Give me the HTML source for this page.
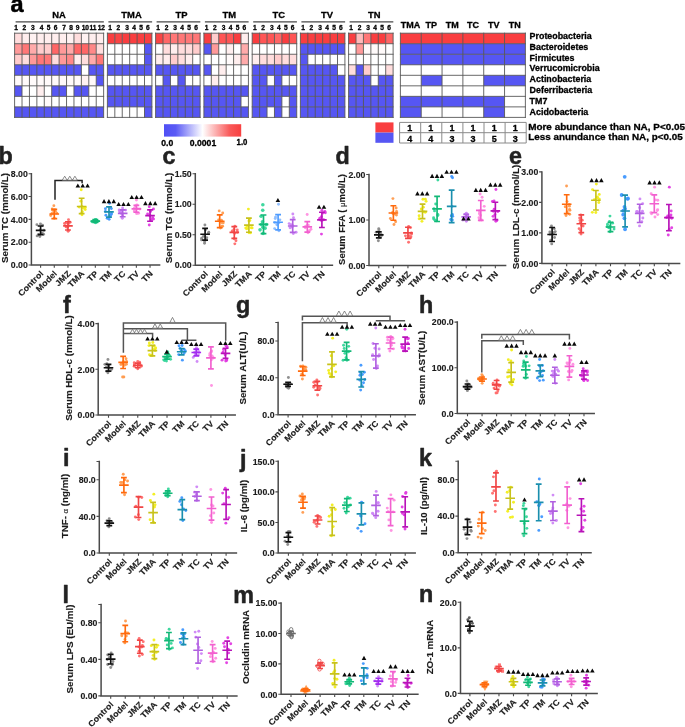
<!DOCTYPE html>
<html><head><meta charset="utf-8"><title>Figure</title>
<style>
html,body{margin:0;padding:0;background:#fff;}
body{width:685px;height:727px;overflow:hidden;font-family:"Liberation Sans",sans-serif;}
svg{display:block;}
svg text{font-family:"Liberation Sans",sans-serif;font-weight:bold;fill:#1a1a1a;stroke:#1a1a1a;stroke-width:0.3px;stroke-linejoin:round;}
svg text.L{fill:#222;stroke:#222;stroke-width:0.5px;}
svg #heatmap text{fill:#000;stroke:#000;}
svg text.P{stroke:#2b2b2b;stroke-width:0.15px;}
</style></head><body>
<div style="will-change:transform;width:685px;height:727px">
<svg width="685" height="727" viewBox="0 0 685 727">
<rect x="0" y="0" width="685" height="727" fill="#ffffff"/>
<g id="heatmap"><text class="L" x="10.5" y="12.4" font-size="23.5">a</text><rect x="14.60" y="33.20" width="7.42" height="10.53" fill="#ffdddd"/><rect x="22.02" y="33.20" width="7.42" height="10.53" fill="#ffeeee"/><rect x="29.44" y="33.20" width="7.42" height="10.53" fill="#fff2f2"/><rect x="36.86" y="33.20" width="29.68" height="10.53" fill="#ffeeee"/><rect x="66.54" y="33.20" width="7.42" height="10.53" fill="#fff2f2"/><rect x="73.96" y="33.20" width="7.42" height="10.53" fill="#ffdddd"/><rect x="81.38" y="33.20" width="7.42" height="10.53" fill="#fff2f2"/><rect x="88.80" y="33.20" width="14.84" height="10.53" fill="#ffeeee"/><rect x="14.60" y="43.73" width="7.42" height="10.53" fill="#ff9999"/><rect x="22.02" y="43.73" width="7.42" height="10.53" fill="#ff7777"/><rect x="29.44" y="43.73" width="7.42" height="10.53" fill="#ffaaaa"/><rect x="36.86" y="43.73" width="14.84" height="10.53" fill="#ffcccc"/><rect x="51.70" y="43.73" width="7.42" height="10.53" fill="#ff6666"/><rect x="59.12" y="43.73" width="7.42" height="10.53" fill="#ff9999"/><rect x="66.54" y="43.73" width="7.42" height="10.53" fill="#ffaaaa"/><rect x="73.96" y="43.73" width="14.84" height="10.53" fill="#ff6666"/><rect x="88.80" y="43.73" width="7.42" height="10.53" fill="#ff8888"/><rect x="96.22" y="43.73" width="7.42" height="10.53" fill="#ffdddd"/><rect x="14.60" y="54.25" width="7.42" height="10.53" fill="#ffcccc"/><rect x="22.02" y="54.25" width="7.42" height="10.53" fill="#ffdddd"/><rect x="29.44" y="54.25" width="7.42" height="10.53" fill="#ff9999"/><rect x="36.86" y="54.25" width="14.84" height="10.53" fill="#ff7777"/><rect x="51.70" y="54.25" width="7.42" height="10.53" fill="#ffdddd"/><rect x="59.12" y="54.25" width="7.42" height="10.53" fill="#ff9999"/><rect x="66.54" y="54.25" width="7.42" height="10.53" fill="#ff8888"/><rect x="73.96" y="54.25" width="7.42" height="10.53" fill="#ffeeee"/><rect x="81.38" y="54.25" width="7.42" height="10.53" fill="#ffdddd"/><rect x="88.80" y="54.25" width="7.42" height="10.53" fill="#ffaaaa"/><rect x="96.22" y="54.25" width="7.42" height="10.53" fill="#ff7777"/><rect x="14.60" y="64.78" width="66.78" height="10.53" fill="#5656f3"/><rect x="88.80" y="64.78" width="14.84" height="10.53" fill="#5656f3"/><rect x="14.60" y="75.30" width="66.78" height="10.53" fill="#fffafa"/><rect x="81.38" y="75.30" width="7.42" height="10.53" fill="#fff2f2"/><rect x="88.80" y="75.30" width="7.42" height="10.53" fill="#fffafa"/><rect x="96.22" y="75.30" width="7.42" height="10.53" fill="#5656f3"/><rect x="14.60" y="85.83" width="7.42" height="10.53" fill="#5656f3"/><rect x="36.86" y="85.83" width="7.42" height="10.53" fill="#ffeeee"/><rect x="51.70" y="85.83" width="14.84" height="10.53" fill="#5656f3"/><rect x="73.96" y="85.83" width="14.84" height="10.53" fill="#5656f3"/><rect x="44.28" y="96.35" width="7.42" height="10.53" fill="#fffafa"/><rect x="14.60" y="106.88" width="89.04" height="10.53" fill="#5656f3"/><path d="M14.60 33.20H103.64M14.60 43.73H103.64M14.60 54.25H103.64M14.60 64.78H103.64M14.60 75.30H103.64M14.60 85.83H103.64M14.60 96.35H103.64M14.60 106.88H103.64M14.60 117.40H103.64M14.60 33.20V117.40M22.02 33.20V117.40M29.44 33.20V117.40M36.86 33.20V117.40M44.28 33.20V117.40M51.70 33.20V117.40M59.12 33.20V117.40M66.54 33.20V117.40M73.96 33.20V117.40M81.38 33.20V117.40M88.80 33.20V117.40M96.22 33.20V117.40M103.64 33.20V117.40" stroke="#585858" stroke-width="0.90" fill="none" stroke-linecap="square"/><text x="58.90" y="17.80" font-size="9.4" text-anchor="middle">NA</text><path d="M15.60 21.9H103.84" stroke="#484848" stroke-width="1.1"/><text x="16.10" y="29.9" font-size="6.6" text-anchor="middle">1</text><text x="24.40" y="29.9" font-size="6.6" text-anchor="middle">2</text><text x="32.90" y="29.9" font-size="6.6" text-anchor="middle">3</text><text x="41.50" y="29.9" font-size="6.6" text-anchor="middle">4</text><text x="48.50" y="29.9" font-size="6.6" text-anchor="middle">5</text><text x="55.70" y="29.9" font-size="6.6" text-anchor="middle">6</text><text x="64.10" y="29.9" font-size="6.6" text-anchor="middle">7</text><text x="71.00" y="29.9" font-size="6.6" text-anchor="middle">8</text><text x="77.60" y="29.9" font-size="6.6" text-anchor="middle">9</text><text x="85.30" y="29.9" font-size="6.6" text-anchor="middle">10</text><text x="92.90" y="29.9" font-size="6.6" text-anchor="middle">11</text><text x="101.30" y="29.9" font-size="6.6" text-anchor="middle">12</text><rect x="107.40" y="33.20" width="7.42" height="10.53" fill="#f93e40"/><rect x="114.82" y="33.20" width="7.42" height="10.53" fill="#fa4444"/><rect x="122.24" y="33.20" width="29.68" height="10.53" fill="#f93e40"/><rect x="144.50" y="43.73" width="7.42" height="10.53" fill="#5656f3"/><rect x="144.50" y="54.25" width="7.42" height="10.53" fill="#5656f3"/><rect x="107.40" y="64.78" width="44.52" height="10.53" fill="#5656f3"/><rect x="107.40" y="85.83" width="44.52" height="10.53" fill="#5656f3"/><rect x="107.40" y="96.35" width="44.52" height="10.53" fill="#5656f3"/><rect x="144.50" y="106.88" width="7.42" height="10.53" fill="#5656f3"/><path d="M107.40 33.20H151.92M107.40 43.73H151.92M107.40 54.25H151.92M107.40 64.78H151.92M107.40 75.30H151.92M107.40 85.83H151.92M107.40 96.35H151.92M107.40 106.88H151.92M107.40 117.40H151.92M107.40 33.20V117.40M114.82 33.20V117.40M122.24 33.20V117.40M129.66 33.20V117.40M137.08 33.20V117.40M144.50 33.20V117.40M151.92 33.20V117.40" stroke="#585858" stroke-width="0.90" fill="none" stroke-linecap="square"/><text x="131.50" y="17.50" font-size="9.4" text-anchor="middle">TMA</text><path d="M108.40 21.9H152.12" stroke="#484848" stroke-width="1.1"/><text x="110.00" y="29.9" font-size="6.6" text-anchor="middle">1</text><text x="118.30" y="29.9" font-size="6.6" text-anchor="middle">2</text><text x="127.00" y="29.9" font-size="6.6" text-anchor="middle">3</text><text x="134.00" y="29.9" font-size="6.6" text-anchor="middle">4</text><text x="141.00" y="29.9" font-size="6.6" text-anchor="middle">5</text><text x="147.80" y="29.9" font-size="6.6" text-anchor="middle">6</text><rect x="155.60" y="33.20" width="7.42" height="10.53" fill="#fa4444"/><rect x="163.02" y="33.20" width="7.42" height="10.53" fill="#ff6666"/><rect x="170.44" y="33.20" width="29.68" height="10.53" fill="#ff7777"/><rect x="163.02" y="43.73" width="7.42" height="10.53" fill="#ffdddd"/><rect x="170.44" y="43.73" width="7.42" height="10.53" fill="#ffeeee"/><rect x="177.86" y="43.73" width="14.84" height="10.53" fill="#ffdddd"/><rect x="192.70" y="43.73" width="7.42" height="10.53" fill="#ffcccc"/><rect x="155.60" y="54.25" width="14.84" height="10.53" fill="#ffeeee"/><rect x="170.44" y="54.25" width="7.42" height="10.53" fill="#ffcccc"/><rect x="177.86" y="54.25" width="7.42" height="10.53" fill="#ffdddd"/><rect x="185.28" y="54.25" width="7.42" height="10.53" fill="#ffeeee"/><rect x="155.60" y="64.78" width="44.52" height="10.53" fill="#5656f3"/><rect x="163.02" y="75.30" width="7.42" height="10.53" fill="#5656f3"/><rect x="177.86" y="75.30" width="7.42" height="10.53" fill="#5656f3"/><rect x="155.60" y="85.83" width="44.52" height="10.53" fill="#5656f3"/><rect x="155.60" y="96.35" width="44.52" height="10.53" fill="#5656f3"/><rect x="155.60" y="106.88" width="44.52" height="10.53" fill="#5656f3"/><path d="M155.60 33.20H200.12M155.60 43.73H200.12M155.60 54.25H200.12M155.60 64.78H200.12M155.60 75.30H200.12M155.60 85.83H200.12M155.60 96.35H200.12M155.60 106.88H200.12M155.60 117.40H200.12M155.60 33.20V117.40M163.02 33.20V117.40M170.44 33.20V117.40M177.86 33.20V117.40M185.28 33.20V117.40M192.70 33.20V117.40M200.12 33.20V117.40" stroke="#585858" stroke-width="0.90" fill="none" stroke-linecap="square"/><text x="181.50" y="17.50" font-size="9.4" text-anchor="middle">TP</text><path d="M156.60 21.9H200.32" stroke="#484848" stroke-width="1.1"/><text x="158.20" y="29.9" font-size="6.6" text-anchor="middle">1</text><text x="166.50" y="29.9" font-size="6.6" text-anchor="middle">2</text><text x="175.20" y="29.9" font-size="6.6" text-anchor="middle">3</text><text x="182.20" y="29.9" font-size="6.6" text-anchor="middle">4</text><text x="189.20" y="29.9" font-size="6.6" text-anchor="middle">5</text><text x="196.00" y="29.9" font-size="6.6" text-anchor="middle">6</text><rect x="203.90" y="33.20" width="7.42" height="10.53" fill="#f93e40"/><rect x="211.32" y="33.20" width="7.42" height="10.53" fill="#ffcccc"/><rect x="218.74" y="33.20" width="14.84" height="10.53" fill="#ff5555"/><rect x="233.58" y="33.20" width="7.42" height="10.53" fill="#f93e40"/><rect x="241.00" y="33.20" width="7.42" height="10.53" fill="#ffeeee"/><rect x="203.90" y="43.73" width="7.42" height="10.53" fill="#5656f3"/><rect x="211.32" y="43.73" width="7.42" height="10.53" fill="#ff9999"/><rect x="226.16" y="43.73" width="7.42" height="10.53" fill="#ffeeee"/><rect x="241.00" y="43.73" width="7.42" height="10.53" fill="#ffaaaa"/><rect x="226.16" y="54.25" width="7.42" height="10.53" fill="#fffafa"/><rect x="233.58" y="54.25" width="7.42" height="10.53" fill="#ffeeee"/><rect x="241.00" y="54.25" width="7.42" height="10.53" fill="#ffaaaa"/><rect x="203.90" y="64.78" width="7.42" height="10.53" fill="#5656f3"/><rect x="218.74" y="64.78" width="7.42" height="10.53" fill="#ffeeee"/><rect x="211.32" y="75.30" width="7.42" height="10.53" fill="#ffeeee"/><rect x="203.90" y="85.83" width="44.52" height="10.53" fill="#5656f3"/><rect x="203.90" y="96.35" width="37.10" height="10.53" fill="#5656f3"/><rect x="203.90" y="106.88" width="44.52" height="10.53" fill="#5656f3"/><path d="M203.90 33.20H248.42M203.90 43.73H248.42M203.90 54.25H248.42M203.90 64.78H248.42M203.90 75.30H248.42M203.90 85.83H248.42M203.90 96.35H248.42M203.90 106.88H248.42M203.90 117.40H248.42M203.90 33.20V117.40M211.32 33.20V117.40M218.74 33.20V117.40M226.16 33.20V117.40M233.58 33.20V117.40M241.00 33.20V117.40M248.42 33.20V117.40" stroke="#585858" stroke-width="0.90" fill="none" stroke-linecap="square"/><text x="229.20" y="17.50" font-size="9.4" text-anchor="middle">TM</text><path d="M204.90 21.9H248.62" stroke="#484848" stroke-width="1.1"/><text x="206.50" y="29.9" font-size="6.6" text-anchor="middle">1</text><text x="214.80" y="29.9" font-size="6.6" text-anchor="middle">2</text><text x="223.50" y="29.9" font-size="6.6" text-anchor="middle">3</text><text x="230.50" y="29.9" font-size="6.6" text-anchor="middle">4</text><text x="237.50" y="29.9" font-size="6.6" text-anchor="middle">5</text><text x="244.30" y="29.9" font-size="6.6" text-anchor="middle">6</text><rect x="252.20" y="33.20" width="7.42" height="10.53" fill="#f93e40"/><rect x="259.62" y="33.20" width="14.84" height="10.53" fill="#ff5555"/><rect x="274.46" y="33.20" width="7.42" height="10.53" fill="#ff6666"/><rect x="281.88" y="33.20" width="7.42" height="10.53" fill="#f93e40"/><rect x="289.30" y="33.20" width="7.42" height="10.53" fill="#ff5555"/><rect x="252.20" y="54.25" width="7.42" height="10.53" fill="#ffeeee"/><rect x="259.62" y="54.25" width="14.84" height="10.53" fill="#ffdddd"/><rect x="274.46" y="54.25" width="7.42" height="10.53" fill="#ffcccc"/><rect x="281.88" y="54.25" width="14.84" height="10.53" fill="#ffdddd"/><rect x="252.20" y="64.78" width="44.52" height="10.53" fill="#5656f3"/><rect x="252.20" y="75.30" width="14.84" height="10.53" fill="#5656f3"/><rect x="274.46" y="75.30" width="7.42" height="10.53" fill="#5656f3"/><rect x="252.20" y="85.83" width="44.52" height="10.53" fill="#5656f3"/><rect x="252.20" y="96.35" width="29.68" height="10.53" fill="#5656f3"/><rect x="289.30" y="96.35" width="7.42" height="10.53" fill="#5656f3"/><rect x="252.20" y="106.88" width="14.84" height="10.53" fill="#5656f3"/><rect x="274.46" y="106.88" width="7.42" height="10.53" fill="#5656f3"/><rect x="289.30" y="106.88" width="7.42" height="10.53" fill="#5656f3"/><path d="M252.20 33.20H296.72M252.20 43.73H296.72M252.20 54.25H296.72M252.20 64.78H296.72M252.20 75.30H296.72M252.20 85.83H296.72M252.20 96.35H296.72M252.20 106.88H296.72M252.20 117.40H296.72M252.20 33.20V117.40M259.62 33.20V117.40M267.04 33.20V117.40M274.46 33.20V117.40M281.88 33.20V117.40M289.30 33.20V117.40M296.72 33.20V117.40" stroke="#585858" stroke-width="0.90" fill="none" stroke-linecap="square"/><text x="278.80" y="17.50" font-size="9.4" text-anchor="middle">TC</text><path d="M253.20 21.9H296.92" stroke="#484848" stroke-width="1.1"/><text x="254.80" y="29.9" font-size="6.6" text-anchor="middle">1</text><text x="263.10" y="29.9" font-size="6.6" text-anchor="middle">2</text><text x="271.80" y="29.9" font-size="6.6" text-anchor="middle">3</text><text x="278.80" y="29.9" font-size="6.6" text-anchor="middle">4</text><text x="285.80" y="29.9" font-size="6.6" text-anchor="middle">5</text><text x="292.60" y="29.9" font-size="6.6" text-anchor="middle">6</text><rect x="300.40" y="33.20" width="44.52" height="10.53" fill="#f93e40"/><rect x="300.40" y="43.73" width="44.52" height="10.53" fill="#5656f3"/><rect x="300.40" y="54.25" width="7.42" height="10.53" fill="#5656f3"/><rect x="300.40" y="64.78" width="37.10" height="10.53" fill="#5656f3"/><rect x="300.40" y="75.30" width="44.52" height="10.53" fill="#5656f3"/><rect x="300.40" y="85.83" width="44.52" height="10.53" fill="#5656f3"/><rect x="300.40" y="96.35" width="44.52" height="10.53" fill="#5656f3"/><rect x="300.40" y="106.88" width="44.52" height="10.53" fill="#5656f3"/><path d="M300.40 33.20H344.92M300.40 43.73H344.92M300.40 54.25H344.92M300.40 64.78H344.92M300.40 75.30H344.92M300.40 85.83H344.92M300.40 96.35H344.92M300.40 106.88H344.92M300.40 117.40H344.92M300.40 33.20V117.40M307.82 33.20V117.40M315.24 33.20V117.40M322.66 33.20V117.40M330.08 33.20V117.40M337.50 33.20V117.40M344.92 33.20V117.40" stroke="#585858" stroke-width="0.90" fill="none" stroke-linecap="square"/><text x="327.00" y="17.50" font-size="9.4" text-anchor="middle">TV</text><path d="M301.40 21.9H345.12" stroke="#484848" stroke-width="1.1"/><text x="303.00" y="29.9" font-size="6.6" text-anchor="middle">1</text><text x="311.30" y="29.9" font-size="6.6" text-anchor="middle">2</text><text x="320.00" y="29.9" font-size="6.6" text-anchor="middle">3</text><text x="327.00" y="29.9" font-size="6.6" text-anchor="middle">4</text><text x="334.00" y="29.9" font-size="6.6" text-anchor="middle">5</text><text x="340.80" y="29.9" font-size="6.6" text-anchor="middle">6</text><rect x="348.60" y="33.20" width="7.42" height="10.53" fill="#f93e40"/><rect x="356.02" y="33.20" width="7.42" height="10.53" fill="#ffbbbb"/><rect x="363.44" y="33.20" width="7.42" height="10.53" fill="#ff7777"/><rect x="370.86" y="33.20" width="14.84" height="10.53" fill="#f93e40"/><rect x="385.70" y="33.20" width="7.42" height="10.53" fill="#ff6666"/><rect x="356.02" y="43.73" width="7.42" height="10.53" fill="#ff9999"/><rect x="363.44" y="43.73" width="22.26" height="10.53" fill="#fffafa"/><rect x="348.60" y="64.78" width="7.42" height="10.53" fill="#ffdddd"/><rect x="356.02" y="64.78" width="7.42" height="10.53" fill="#5656f3"/><rect x="363.44" y="64.78" width="7.42" height="10.53" fill="#ffcccc"/><rect x="385.70" y="64.78" width="7.42" height="10.53" fill="#ffdddd"/><rect x="348.60" y="75.30" width="22.26" height="10.53" fill="#5656f3"/><rect x="378.28" y="75.30" width="14.84" height="10.53" fill="#5656f3"/><rect x="348.60" y="85.83" width="44.52" height="10.53" fill="#5656f3"/><rect x="348.60" y="96.35" width="44.52" height="10.53" fill="#5656f3"/><rect x="348.60" y="106.88" width="44.52" height="10.53" fill="#5656f3"/><path d="M348.60 33.20H393.12M348.60 43.73H393.12M348.60 54.25H393.12M348.60 64.78H393.12M348.60 75.30H393.12M348.60 85.83H393.12M348.60 96.35H393.12M348.60 106.88H393.12M348.60 117.40H393.12M348.60 33.20V117.40M356.02 33.20V117.40M363.44 33.20V117.40M370.86 33.20V117.40M378.28 33.20V117.40M385.70 33.20V117.40M393.12 33.20V117.40" stroke="#585858" stroke-width="0.90" fill="none" stroke-linecap="square"/><text x="374.30" y="17.50" font-size="9.4" text-anchor="middle">TN</text><path d="M349.60 21.9H393.32" stroke="#484848" stroke-width="1.1"/><text x="351.20" y="29.9" font-size="6.6" text-anchor="middle">1</text><text x="359.50" y="29.9" font-size="6.6" text-anchor="middle">2</text><text x="368.20" y="29.9" font-size="6.6" text-anchor="middle">3</text><text x="375.20" y="29.9" font-size="6.6" text-anchor="middle">4</text><text x="382.20" y="29.9" font-size="6.6" text-anchor="middle">5</text><text x="389.00" y="29.9" font-size="6.6" text-anchor="middle">6</text><rect x="400.40" y="33.20" width="124.98" height="10.53" fill="#f93e40"/><rect x="400.40" y="43.73" width="124.98" height="10.53" fill="#5656f3"/><rect x="400.40" y="54.25" width="124.98" height="10.53" fill="#5656f3"/><rect x="421.23" y="75.30" width="20.83" height="10.53" fill="#5656f3"/><rect x="483.72" y="75.30" width="41.66" height="10.53" fill="#5656f3"/><rect x="400.40" y="96.35" width="104.15" height="10.53" fill="#5656f3"/><rect x="400.40" y="106.88" width="20.83" height="10.53" fill="#5656f3"/><rect x="483.72" y="106.88" width="20.83" height="10.53" fill="#5656f3"/><path d="M400.40 33.20H525.38M400.40 43.73H525.38M400.40 54.25H525.38M400.40 64.78H525.38M400.40 75.30H525.38M400.40 85.83H525.38M400.40 96.35H525.38M400.40 106.88H525.38M400.40 117.40H525.38M400.40 33.20V117.40M421.23 33.20V117.40M442.06 33.20V117.40M462.89 33.20V117.40M483.72 33.20V117.40M504.55 33.20V117.40M525.38 33.20V117.40" stroke="#585858" stroke-width="0.90" fill="none" stroke-linecap="square"/><text x="410.51" y="27.5" font-size="9" text-anchor="middle">TMA</text><text x="431.34" y="27.5" font-size="9" text-anchor="middle">TP</text><text x="452.17" y="27.5" font-size="9" text-anchor="middle">TM</text><text x="473.00" y="27.5" font-size="9" text-anchor="middle">TC</text><text x="493.83" y="27.5" font-size="9" text-anchor="middle">TV</text><text x="514.66" y="27.5" font-size="9" text-anchor="middle">TN</text><text x="529.6" y="38.90" font-size="8.9">Proteobacteria</text><text x="529.6" y="49.70" font-size="8.9">Bacteroidetes</text><text x="529.6" y="60.50" font-size="8.9">Firmicutes</text><text x="529.6" y="71.30" font-size="8.9">Verrucomicrobia</text><text x="529.6" y="82.10" font-size="8.9">Actinobacteria</text><text x="529.6" y="92.90" font-size="8.9">Deferribacteria</text><text x="529.6" y="103.70" font-size="8.9">TM7</text><text x="529.6" y="114.50" font-size="8.9">Acidobacteria</text><path d="M399.60 122.40H526.20M399.60 132.70H526.20M399.60 143.00H526.20M399.60 122.40V143.00M420.70 122.40V143.00M441.80 122.40V143.00M462.90 122.40V143.00M484.00 122.40V143.00M505.10 122.40V143.00M526.20 122.40V143.00" stroke="#8a8a8a" stroke-width="1.0" fill="none"/><text x="409.75" y="131.1" font-size="9" text-anchor="middle">1</text><text x="409.75" y="141.5" font-size="9" text-anchor="middle">4</text><text x="430.85" y="131.1" font-size="9" text-anchor="middle">1</text><text x="430.85" y="141.5" font-size="9" text-anchor="middle">4</text><text x="451.95" y="131.1" font-size="9" text-anchor="middle">1</text><text x="451.95" y="141.5" font-size="9" text-anchor="middle">3</text><text x="473.05" y="131.1" font-size="9" text-anchor="middle">1</text><text x="473.05" y="141.5" font-size="9" text-anchor="middle">3</text><text x="494.15" y="131.1" font-size="9" text-anchor="middle">1</text><text x="494.15" y="141.5" font-size="9" text-anchor="middle">5</text><text x="515.25" y="131.1" font-size="9" text-anchor="middle">1</text><text x="515.25" y="141.5" font-size="9" text-anchor="middle">3</text><text x="528.2" y="129.5" font-size="9.7" textLength="156.8" lengthAdjust="spacingAndGlyphs">More abundance than NA, P&lt;0.05</text><text x="528.2" y="140.3" font-size="9.7" textLength="154.6" lengthAdjust="spacingAndGlyphs">Less anundance than NA, p&lt;0.05</text><rect x="375.4" y="122.4" width="18.1" height="10.2" fill="#f93e40"/><rect x="375.4" y="132.6" width="18.1" height="10.2" fill="#5656f3"/><defs><linearGradient id="cb" x1="0" x2="1" y1="0" y2="0"><stop offset="0" stop-color="#5050f5"/><stop offset="0.15" stop-color="#5a5af5"/><stop offset="0.5" stop-color="#ffffff"/><stop offset="0.85" stop-color="#f95a5a"/><stop offset="1" stop-color="#f84040"/></linearGradient></defs><rect x="164.0" y="124.2" width="77.2" height="12.4" fill="url(#cb)"/><text x="161.2" y="145.6" font-size="8.7" textLength="12" lengthAdjust="spacingAndGlyphs">0.0</text><text x="189.8" y="145.6" font-size="8.7" textLength="26.4" lengthAdjust="spacingAndGlyphs">0.0001</text><text x="236.6" y="144.5" font-size="8.7" textLength="10.8" lengthAdjust="spacingAndGlyphs">1.0</text></g><g><circle cx="39.85" cy="236.47" r="1.45" fill="#8a8a8a" fill-opacity="0.95"/><circle cx="40.49" cy="223.91" r="1.45" fill="#8a8a8a" fill-opacity="0.95"/><circle cx="42.54" cy="225.28" r="1.45" fill="#8a8a8a" fill-opacity="0.95"/><circle cx="36.92" cy="224.65" r="1.45" fill="#8a8a8a" fill-opacity="0.95"/><circle cx="40.20" cy="230.05" r="1.45" fill="#8a8a8a" fill-opacity="0.95"/><circle cx="42.24" cy="233.29" r="1.45" fill="#8a8a8a" fill-opacity="0.95"/><circle cx="38.59" cy="234.57" r="1.45" fill="#8a8a8a" fill-opacity="0.95"/><circle cx="43.90" cy="230.18" r="1.45" fill="#8a8a8a" fill-opacity="0.95"/><circle cx="43.57" cy="234.30" r="1.45" fill="#8a8a8a" fill-opacity="0.95"/><circle cx="37.13" cy="235.91" r="1.45" fill="#8a8a8a" fill-opacity="0.95"/><path d="M40.60 225.97V234.64M37.70 225.97H43.50M37.70 234.64H43.50M35.80 230.31H45.40" stroke="#111111" stroke-width="1.65" fill="none"/><circle cx="54.27" cy="218.21" r="1.45" fill="#ff9a4d" fill-opacity="0.95"/><circle cx="53.85" cy="205.66" r="1.45" fill="#ff9a4d" fill-opacity="0.95"/><circle cx="52.20" cy="208.92" r="1.45" fill="#ff9a4d" fill-opacity="0.95"/><circle cx="53.98" cy="213.17" r="1.45" fill="#ff9a4d" fill-opacity="0.95"/><circle cx="52.72" cy="210.25" r="1.45" fill="#ff9a4d" fill-opacity="0.95"/><circle cx="50.74" cy="215.49" r="1.45" fill="#ff9a4d" fill-opacity="0.95"/><circle cx="56.78" cy="213.09" r="1.45" fill="#ff9a4d" fill-opacity="0.95"/><circle cx="54.70" cy="209.78" r="1.45" fill="#ff9a4d" fill-opacity="0.95"/><circle cx="55.33" cy="211.13" r="1.45" fill="#ff9a4d" fill-opacity="0.95"/><circle cx="51.96" cy="213.46" r="1.45" fill="#ff9a4d" fill-opacity="0.95"/><path d="M54.28 209.42V218.55M51.38 209.42H57.18M51.38 218.55H57.18M49.48 213.99H59.08" stroke="#ff6a0d" stroke-width="1.65" fill="none"/><circle cx="68.10" cy="231.33" r="1.45" fill="#ff6b6b" fill-opacity="0.95"/><circle cx="68.51" cy="219.69" r="1.45" fill="#ff6b6b" fill-opacity="0.95"/><circle cx="68.00" cy="226.20" r="1.45" fill="#ff6b6b" fill-opacity="0.95"/><circle cx="68.62" cy="223.44" r="1.45" fill="#ff6b6b" fill-opacity="0.95"/><circle cx="64.52" cy="223.56" r="1.45" fill="#ff6b6b" fill-opacity="0.95"/><circle cx="66.06" cy="226.89" r="1.45" fill="#ff6b6b" fill-opacity="0.95"/><circle cx="70.16" cy="222.29" r="1.45" fill="#ff6b6b" fill-opacity="0.95"/><circle cx="67.33" cy="227.36" r="1.45" fill="#ff6b6b" fill-opacity="0.95"/><circle cx="65.54" cy="223.20" r="1.45" fill="#ff6b6b" fill-opacity="0.95"/><circle cx="68.32" cy="230.68" r="1.45" fill="#ff6b6b" fill-opacity="0.95"/><path d="M67.96 221.75V229.96M65.06 221.75H70.86M65.06 229.96H70.86M63.16 225.86H72.76" stroke="#f04545" stroke-width="1.65" fill="none"/><circle cx="81.97" cy="214.78" r="1.45" fill="#f2ee1a" fill-opacity="0.95"/><circle cx="85.22" cy="209.47" r="1.45" fill="#f2ee1a" fill-opacity="0.95"/><circle cx="82.33" cy="211.71" r="1.45" fill="#f2ee1a" fill-opacity="0.95"/><circle cx="80.85" cy="201.17" r="1.45" fill="#f2ee1a" fill-opacity="0.95"/><circle cx="79.20" cy="207.09" r="1.45" fill="#f2ee1a" fill-opacity="0.95"/><circle cx="81.66" cy="213.32" r="1.45" fill="#f2ee1a" fill-opacity="0.95"/><circle cx="85.21" cy="207.36" r="1.45" fill="#f2ee1a" fill-opacity="0.95"/><circle cx="83.64" cy="208.15" r="1.45" fill="#f2ee1a" fill-opacity="0.95"/><circle cx="81.93" cy="206.34" r="1.45" fill="#f2ee1a" fill-opacity="0.95"/><circle cx="81.21" cy="189.68" r="1.45" fill="#f2ee1a" fill-opacity="0.95"/><path d="M81.64 198.24V213.64M78.74 198.24H84.54M78.74 213.64H84.54M76.84 206.45H86.44" stroke="#c8c21a" stroke-width="1.65" fill="none"/><circle cx="95.70" cy="222.77" r="1.45" fill="#35d69a" fill-opacity="0.95"/><circle cx="95.35" cy="219.35" r="1.45" fill="#35d69a" fill-opacity="0.95"/><circle cx="95.77" cy="221.32" r="1.45" fill="#35d69a" fill-opacity="0.95"/><circle cx="94.77" cy="222.27" r="1.45" fill="#35d69a" fill-opacity="0.95"/><circle cx="92.04" cy="221.70" r="1.45" fill="#35d69a" fill-opacity="0.95"/><circle cx="98.06" cy="221.25" r="1.45" fill="#35d69a" fill-opacity="0.95"/><circle cx="95.84" cy="219.52" r="1.45" fill="#35d69a" fill-opacity="0.95"/><circle cx="93.10" cy="220.93" r="1.45" fill="#35d69a" fill-opacity="0.95"/><circle cx="95.35" cy="221.10" r="1.45" fill="#35d69a" fill-opacity="0.95"/><circle cx="95.21" cy="220.58" r="1.45" fill="#35d69a" fill-opacity="0.95"/><path d="M95.32 219.69V222.43M92.42 219.69H98.22M92.42 222.43H98.22M90.52 221.06H100.12" stroke="#12b877" stroke-width="1.65" fill="none"/><circle cx="109.14" cy="219.35" r="1.45" fill="#3f97ff" fill-opacity="0.95"/><circle cx="109.48" cy="203.37" r="1.45" fill="#3f97ff" fill-opacity="0.95"/><circle cx="111.20" cy="214.58" r="1.45" fill="#3f97ff" fill-opacity="0.95"/><circle cx="111.34" cy="208.60" r="1.45" fill="#3f97ff" fill-opacity="0.95"/><circle cx="107.19" cy="218.20" r="1.45" fill="#3f97ff" fill-opacity="0.95"/><circle cx="111.53" cy="213.48" r="1.45" fill="#3f97ff" fill-opacity="0.95"/><circle cx="110.28" cy="215.82" r="1.45" fill="#3f97ff" fill-opacity="0.95"/><circle cx="105.92" cy="215.25" r="1.45" fill="#3f97ff" fill-opacity="0.95"/><circle cx="105.42" cy="208.64" r="1.45" fill="#3f97ff" fill-opacity="0.95"/><circle cx="105.41" cy="211.35" r="1.45" fill="#3f97ff" fill-opacity="0.95"/><path d="M109.00 206.80V217.07M106.10 206.80H111.90M106.10 217.07H111.90M104.20 211.93H113.80" stroke="#1a8fae" stroke-width="1.65" fill="none"/><circle cx="122.32" cy="218.21" r="1.45" fill="#cf86f7" fill-opacity="0.95"/><circle cx="122.61" cy="207.94" r="1.45" fill="#cf86f7" fill-opacity="0.95"/><circle cx="121.36" cy="213.22" r="1.45" fill="#cf86f7" fill-opacity="0.95"/><circle cx="122.49" cy="215.63" r="1.45" fill="#cf86f7" fill-opacity="0.95"/><circle cx="119.15" cy="209.97" r="1.45" fill="#cf86f7" fill-opacity="0.95"/><circle cx="121.84" cy="210.56" r="1.45" fill="#cf86f7" fill-opacity="0.95"/><circle cx="122.09" cy="213.96" r="1.45" fill="#cf86f7" fill-opacity="0.95"/><circle cx="120.37" cy="212.33" r="1.45" fill="#cf86f7" fill-opacity="0.95"/><circle cx="119.78" cy="211.27" r="1.45" fill="#cf86f7" fill-opacity="0.95"/><circle cx="125.64" cy="210.12" r="1.45" fill="#cf86f7" fill-opacity="0.95"/><path d="M122.68 209.88V216.73M119.78 209.88H125.58M119.78 216.73H125.58M117.88 213.30H127.48" stroke="#b060e0" stroke-width="1.65" fill="none"/><circle cx="136.69" cy="213.64" r="1.45" fill="#ff8fe0" fill-opacity="0.95"/><circle cx="136.43" cy="199.95" r="1.45" fill="#ff8fe0" fill-opacity="0.95"/><circle cx="134.29" cy="210.96" r="1.45" fill="#ff8fe0" fill-opacity="0.95"/><circle cx="139.88" cy="208.98" r="1.45" fill="#ff8fe0" fill-opacity="0.95"/><circle cx="138.56" cy="213.32" r="1.45" fill="#ff8fe0" fill-opacity="0.95"/><circle cx="136.48" cy="212.35" r="1.45" fill="#ff8fe0" fill-opacity="0.95"/><circle cx="134.31" cy="208.27" r="1.45" fill="#ff8fe0" fill-opacity="0.95"/><circle cx="137.46" cy="208.77" r="1.45" fill="#ff8fe0" fill-opacity="0.95"/><circle cx="135.58" cy="205.88" r="1.45" fill="#ff8fe0" fill-opacity="0.95"/><circle cx="136.92" cy="204.94" r="1.45" fill="#ff8fe0" fill-opacity="0.95"/><path d="M136.36 205.43V212.27M133.46 205.43H139.26M133.46 212.27H139.26M131.56 208.85H141.16" stroke="#f260cf" stroke-width="1.65" fill="none"/><circle cx="149.25" cy="225.06" r="1.45" fill="#e23be2" fill-opacity="0.95"/><circle cx="149.30" cy="206.80" r="1.45" fill="#e23be2" fill-opacity="0.95"/><circle cx="152.40" cy="218.72" r="1.45" fill="#e23be2" fill-opacity="0.95"/><circle cx="153.46" cy="209.05" r="1.45" fill="#e23be2" fill-opacity="0.95"/><circle cx="150.56" cy="211.55" r="1.45" fill="#e23be2" fill-opacity="0.95"/><circle cx="147.61" cy="214.02" r="1.45" fill="#e23be2" fill-opacity="0.95"/><circle cx="152.76" cy="217.68" r="1.45" fill="#e23be2" fill-opacity="0.95"/><circle cx="153.55" cy="219.11" r="1.45" fill="#e23be2" fill-opacity="0.95"/><circle cx="151.55" cy="220.08" r="1.45" fill="#e23be2" fill-opacity="0.95"/><circle cx="150.11" cy="215.79" r="1.45" fill="#e23be2" fill-opacity="0.95"/><path d="M150.04 209.88V221.29M147.14 209.88H152.94M147.14 221.29H152.94M145.24 215.58H154.84" stroke="#b812b8" stroke-width="1.65" fill="none"/><path d="M31.40 173.70V265.00H159.60" stroke="#4a4a4a" stroke-width="1.5" fill="none" stroke-linecap="square"/><text x="27.80" y="268.25" font-size="9.20" text-anchor="end" class="P" fill="#2b2b2b" transform="translate(27.80 0) scale(0.950 1) translate(-27.80 0)">0.00</text><text x="27.80" y="245.43" font-size="9.20" text-anchor="end" class="P" fill="#2b2b2b" transform="translate(27.80 0) scale(0.950 1) translate(-27.80 0)">2.00</text><text x="27.80" y="222.60" font-size="9.20" text-anchor="end" class="P" fill="#2b2b2b" transform="translate(27.80 0) scale(0.950 1) translate(-27.80 0)">4.00</text><text x="27.80" y="199.77" font-size="9.20" text-anchor="end" class="P" fill="#2b2b2b" transform="translate(27.80 0) scale(0.950 1) translate(-27.80 0)">6.00</text><text x="27.80" y="176.95" font-size="9.20" text-anchor="end" class="P" fill="#2b2b2b" transform="translate(27.80 0) scale(0.950 1) translate(-27.80 0)">8.00</text><path d="M28.60 265.00H31.40M28.60 242.18H31.40M28.60 219.35H31.40M28.60 196.52H31.40M28.60 173.70H31.40M40.60 265.00V267.80M54.28 265.00V267.80M67.96 265.00V267.80M81.64 265.00V267.80M95.32 265.00V267.80M109.00 265.00V267.80M122.68 265.00V267.80M136.36 265.00V267.80M150.04 265.00V267.80" stroke="#4a4a4a" stroke-width="1.1" fill="none"/><text font-size="8.30" text-anchor="end" class="P" fill="#2b2b2b" transform="translate(43.90 274.20) rotate(-45) scale(1.080 1)">Control</text><text font-size="8.30" text-anchor="end" class="P" fill="#2b2b2b" transform="translate(57.58 274.20) rotate(-45) scale(1.080 1)">Model</text><text font-size="8.30" text-anchor="end" class="P" fill="#2b2b2b" transform="translate(71.26 274.20) rotate(-45) scale(1.080 1)">JMZ</text><text font-size="8.30" text-anchor="end" class="P" fill="#2b2b2b" transform="translate(84.94 274.20) rotate(-45) scale(1.080 1)">TMA</text><text font-size="8.30" text-anchor="end" class="P" fill="#2b2b2b" transform="translate(98.62 274.20) rotate(-45) scale(1.080 1)">TP</text><text font-size="8.30" text-anchor="end" class="P" fill="#2b2b2b" transform="translate(112.30 274.20) rotate(-45) scale(1.080 1)">TM</text><text font-size="8.30" text-anchor="end" class="P" fill="#2b2b2b" transform="translate(125.98 274.20) rotate(-45) scale(1.080 1)">TC</text><text font-size="8.30" text-anchor="end" class="P" fill="#2b2b2b" transform="translate(139.66 274.20) rotate(-45) scale(1.080 1)">TV</text><text font-size="8.30" text-anchor="end" class="P" fill="#2b2b2b" transform="translate(153.34 274.20) rotate(-45) scale(1.080 1)">TN</text><text font-size="9.30" text-anchor="middle" class="P" fill="#2b2b2b" transform="translate(8.30 218.00) rotate(-90) scale(1.050 1)">Serum TC (mmol/L)</text><text class="L" x="-1.40" y="163.80" font-size="23.3" fill="#111">b</text><path d="M55.0 199.7V180.6H82.1V183.2" stroke="#222" stroke-width="1.5" fill="none"/><polygon points="62.25,180.20 67.15,180.20 64.70,176.20" fill="#fff" stroke="#666" stroke-width="0.75"/><polygon points="67.35,180.20 72.25,180.20 69.80,176.20" fill="#fff" stroke="#666" stroke-width="0.75"/><polygon points="72.45,180.20 77.35,180.20 74.90,176.20" fill="#fff" stroke="#666" stroke-width="0.75"/><polygon points="75.55,187.50 80.15,187.50 77.85,183.40" fill="#0a0a0a"/><polygon points="80.40,187.50 85.00,187.50 82.70,183.40" fill="#0a0a0a"/><polygon points="85.25,187.50 89.85,187.50 87.55,183.40" fill="#0a0a0a"/><polygon points="101.75,203.20 106.35,203.20 104.05,199.10" fill="#0a0a0a"/><polygon points="106.60,203.20 111.20,203.20 108.90,199.10" fill="#0a0a0a"/><polygon points="111.45,203.20 116.05,203.20 113.75,199.10" fill="#0a0a0a"/><polygon points="116.35,206.00 120.95,206.00 118.65,201.90" fill="#0a0a0a"/><polygon points="121.20,206.00 125.80,206.00 123.50,201.90" fill="#0a0a0a"/><polygon points="126.05,206.00 130.65,206.00 128.35,201.90" fill="#0a0a0a"/><polygon points="129.45,199.00 134.05,199.00 131.75,194.90" fill="#0a0a0a"/><polygon points="134.30,199.00 138.90,199.00 136.60,194.90" fill="#0a0a0a"/><polygon points="139.15,199.00 143.75,199.00 141.45,194.90" fill="#0a0a0a"/><polygon points="143.15,205.20 147.75,205.20 145.45,201.10" fill="#0a0a0a"/><polygon points="148.00,205.20 152.60,205.20 150.30,201.10" fill="#0a0a0a"/><polygon points="152.85,205.20 157.45,205.20 155.15,201.10" fill="#0a0a0a"/></g><g><circle cx="204.55" cy="243.24" r="1.45" fill="#8a8a8a" fill-opacity="0.95"/><circle cx="204.93" cy="224.94" r="1.45" fill="#8a8a8a" fill-opacity="0.95"/><circle cx="206.75" cy="237.71" r="1.45" fill="#8a8a8a" fill-opacity="0.95"/><circle cx="208.76" cy="232.13" r="1.45" fill="#8a8a8a" fill-opacity="0.95"/><circle cx="208.43" cy="233.44" r="1.45" fill="#8a8a8a" fill-opacity="0.95"/><circle cx="205.43" cy="229.81" r="1.45" fill="#8a8a8a" fill-opacity="0.95"/><circle cx="204.69" cy="241.60" r="1.45" fill="#8a8a8a" fill-opacity="0.95"/><circle cx="203.38" cy="236.40" r="1.45" fill="#8a8a8a" fill-opacity="0.95"/><circle cx="201.67" cy="238.17" r="1.45" fill="#8a8a8a" fill-opacity="0.95"/><circle cx="201.60" cy="239.88" r="1.45" fill="#8a8a8a" fill-opacity="0.95"/><path d="M205.10 228.36V240.07M202.20 228.36H208.00M202.20 240.07H208.00M200.30 234.21H209.90" stroke="#111111" stroke-width="1.65" fill="none"/><circle cx="220.50" cy="227.99" r="1.45" fill="#ff9a4d" fill-opacity="0.95"/><circle cx="219.19" cy="210.91" r="1.45" fill="#ff9a4d" fill-opacity="0.95"/><circle cx="222.61" cy="226.14" r="1.45" fill="#ff9a4d" fill-opacity="0.95"/><circle cx="221.90" cy="226.21" r="1.45" fill="#ff9a4d" fill-opacity="0.95"/><circle cx="221.43" cy="220.18" r="1.45" fill="#ff9a4d" fill-opacity="0.95"/><circle cx="222.71" cy="212.96" r="1.45" fill="#ff9a4d" fill-opacity="0.95"/><circle cx="221.65" cy="222.47" r="1.45" fill="#ff9a4d" fill-opacity="0.95"/><circle cx="221.84" cy="221.17" r="1.45" fill="#ff9a4d" fill-opacity="0.95"/><circle cx="218.62" cy="220.02" r="1.45" fill="#ff9a4d" fill-opacity="0.95"/><circle cx="223.26" cy="222.70" r="1.45" fill="#ff9a4d" fill-opacity="0.95"/><path d="M219.70 214.88V227.69M216.80 214.88H222.60M216.80 227.69H222.60M214.90 221.28H224.50" stroke="#ff6a0d" stroke-width="1.65" fill="none"/><circle cx="234.83" cy="243.85" r="1.45" fill="#ff6b6b" fill-opacity="0.95"/><circle cx="234.91" cy="226.16" r="1.45" fill="#ff6b6b" fill-opacity="0.95"/><circle cx="237.26" cy="229.90" r="1.45" fill="#ff6b6b" fill-opacity="0.95"/><circle cx="234.01" cy="229.41" r="1.45" fill="#ff6b6b" fill-opacity="0.95"/><circle cx="234.80" cy="233.18" r="1.45" fill="#ff6b6b" fill-opacity="0.95"/><circle cx="237.41" cy="232.23" r="1.45" fill="#ff6b6b" fill-opacity="0.95"/><circle cx="235.96" cy="240.79" r="1.45" fill="#ff6b6b" fill-opacity="0.95"/><circle cx="234.20" cy="238.73" r="1.45" fill="#ff6b6b" fill-opacity="0.95"/><circle cx="232.24" cy="230.89" r="1.45" fill="#ff6b6b" fill-opacity="0.95"/><circle cx="233.00" cy="231.69" r="1.45" fill="#ff6b6b" fill-opacity="0.95"/><path d="M234.30 226.59V238.30M231.40 226.59H237.20M231.40 238.30H237.20M229.50 232.44H239.10" stroke="#f04545" stroke-width="1.65" fill="none"/><circle cx="249.04" cy="232.87" r="1.45" fill="#f2ee1a" fill-opacity="0.95"/><circle cx="247.51" cy="226.37" r="1.45" fill="#f2ee1a" fill-opacity="0.95"/><circle cx="246.74" cy="228.80" r="1.45" fill="#f2ee1a" fill-opacity="0.95"/><circle cx="248.99" cy="221.01" r="1.45" fill="#f2ee1a" fill-opacity="0.95"/><circle cx="252.11" cy="227.91" r="1.45" fill="#f2ee1a" fill-opacity="0.95"/><circle cx="249.81" cy="220.57" r="1.45" fill="#f2ee1a" fill-opacity="0.95"/><circle cx="245.76" cy="228.06" r="1.45" fill="#f2ee1a" fill-opacity="0.95"/><circle cx="251.27" cy="227.80" r="1.45" fill="#f2ee1a" fill-opacity="0.95"/><circle cx="250.57" cy="232.81" r="1.45" fill="#f2ee1a" fill-opacity="0.95"/><circle cx="248.41" cy="209.08" r="1.45" fill="#f2ee1a" fill-opacity="0.95"/><path d="M248.90 218.17V232.20M246.00 218.17H251.80M246.00 232.20H251.80M244.10 225.18H253.70" stroke="#c8c21a" stroke-width="1.65" fill="none"/><circle cx="263.09" cy="233.48" r="1.80" fill="#35d69a" fill-opacity="0.95"/><circle cx="261.36" cy="224.60" r="1.80" fill="#35d69a" fill-opacity="0.95"/><circle cx="266.32" cy="224.43" r="1.80" fill="#35d69a" fill-opacity="0.95"/><circle cx="262.93" cy="227.25" r="1.80" fill="#35d69a" fill-opacity="0.95"/><circle cx="265.11" cy="228.17" r="1.80" fill="#35d69a" fill-opacity="0.95"/><circle cx="260.04" cy="229.83" r="1.80" fill="#35d69a" fill-opacity="0.95"/><circle cx="262.48" cy="221.82" r="1.80" fill="#35d69a" fill-opacity="0.95"/><circle cx="261.07" cy="216.31" r="1.80" fill="#35d69a" fill-opacity="0.95"/><circle cx="262.83" cy="204.81" r="1.80" fill="#35d69a" fill-opacity="0.95"/><circle cx="262.74" cy="210.30" r="1.80" fill="#35d69a" fill-opacity="0.95"/><path d="M263.50 215.00V233.66M260.60 215.00H266.40M260.60 233.66H266.40M258.70 224.33H268.30" stroke="#12b877" stroke-width="1.65" fill="none"/><circle cx="278.88" cy="230.73" r="1.45" fill="#8bbcff" fill-opacity="0.95"/><circle cx="275.52" cy="217.09" r="1.45" fill="#8bbcff" fill-opacity="0.95"/><circle cx="274.67" cy="222.44" r="1.45" fill="#8bbcff" fill-opacity="0.95"/><circle cx="276.95" cy="223.66" r="1.45" fill="#8bbcff" fill-opacity="0.95"/><circle cx="278.95" cy="222.71" r="1.45" fill="#8bbcff" fill-opacity="0.95"/><circle cx="279.89" cy="219.85" r="1.45" fill="#8bbcff" fill-opacity="0.95"/><circle cx="275.24" cy="218.61" r="1.45" fill="#8bbcff" fill-opacity="0.95"/><circle cx="276.90" cy="224.69" r="1.45" fill="#8bbcff" fill-opacity="0.95"/><circle cx="274.63" cy="228.58" r="1.45" fill="#8bbcff" fill-opacity="0.95"/><circle cx="278.53" cy="204.20" r="1.45" fill="#8bbcff" fill-opacity="0.95"/><path d="M278.10 214.63V229.88M275.20 214.63H281.00M275.20 229.88H281.00M273.30 222.26H282.90" stroke="#4d9bff" stroke-width="1.65" fill="none"/><circle cx="293.30" cy="233.48" r="1.45" fill="#cf86f7" fill-opacity="0.95"/><circle cx="292.84" cy="213.96" r="1.45" fill="#cf86f7" fill-opacity="0.95"/><circle cx="291.91" cy="226.82" r="1.45" fill="#cf86f7" fill-opacity="0.95"/><circle cx="292.81" cy="225.63" r="1.45" fill="#cf86f7" fill-opacity="0.95"/><circle cx="290.06" cy="227.84" r="1.45" fill="#cf86f7" fill-opacity="0.95"/><circle cx="296.10" cy="232.31" r="1.45" fill="#cf86f7" fill-opacity="0.95"/><circle cx="290.92" cy="224.74" r="1.45" fill="#cf86f7" fill-opacity="0.95"/><circle cx="293.48" cy="217.66" r="1.45" fill="#cf86f7" fill-opacity="0.95"/><circle cx="292.11" cy="227.12" r="1.45" fill="#cf86f7" fill-opacity="0.95"/><circle cx="289.13" cy="223.59" r="1.45" fill="#cf86f7" fill-opacity="0.95"/><path d="M292.70 219.63V232.44M289.80 219.63H295.60M289.80 232.44H295.60M287.90 226.04H297.50" stroke="#b060e0" stroke-width="1.65" fill="none"/><circle cx="307.99" cy="232.87" r="1.45" fill="#ff8fe0" fill-opacity="0.95"/><circle cx="310.96" cy="229.32" r="1.45" fill="#ff8fe0" fill-opacity="0.95"/><circle cx="305.32" cy="227.82" r="1.45" fill="#ff8fe0" fill-opacity="0.95"/><circle cx="306.89" cy="225.74" r="1.45" fill="#ff8fe0" fill-opacity="0.95"/><circle cx="305.46" cy="226.46" r="1.45" fill="#ff8fe0" fill-opacity="0.95"/><circle cx="307.98" cy="225.77" r="1.45" fill="#ff8fe0" fill-opacity="0.95"/><circle cx="308.22" cy="225.09" r="1.45" fill="#ff8fe0" fill-opacity="0.95"/><circle cx="309.52" cy="230.61" r="1.45" fill="#ff8fe0" fill-opacity="0.95"/><circle cx="308.85" cy="231.11" r="1.45" fill="#ff8fe0" fill-opacity="0.95"/><circle cx="307.18" cy="214.57" r="1.45" fill="#ff8fe0" fill-opacity="0.95"/><path d="M307.30 221.65V232.14M304.40 221.65H310.20M304.40 232.14H310.20M302.50 226.89H312.10" stroke="#f260cf" stroke-width="1.65" fill="none"/><circle cx="321.47" cy="234.09" r="1.45" fill="#e23be2" fill-opacity="0.95"/><circle cx="321.93" cy="210.30" r="1.45" fill="#e23be2" fill-opacity="0.95"/><circle cx="321.64" cy="220.54" r="1.45" fill="#e23be2" fill-opacity="0.95"/><circle cx="320.49" cy="219.99" r="1.45" fill="#e23be2" fill-opacity="0.95"/><circle cx="322.95" cy="213.02" r="1.45" fill="#e23be2" fill-opacity="0.95"/><circle cx="319.77" cy="218.32" r="1.45" fill="#e23be2" fill-opacity="0.95"/><circle cx="324.91" cy="211.45" r="1.45" fill="#e23be2" fill-opacity="0.95"/><circle cx="325.33" cy="212.80" r="1.45" fill="#e23be2" fill-opacity="0.95"/><circle cx="323.59" cy="219.70" r="1.45" fill="#e23be2" fill-opacity="0.95"/><circle cx="321.41" cy="216.74" r="1.45" fill="#e23be2" fill-opacity="0.95"/><path d="M321.90 212.25V227.50M319.00 212.25H324.80M319.00 227.50H324.80M317.10 219.88H326.70" stroke="#b812b8" stroke-width="1.65" fill="none"/><path d="M195.30 173.70V265.20H332.40" stroke="#4a4a4a" stroke-width="1.5" fill="none" stroke-linecap="square"/><text x="191.70" y="268.45" font-size="9.20" text-anchor="end" class="P" fill="#2b2b2b" transform="translate(191.70 0) scale(0.950 1) translate(-191.70 0)">0.00</text><text x="191.70" y="237.95" font-size="9.20" text-anchor="end" class="P" fill="#2b2b2b" transform="translate(191.70 0) scale(0.950 1) translate(-191.70 0)">0.50</text><text x="191.70" y="207.45" font-size="9.20" text-anchor="end" class="P" fill="#2b2b2b" transform="translate(191.70 0) scale(0.950 1) translate(-191.70 0)">1.00</text><text x="191.70" y="176.95" font-size="9.20" text-anchor="end" class="P" fill="#2b2b2b" transform="translate(191.70 0) scale(0.950 1) translate(-191.70 0)">1.50</text><path d="M192.50 265.20H195.30M192.50 234.70H195.30M192.50 204.20H195.30M192.50 173.70H195.30M205.10 265.20V268.00M219.70 265.20V268.00M234.30 265.20V268.00M248.90 265.20V268.00M263.50 265.20V268.00M278.10 265.20V268.00M292.70 265.20V268.00M307.30 265.20V268.00M321.90 265.20V268.00" stroke="#4a4a4a" stroke-width="1.1" fill="none"/><text font-size="8.30" text-anchor="end" class="P" fill="#2b2b2b" transform="translate(208.40 274.40) rotate(-45) scale(1.080 1)">Control</text><text font-size="8.30" text-anchor="end" class="P" fill="#2b2b2b" transform="translate(223.00 274.40) rotate(-45) scale(1.080 1)">Model</text><text font-size="8.30" text-anchor="end" class="P" fill="#2b2b2b" transform="translate(237.60 274.40) rotate(-45) scale(1.080 1)">JMZ</text><text font-size="8.30" text-anchor="end" class="P" fill="#2b2b2b" transform="translate(252.20 274.40) rotate(-45) scale(1.080 1)">TMA</text><text font-size="8.30" text-anchor="end" class="P" fill="#2b2b2b" transform="translate(266.80 274.40) rotate(-45) scale(1.080 1)">TP</text><text font-size="8.30" text-anchor="end" class="P" fill="#2b2b2b" transform="translate(281.40 274.40) rotate(-45) scale(1.080 1)">TM</text><text font-size="8.30" text-anchor="end" class="P" fill="#2b2b2b" transform="translate(296.00 274.40) rotate(-45) scale(1.080 1)">TC</text><text font-size="8.30" text-anchor="end" class="P" fill="#2b2b2b" transform="translate(310.60 274.40) rotate(-45) scale(1.080 1)">TV</text><text font-size="8.30" text-anchor="end" class="P" fill="#2b2b2b" transform="translate(325.20 274.40) rotate(-45) scale(1.080 1)">TN</text><text font-size="9.30" text-anchor="middle" class="P" fill="#2b2b2b" transform="translate(172.20 218.00) rotate(-90) scale(1.050 1)">Serum TG (mmol/L)</text><text class="L" x="162.50" y="163.60" font-size="23.3" fill="#111">c</text><polygon points="275.60,202.00 280.20,202.00 277.90,197.90" fill="#0a0a0a"/><polygon points="316.77,208.80 321.38,208.80 319.07,204.70" fill="#0a0a0a"/><polygon points="321.62,208.80 326.23,208.80 323.93,204.70" fill="#0a0a0a"/></g><g><circle cx="378.37" cy="240.70" r="1.45" fill="#8a8a8a" fill-opacity="0.95"/><circle cx="378.75" cy="228.64" r="1.45" fill="#8a8a8a" fill-opacity="0.95"/><circle cx="381.29" cy="234.62" r="1.45" fill="#8a8a8a" fill-opacity="0.95"/><circle cx="378.63" cy="231.45" r="1.45" fill="#8a8a8a" fill-opacity="0.95"/><circle cx="379.83" cy="237.43" r="1.45" fill="#8a8a8a" fill-opacity="0.95"/><circle cx="376.21" cy="232.16" r="1.45" fill="#8a8a8a" fill-opacity="0.95"/><circle cx="379.80" cy="235.59" r="1.45" fill="#8a8a8a" fill-opacity="0.95"/><circle cx="381.52" cy="235.60" r="1.45" fill="#8a8a8a" fill-opacity="0.95"/><circle cx="378.97" cy="229.67" r="1.45" fill="#8a8a8a" fill-opacity="0.95"/><circle cx="380.59" cy="234.45" r="1.45" fill="#8a8a8a" fill-opacity="0.95"/><path d="M378.80 231.83V237.93M375.90 231.83H381.70M375.90 237.93H381.70M374.00 234.88H383.60" stroke="#111111" stroke-width="1.65" fill="none"/><circle cx="393.98" cy="224.55" r="1.45" fill="#ff9a4d" fill-opacity="0.95"/><circle cx="394.95" cy="214.12" r="1.45" fill="#ff9a4d" fill-opacity="0.95"/><circle cx="396.49" cy="215.09" r="1.45" fill="#ff9a4d" fill-opacity="0.95"/><circle cx="392.59" cy="212.54" r="1.45" fill="#ff9a4d" fill-opacity="0.95"/><circle cx="395.60" cy="221.74" r="1.45" fill="#ff9a4d" fill-opacity="0.95"/><circle cx="392.96" cy="213.51" r="1.45" fill="#ff9a4d" fill-opacity="0.95"/><circle cx="396.59" cy="211.43" r="1.45" fill="#ff9a4d" fill-opacity="0.95"/><circle cx="396.17" cy="208.07" r="1.45" fill="#ff9a4d" fill-opacity="0.95"/><circle cx="390.39" cy="218.54" r="1.45" fill="#ff9a4d" fill-opacity="0.95"/><circle cx="392.92" cy="198.62" r="1.45" fill="#ff9a4d" fill-opacity="0.95"/><path d="M393.37 205.71V220.27M390.47 205.71H396.27M390.47 220.27H396.27M388.57 212.99H398.17" stroke="#ff6a0d" stroke-width="1.65" fill="none"/><circle cx="408.59" cy="242.29" r="1.45" fill="#ff6b6b" fill-opacity="0.95"/><circle cx="408.63" cy="226.37" r="1.45" fill="#ff6b6b" fill-opacity="0.95"/><circle cx="410.58" cy="227.61" r="1.45" fill="#ff6b6b" fill-opacity="0.95"/><circle cx="411.57" cy="233.98" r="1.45" fill="#ff6b6b" fill-opacity="0.95"/><circle cx="409.21" cy="235.79" r="1.45" fill="#ff6b6b" fill-opacity="0.95"/><circle cx="405.45" cy="235.85" r="1.45" fill="#ff6b6b" fill-opacity="0.95"/><circle cx="410.61" cy="237.76" r="1.45" fill="#ff6b6b" fill-opacity="0.95"/><circle cx="411.38" cy="233.06" r="1.45" fill="#ff6b6b" fill-opacity="0.95"/><circle cx="410.93" cy="236.76" r="1.45" fill="#ff6b6b" fill-opacity="0.95"/><circle cx="408.45" cy="227.49" r="1.45" fill="#ff6b6b" fill-opacity="0.95"/><path d="M407.94 227.28V238.38M405.04 227.28H410.84M405.04 238.38H410.84M403.14 232.83H412.74" stroke="#f04545" stroke-width="1.65" fill="none"/><circle cx="421.95" cy="221.37" r="1.45" fill="#f2ee1a" fill-opacity="0.95"/><circle cx="422.94" cy="199.30" r="1.45" fill="#f2ee1a" fill-opacity="0.95"/><circle cx="425.27" cy="212.37" r="1.45" fill="#f2ee1a" fill-opacity="0.95"/><circle cx="419.14" cy="215.75" r="1.45" fill="#f2ee1a" fill-opacity="0.95"/><circle cx="423.36" cy="207.16" r="1.45" fill="#f2ee1a" fill-opacity="0.95"/><circle cx="419.14" cy="218.81" r="1.45" fill="#f2ee1a" fill-opacity="0.95"/><circle cx="424.13" cy="211.87" r="1.45" fill="#f2ee1a" fill-opacity="0.95"/><circle cx="421.26" cy="209.04" r="1.45" fill="#f2ee1a" fill-opacity="0.95"/><circle cx="425.33" cy="199.30" r="1.45" fill="#f2ee1a" fill-opacity="0.95"/><circle cx="426.07" cy="201.36" r="1.45" fill="#f2ee1a" fill-opacity="0.95"/><path d="M422.51 204.07V218.63M419.61 204.07H425.41M419.61 218.63H425.41M417.71 211.36H427.31" stroke="#c8c21a" stroke-width="1.65" fill="none"/><circle cx="437.88" cy="179.96" r="1.45" fill="#35d69a" fill-opacity="0.95"/><circle cx="435.67" cy="204.07" r="1.45" fill="#35d69a" fill-opacity="0.95"/><circle cx="433.95" cy="208.62" r="1.45" fill="#35d69a" fill-opacity="0.95"/><circle cx="437.82" cy="215.45" r="1.45" fill="#35d69a" fill-opacity="0.95"/><circle cx="433.61" cy="217.72" r="1.45" fill="#35d69a" fill-opacity="0.95"/><circle cx="434.84" cy="220.00" r="1.45" fill="#35d69a" fill-opacity="0.95"/><circle cx="436.40" cy="220.91" r="1.45" fill="#35d69a" fill-opacity="0.95"/><circle cx="437.90" cy="214.54" r="1.45" fill="#35d69a" fill-opacity="0.95"/><circle cx="434.54" cy="210.90" r="1.45" fill="#35d69a" fill-opacity="0.95"/><circle cx="433.69" cy="219.09" r="1.45" fill="#35d69a" fill-opacity="0.95"/><path d="M437.08 196.34V221.46M434.18 196.34H439.98M434.18 221.46H439.98M432.28 208.90H441.88" stroke="#12b877" stroke-width="1.65" fill="none"/><circle cx="451.35" cy="220.00" r="1.45" fill="#3f97ff" fill-opacity="0.95"/><circle cx="452.28" cy="220.00" r="1.45" fill="#3f97ff" fill-opacity="0.95"/><circle cx="450.75" cy="219.55" r="1.45" fill="#3f97ff" fill-opacity="0.95"/><circle cx="451.36" cy="215.91" r="1.45" fill="#3f97ff" fill-opacity="0.95"/><circle cx="451.80" cy="215.45" r="1.45" fill="#3f97ff" fill-opacity="0.95"/><circle cx="452.71" cy="216.36" r="1.45" fill="#3f97ff" fill-opacity="0.95"/><circle cx="452.36" cy="214.54" r="1.45" fill="#3f97ff" fill-opacity="0.95"/><circle cx="452.09" cy="206.35" r="1.45" fill="#3f97ff" fill-opacity="0.95"/><circle cx="452.54" cy="177.69" r="1.45" fill="#3f97ff" fill-opacity="0.95"/><circle cx="451.66" cy="176.55" r="1.45" fill="#3f97ff" fill-opacity="0.95"/><path d="M451.65 190.15V222.55M448.75 190.15H454.55M448.75 222.55H454.55M446.85 206.35H456.45" stroke="#1a8fae" stroke-width="1.65" fill="none"/><circle cx="466.35" cy="221.37" r="1.45" fill="#cf86f7" fill-opacity="0.95"/><circle cx="466.41" cy="213.18" r="1.45" fill="#cf86f7" fill-opacity="0.95"/><circle cx="467.20" cy="214.68" r="1.45" fill="#cf86f7" fill-opacity="0.95"/><circle cx="462.96" cy="220.08" r="1.45" fill="#cf86f7" fill-opacity="0.95"/><circle cx="467.16" cy="215.31" r="1.45" fill="#cf86f7" fill-opacity="0.95"/><circle cx="465.97" cy="216.67" r="1.45" fill="#cf86f7" fill-opacity="0.95"/><circle cx="467.55" cy="214.91" r="1.45" fill="#cf86f7" fill-opacity="0.95"/><circle cx="465.13" cy="214.11" r="1.45" fill="#cf86f7" fill-opacity="0.95"/><circle cx="467.75" cy="217.20" r="1.45" fill="#cf86f7" fill-opacity="0.95"/><circle cx="467.98" cy="217.14" r="1.45" fill="#cf86f7" fill-opacity="0.95"/><path d="M466.22 214.31V219.32M463.32 214.31H469.12M463.32 219.32H469.12M461.42 216.81H471.02" stroke="#b060e0" stroke-width="1.65" fill="none"/><circle cx="480.09" cy="194.06" r="1.45" fill="#ff8fe0" fill-opacity="0.95"/><circle cx="482.09" cy="197.25" r="1.45" fill="#ff8fe0" fill-opacity="0.95"/><circle cx="484.22" cy="206.35" r="1.45" fill="#ff8fe0" fill-opacity="0.95"/><circle cx="478.95" cy="217.72" r="1.45" fill="#ff8fe0" fill-opacity="0.95"/><circle cx="480.47" cy="215.45" r="1.45" fill="#ff8fe0" fill-opacity="0.95"/><circle cx="481.48" cy="220.00" r="1.45" fill="#ff8fe0" fill-opacity="0.95"/><circle cx="479.46" cy="213.18" r="1.45" fill="#ff8fe0" fill-opacity="0.95"/><circle cx="479.78" cy="220.00" r="1.45" fill="#ff8fe0" fill-opacity="0.95"/><circle cx="479.40" cy="210.90" r="1.45" fill="#ff8fe0" fill-opacity="0.95"/><circle cx="479.82" cy="214.54" r="1.45" fill="#ff8fe0" fill-opacity="0.95"/><path d="M480.79 200.53V220.36M477.89 200.53H483.69M477.89 220.36H483.69M475.99 210.44H485.59" stroke="#f260cf" stroke-width="1.65" fill="none"/><circle cx="495.85" cy="221.37" r="1.45" fill="#e23be2" fill-opacity="0.95"/><circle cx="493.43" cy="211.25" r="1.45" fill="#e23be2" fill-opacity="0.95"/><circle cx="493.05" cy="216.33" r="1.45" fill="#e23be2" fill-opacity="0.95"/><circle cx="494.88" cy="214.62" r="1.45" fill="#e23be2" fill-opacity="0.95"/><circle cx="496.83" cy="220.49" r="1.45" fill="#e23be2" fill-opacity="0.95"/><circle cx="492.41" cy="201.57" r="1.45" fill="#e23be2" fill-opacity="0.95"/><circle cx="494.04" cy="200.95" r="1.45" fill="#e23be2" fill-opacity="0.95"/><circle cx="494.13" cy="209.20" r="1.45" fill="#e23be2" fill-opacity="0.95"/><circle cx="497.83" cy="211.52" r="1.45" fill="#e23be2" fill-opacity="0.95"/><circle cx="495.93" cy="189.51" r="1.45" fill="#e23be2" fill-opacity="0.95"/><path d="M495.36 202.25V219.55M492.46 202.25H498.26M492.46 219.55H498.26M490.56 210.90H500.16" stroke="#b812b8" stroke-width="1.65" fill="none"/><path d="M369.00 174.50V265.50H505.60" stroke="#4a4a4a" stroke-width="1.5" fill="none" stroke-linecap="square"/><text x="365.40" y="268.75" font-size="9.20" text-anchor="end" class="P" fill="#2b2b2b" transform="translate(365.40 0) scale(0.950 1) translate(-365.40 0)">0.00</text><text x="365.40" y="223.25" font-size="9.20" text-anchor="end" class="P" fill="#2b2b2b" transform="translate(365.40 0) scale(0.950 1) translate(-365.40 0)">1.00</text><text x="365.40" y="177.75" font-size="9.20" text-anchor="end" class="P" fill="#2b2b2b" transform="translate(365.40 0) scale(0.950 1) translate(-365.40 0)">2.00</text><path d="M366.20 265.50H369.00M366.20 220.00H369.00M366.20 174.50H369.00M378.80 265.50V268.30M393.37 265.50V268.30M407.94 265.50V268.30M422.51 265.50V268.30M437.08 265.50V268.30M451.65 265.50V268.30M466.22 265.50V268.30M480.79 265.50V268.30M495.36 265.50V268.30" stroke="#4a4a4a" stroke-width="1.1" fill="none"/><text font-size="8.30" text-anchor="end" class="P" fill="#2b2b2b" transform="translate(382.10 274.70) rotate(-45) scale(1.080 1)">Control</text><text font-size="8.30" text-anchor="end" class="P" fill="#2b2b2b" transform="translate(396.67 274.70) rotate(-45) scale(1.080 1)">Model</text><text font-size="8.30" text-anchor="end" class="P" fill="#2b2b2b" transform="translate(411.24 274.70) rotate(-45) scale(1.080 1)">JMZ</text><text font-size="8.30" text-anchor="end" class="P" fill="#2b2b2b" transform="translate(425.81 274.70) rotate(-45) scale(1.080 1)">TMA</text><text font-size="8.30" text-anchor="end" class="P" fill="#2b2b2b" transform="translate(440.38 274.70) rotate(-45) scale(1.080 1)">TP</text><text font-size="8.30" text-anchor="end" class="P" fill="#2b2b2b" transform="translate(454.95 274.70) rotate(-45) scale(1.080 1)">TM</text><text font-size="8.30" text-anchor="end" class="P" fill="#2b2b2b" transform="translate(469.52 274.70) rotate(-45) scale(1.080 1)">TC</text><text font-size="8.30" text-anchor="end" class="P" fill="#2b2b2b" transform="translate(484.09 274.70) rotate(-45) scale(1.080 1)">TV</text><text font-size="8.30" text-anchor="end" class="P" fill="#2b2b2b" transform="translate(498.66 274.70) rotate(-45) scale(1.080 1)">TN</text><text font-size="9.30" text-anchor="middle" class="P" fill="#2b2b2b" transform="translate(345.20 219.50) rotate(-90) scale(1.020 1)">Serum FFA ( <tspan font-weight="normal" font-size="7.5">μ</tspan>mol/L)</text><text class="L" x="335.40" y="163.60" font-size="23.3" fill="#111">d</text><polygon points="415.15,195.40 419.75,195.40 417.45,191.30" fill="#0a0a0a"/><polygon points="420.00,195.40 424.60,195.40 422.30,191.30" fill="#0a0a0a"/><polygon points="424.85,195.40 429.45,195.40 427.15,191.30" fill="#0a0a0a"/><polygon points="429.85,177.90 434.45,177.90 432.15,173.80" fill="#0a0a0a"/><polygon points="434.70,177.90 439.30,177.90 437.00,173.80" fill="#0a0a0a"/><polygon points="439.55,177.90 444.15,177.90 441.85,173.80" fill="#0a0a0a"/><polygon points="444.35,173.80 448.95,173.80 446.65,169.70" fill="#0a0a0a"/><polygon points="449.20,173.80 453.80,173.80 451.50,169.70" fill="#0a0a0a"/><polygon points="454.05,173.80 458.65,173.80 456.35,169.70" fill="#0a0a0a"/><polygon points="461.27,220.50 465.88,220.50 463.57,216.40" fill="#0a0a0a"/><polygon points="466.12,220.50 470.73,220.50 468.43,216.40" fill="#0a0a0a"/><polygon points="473.55,191.90 478.15,191.90 475.85,187.80" fill="#0a0a0a"/><polygon points="478.40,191.90 483.00,191.90 480.70,187.80" fill="#0a0a0a"/><polygon points="483.25,191.90 487.85,191.90 485.55,187.80" fill="#0a0a0a"/><polygon points="488.15,186.70 492.75,186.70 490.45,182.60" fill="#0a0a0a"/><polygon points="493.00,186.70 497.60,186.70 495.30,182.60" fill="#0a0a0a"/><polygon points="497.85,186.70 502.45,186.70 500.15,182.60" fill="#0a0a0a"/></g><g><circle cx="551.74" cy="243.88" r="1.45" fill="#8a8a8a" fill-opacity="0.95"/><circle cx="551.47" cy="225.88" r="1.45" fill="#8a8a8a" fill-opacity="0.95"/><circle cx="549.99" cy="234.26" r="1.45" fill="#8a8a8a" fill-opacity="0.95"/><circle cx="555.26" cy="231.58" r="1.45" fill="#8a8a8a" fill-opacity="0.95"/><circle cx="554.53" cy="237.43" r="1.45" fill="#8a8a8a" fill-opacity="0.95"/><circle cx="554.37" cy="232.29" r="1.45" fill="#8a8a8a" fill-opacity="0.95"/><circle cx="554.32" cy="228.67" r="1.45" fill="#8a8a8a" fill-opacity="0.95"/><circle cx="549.83" cy="231.92" r="1.45" fill="#8a8a8a" fill-opacity="0.95"/><circle cx="550.69" cy="240.10" r="1.45" fill="#8a8a8a" fill-opacity="0.95"/><circle cx="553.04" cy="234.09" r="1.45" fill="#8a8a8a" fill-opacity="0.95"/><path d="M552.10 227.50V241.53M549.20 227.50H555.00M549.20 241.53H555.00M547.30 234.52H556.90" stroke="#111111" stroke-width="1.65" fill="none"/><circle cx="566.04" cy="215.51" r="1.45" fill="#ff9a4d" fill-opacity="0.95"/><circle cx="569.92" cy="210.23" r="1.45" fill="#ff9a4d" fill-opacity="0.95"/><circle cx="569.40" cy="206.13" r="1.45" fill="#ff9a4d" fill-opacity="0.95"/><circle cx="567.05" cy="201.59" r="1.45" fill="#ff9a4d" fill-opacity="0.95"/><circle cx="565.22" cy="206.71" r="1.45" fill="#ff9a4d" fill-opacity="0.95"/><circle cx="569.73" cy="214.22" r="1.45" fill="#ff9a4d" fill-opacity="0.95"/><circle cx="567.24" cy="212.07" r="1.45" fill="#ff9a4d" fill-opacity="0.95"/><circle cx="569.53" cy="209.55" r="1.45" fill="#ff9a4d" fill-opacity="0.95"/><circle cx="569.28" cy="204.43" r="1.45" fill="#ff9a4d" fill-opacity="0.95"/><circle cx="566.56" cy="185.93" r="1.45" fill="#ff9a4d" fill-opacity="0.95"/><path d="M566.70 194.78V213.69M563.80 194.78H569.60M563.80 213.69H569.60M561.90 204.23H571.50" stroke="#ff6a0d" stroke-width="1.65" fill="none"/><circle cx="581.05" cy="234.12" r="1.45" fill="#ff6b6b" fill-opacity="0.95"/><circle cx="580.81" cy="214.90" r="1.45" fill="#ff6b6b" fill-opacity="0.95"/><circle cx="580.65" cy="230.62" r="1.45" fill="#ff6b6b" fill-opacity="0.95"/><circle cx="579.10" cy="228.67" r="1.45" fill="#ff6b6b" fill-opacity="0.95"/><circle cx="582.28" cy="220.16" r="1.45" fill="#ff6b6b" fill-opacity="0.95"/><circle cx="579.64" cy="217.99" r="1.45" fill="#ff6b6b" fill-opacity="0.95"/><circle cx="580.23" cy="222.84" r="1.45" fill="#ff6b6b" fill-opacity="0.95"/><circle cx="583.13" cy="225.94" r="1.45" fill="#ff6b6b" fill-opacity="0.95"/><circle cx="579.97" cy="220.54" r="1.45" fill="#ff6b6b" fill-opacity="0.95"/><circle cx="581.73" cy="225.62" r="1.45" fill="#ff6b6b" fill-opacity="0.95"/><path d="M581.30 214.90V232.59M578.40 214.90H584.20M578.40 232.59H584.20M576.50 223.75H586.10" stroke="#f04545" stroke-width="1.65" fill="none"/><circle cx="595.83" cy="212.47" r="1.45" fill="#f2ee1a" fill-opacity="0.95"/><circle cx="592.52" cy="189.60" r="1.45" fill="#f2ee1a" fill-opacity="0.95"/><circle cx="597.36" cy="196.92" r="1.45" fill="#f2ee1a" fill-opacity="0.95"/><circle cx="598.83" cy="202.56" r="1.45" fill="#f2ee1a" fill-opacity="0.95"/><circle cx="599.27" cy="194.40" r="1.45" fill="#f2ee1a" fill-opacity="0.95"/><circle cx="597.64" cy="197.87" r="1.45" fill="#f2ee1a" fill-opacity="0.95"/><circle cx="599.30" cy="199.11" r="1.45" fill="#f2ee1a" fill-opacity="0.95"/><circle cx="592.33" cy="212.35" r="1.45" fill="#f2ee1a" fill-opacity="0.95"/><circle cx="594.34" cy="199.64" r="1.45" fill="#f2ee1a" fill-opacity="0.95"/><circle cx="596.34" cy="184.10" r="1.45" fill="#f2ee1a" fill-opacity="0.95"/><path d="M595.90 190.50V210.03M593.00 190.50H598.80M593.00 210.03H598.80M591.10 200.26H600.70" stroke="#c8c21a" stroke-width="1.65" fill="none"/><circle cx="609.97" cy="231.68" r="1.45" fill="#35d69a" fill-opacity="0.95"/><circle cx="612.60" cy="223.15" r="1.45" fill="#35d69a" fill-opacity="0.95"/><circle cx="609.48" cy="221.51" r="1.45" fill="#35d69a" fill-opacity="0.95"/><circle cx="608.95" cy="227.70" r="1.45" fill="#35d69a" fill-opacity="0.95"/><circle cx="607.52" cy="224.28" r="1.45" fill="#35d69a" fill-opacity="0.95"/><circle cx="614.06" cy="229.12" r="1.45" fill="#35d69a" fill-opacity="0.95"/><circle cx="609.94" cy="226.16" r="1.45" fill="#35d69a" fill-opacity="0.95"/><circle cx="608.34" cy="227.24" r="1.45" fill="#35d69a" fill-opacity="0.95"/><circle cx="607.24" cy="226.44" r="1.45" fill="#35d69a" fill-opacity="0.95"/><circle cx="609.97" cy="216.12" r="1.45" fill="#35d69a" fill-opacity="0.95"/><path d="M610.50 222.22V231.68M607.60 222.22H613.40M607.60 231.68H613.40M605.70 226.95H615.30" stroke="#12b877" stroke-width="1.65" fill="none"/><circle cx="625.06" cy="229.24" r="1.90" fill="#3f97ff" fill-opacity="0.95"/><circle cx="623.19" cy="214.64" r="1.90" fill="#3f97ff" fill-opacity="0.95"/><circle cx="624.44" cy="218.31" r="1.90" fill="#3f97ff" fill-opacity="0.95"/><circle cx="621.67" cy="195.00" r="1.90" fill="#3f97ff" fill-opacity="0.95"/><circle cx="624.52" cy="206.82" r="1.90" fill="#3f97ff" fill-opacity="0.95"/><circle cx="623.24" cy="210.74" r="1.90" fill="#3f97ff" fill-opacity="0.95"/><circle cx="627.98" cy="198.43" r="1.90" fill="#3f97ff" fill-opacity="0.95"/><circle cx="627.55" cy="198.86" r="1.90" fill="#3f97ff" fill-opacity="0.95"/><circle cx="625.09" cy="208.85" r="1.90" fill="#3f97ff" fill-opacity="0.95"/><circle cx="624.71" cy="176.78" r="1.90" fill="#3f97ff" fill-opacity="0.95"/><path d="M625.10 195.17V226.89M622.20 195.17H628.00M622.20 226.89H628.00M620.30 211.03H629.90" stroke="#1a8fae" stroke-width="1.65" fill="none"/><circle cx="639.54" cy="225.88" r="1.45" fill="#cf86f7" fill-opacity="0.95"/><circle cx="639.95" cy="198.89" r="1.45" fill="#cf86f7" fill-opacity="0.95"/><circle cx="641.85" cy="221.74" r="1.45" fill="#cf86f7" fill-opacity="0.95"/><circle cx="641.51" cy="213.11" r="1.45" fill="#cf86f7" fill-opacity="0.95"/><circle cx="639.66" cy="207.76" r="1.45" fill="#cf86f7" fill-opacity="0.95"/><circle cx="636.69" cy="211.45" r="1.45" fill="#cf86f7" fill-opacity="0.95"/><circle cx="637.56" cy="211.70" r="1.45" fill="#cf86f7" fill-opacity="0.95"/><circle cx="642.47" cy="211.30" r="1.45" fill="#cf86f7" fill-opacity="0.95"/><circle cx="642.66" cy="203.82" r="1.45" fill="#cf86f7" fill-opacity="0.95"/><circle cx="642.84" cy="218.02" r="1.45" fill="#cf86f7" fill-opacity="0.95"/><path d="M639.70 204.23V222.53M636.80 204.23H642.60M636.80 222.53H642.60M634.90 213.38H644.50" stroke="#b060e0" stroke-width="1.65" fill="none"/><circle cx="654.98" cy="217.04" r="1.45" fill="#ff8fe0" fill-opacity="0.95"/><circle cx="657.68" cy="209.77" r="1.45" fill="#ff8fe0" fill-opacity="0.95"/><circle cx="651.15" cy="193.78" r="1.45" fill="#ff8fe0" fill-opacity="0.95"/><circle cx="657.79" cy="200.25" r="1.45" fill="#ff8fe0" fill-opacity="0.95"/><circle cx="657.72" cy="214.61" r="1.45" fill="#ff8fe0" fill-opacity="0.95"/><circle cx="655.55" cy="199.88" r="1.45" fill="#ff8fe0" fill-opacity="0.95"/><circle cx="650.93" cy="212.70" r="1.45" fill="#ff8fe0" fill-opacity="0.95"/><circle cx="657.25" cy="210.57" r="1.45" fill="#ff8fe0" fill-opacity="0.95"/><circle cx="651.54" cy="213.75" r="1.45" fill="#ff8fe0" fill-opacity="0.95"/><circle cx="654.57" cy="187.15" r="1.45" fill="#ff8fe0" fill-opacity="0.95"/><path d="M654.30 194.90V212.59M651.40 194.90H657.20M651.40 212.59H657.20M649.50 203.74H659.10" stroke="#f260cf" stroke-width="1.65" fill="none"/><circle cx="668.29" cy="235.03" r="1.45" fill="#e23be2" fill-opacity="0.95"/><circle cx="671.19" cy="211.02" r="1.45" fill="#e23be2" fill-opacity="0.95"/><circle cx="670.99" cy="215.00" r="1.45" fill="#e23be2" fill-opacity="0.95"/><circle cx="671.70" cy="227.77" r="1.45" fill="#e23be2" fill-opacity="0.95"/><circle cx="669.27" cy="229.15" r="1.45" fill="#e23be2" fill-opacity="0.95"/><circle cx="671.70" cy="218.25" r="1.45" fill="#e23be2" fill-opacity="0.95"/><circle cx="666.69" cy="217.46" r="1.45" fill="#e23be2" fill-opacity="0.95"/><circle cx="670.17" cy="216.71" r="1.45" fill="#e23be2" fill-opacity="0.95"/><circle cx="667.65" cy="215.96" r="1.45" fill="#e23be2" fill-opacity="0.95"/><circle cx="669.34" cy="187.15" r="1.45" fill="#e23be2" fill-opacity="0.95"/><path d="M668.90 204.53V230.76M666.00 204.53H671.80M666.00 230.76H671.80M664.10 217.65H673.70" stroke="#b812b8" stroke-width="1.65" fill="none"/><path d="M541.90 171.90V263.40H679.60" stroke="#4a4a4a" stroke-width="1.5" fill="none" stroke-linecap="square"/><text x="538.30" y="266.65" font-size="9.20" text-anchor="end" class="P" fill="#2b2b2b" transform="translate(538.30 0) scale(0.950 1) translate(-538.30 0)">0.00</text><text x="538.30" y="236.15" font-size="9.20" text-anchor="end" class="P" fill="#2b2b2b" transform="translate(538.30 0) scale(0.950 1) translate(-538.30 0)">1.00</text><text x="538.30" y="205.65" font-size="9.20" text-anchor="end" class="P" fill="#2b2b2b" transform="translate(538.30 0) scale(0.950 1) translate(-538.30 0)">2.00</text><text x="538.30" y="175.15" font-size="9.20" text-anchor="end" class="P" fill="#2b2b2b" transform="translate(538.30 0) scale(0.950 1) translate(-538.30 0)">3.00</text><path d="M539.10 263.40H541.90M539.10 232.90H541.90M539.10 202.40H541.90M539.10 171.90H541.90M552.10 263.40V266.20M566.70 263.40V266.20M581.30 263.40V266.20M595.90 263.40V266.20M610.50 263.40V266.20M625.10 263.40V266.20M639.70 263.40V266.20M654.30 263.40V266.20M668.90 263.40V266.20" stroke="#4a4a4a" stroke-width="1.1" fill="none"/><text font-size="8.30" text-anchor="end" class="P" fill="#2b2b2b" transform="translate(555.40 272.60) rotate(-45) scale(1.080 1)">Control</text><text font-size="8.30" text-anchor="end" class="P" fill="#2b2b2b" transform="translate(570.00 272.60) rotate(-45) scale(1.080 1)">Model</text><text font-size="8.30" text-anchor="end" class="P" fill="#2b2b2b" transform="translate(584.60 272.60) rotate(-45) scale(1.080 1)">JMZ</text><text font-size="8.30" text-anchor="end" class="P" fill="#2b2b2b" transform="translate(599.20 272.60) rotate(-45) scale(1.080 1)">TMA</text><text font-size="8.30" text-anchor="end" class="P" fill="#2b2b2b" transform="translate(613.80 272.60) rotate(-45) scale(1.080 1)">TP</text><text font-size="8.30" text-anchor="end" class="P" fill="#2b2b2b" transform="translate(628.40 272.60) rotate(-45) scale(1.080 1)">TM</text><text font-size="8.30" text-anchor="end" class="P" fill="#2b2b2b" transform="translate(643.00 272.60) rotate(-45) scale(1.080 1)">TC</text><text font-size="8.30" text-anchor="end" class="P" fill="#2b2b2b" transform="translate(657.60 272.60) rotate(-45) scale(1.080 1)">TV</text><text font-size="8.30" text-anchor="end" class="P" fill="#2b2b2b" transform="translate(672.20 272.60) rotate(-45) scale(1.080 1)">TN</text><text font-size="9.30" text-anchor="middle" class="P" fill="#2b2b2b" transform="translate(518.60 217.00) rotate(-90) scale(1.050 1)">Serum LDL-c (mmol/L)</text><text class="L" x="509.00" y="164.20" font-size="23.3" fill="#111">e</text><polygon points="589.35,182.20 593.95,182.20 591.65,178.10" fill="#0a0a0a"/><polygon points="594.20,182.20 598.80,182.20 596.50,178.10" fill="#0a0a0a"/><polygon points="599.05,182.20 603.65,182.20 601.35,178.10" fill="#0a0a0a"/><polygon points="647.35,184.40 651.95,184.40 649.65,180.30" fill="#0a0a0a"/><polygon points="652.20,184.40 656.80,184.40 654.50,180.30" fill="#0a0a0a"/><polygon points="657.05,184.40 661.65,184.40 659.35,180.30" fill="#0a0a0a"/></g><g><circle cx="107.88" cy="372.73" r="1.45" fill="#8a8a8a" fill-opacity="0.95"/><circle cx="108.27" cy="371.26" r="1.45" fill="#8a8a8a" fill-opacity="0.95"/><circle cx="106.62" cy="371.17" r="1.45" fill="#8a8a8a" fill-opacity="0.95"/><circle cx="108.82" cy="365.68" r="1.45" fill="#8a8a8a" fill-opacity="0.95"/><circle cx="109.05" cy="368.13" r="1.45" fill="#8a8a8a" fill-opacity="0.95"/><circle cx="104.90" cy="364.37" r="1.45" fill="#8a8a8a" fill-opacity="0.95"/><circle cx="106.40" cy="367.09" r="1.45" fill="#8a8a8a" fill-opacity="0.95"/><circle cx="106.87" cy="363.60" r="1.45" fill="#8a8a8a" fill-opacity="0.95"/><circle cx="111.58" cy="369.22" r="1.45" fill="#8a8a8a" fill-opacity="0.95"/><circle cx="107.96" cy="359.47" r="1.45" fill="#8a8a8a" fill-opacity="0.95"/><path d="M108.50 364.34V371.06M105.60 364.34H111.40M105.60 371.06H111.40M103.70 367.70H113.30" stroke="#111111" stroke-width="1.65" fill="none"/><circle cx="123.87" cy="377.07" r="1.45" fill="#ff9a4d" fill-opacity="0.95"/><circle cx="123.42" cy="361.58" r="1.45" fill="#ff9a4d" fill-opacity="0.95"/><circle cx="124.45" cy="365.29" r="1.45" fill="#ff9a4d" fill-opacity="0.95"/><circle cx="120.95" cy="364.54" r="1.45" fill="#ff9a4d" fill-opacity="0.95"/><circle cx="126.39" cy="364.35" r="1.45" fill="#ff9a4d" fill-opacity="0.95"/><circle cx="124.54" cy="362.32" r="1.45" fill="#ff9a4d" fill-opacity="0.95"/><circle cx="126.58" cy="361.49" r="1.45" fill="#ff9a4d" fill-opacity="0.95"/><circle cx="126.04" cy="358.77" r="1.45" fill="#ff9a4d" fill-opacity="0.95"/><circle cx="121.64" cy="363.66" r="1.45" fill="#ff9a4d" fill-opacity="0.95"/><circle cx="122.60" cy="377.07" r="1.45" fill="#ff9a4d" fill-opacity="0.95"/><path d="M123.13 356.39V368.50M120.23 356.39H126.03M120.23 368.50H126.03M118.33 362.44H127.93" stroke="#ff6a0d" stroke-width="1.65" fill="none"/><circle cx="137.73" cy="368.84" r="1.45" fill="#ff6b6b" fill-opacity="0.95"/><circle cx="137.73" cy="361.53" r="1.45" fill="#ff6b6b" fill-opacity="0.95"/><circle cx="139.27" cy="364.96" r="1.45" fill="#ff6b6b" fill-opacity="0.95"/><circle cx="134.48" cy="364.82" r="1.45" fill="#ff6b6b" fill-opacity="0.95"/><circle cx="141.28" cy="366.30" r="1.45" fill="#ff6b6b" fill-opacity="0.95"/><circle cx="134.23" cy="362.76" r="1.45" fill="#ff6b6b" fill-opacity="0.95"/><circle cx="139.61" cy="362.32" r="1.45" fill="#ff6b6b" fill-opacity="0.95"/><circle cx="140.31" cy="365.35" r="1.45" fill="#ff6b6b" fill-opacity="0.95"/><circle cx="134.19" cy="366.34" r="1.45" fill="#ff6b6b" fill-opacity="0.95"/><circle cx="139.89" cy="363.91" r="1.45" fill="#ff6b6b" fill-opacity="0.95"/><path d="M137.76 363.13V367.70M134.86 363.13H140.66M134.86 367.70H140.66M132.96 365.42H142.56" stroke="#f04545" stroke-width="1.65" fill="none"/><circle cx="152.16" cy="355.59" r="1.45" fill="#f2ee1a" fill-opacity="0.95"/><circle cx="152.83" cy="342.57" r="1.45" fill="#f2ee1a" fill-opacity="0.95"/><circle cx="149.49" cy="354.71" r="1.45" fill="#f2ee1a" fill-opacity="0.95"/><circle cx="154.23" cy="345.93" r="1.45" fill="#f2ee1a" fill-opacity="0.95"/><circle cx="154.59" cy="349.10" r="1.45" fill="#f2ee1a" fill-opacity="0.95"/><circle cx="155.05" cy="350.48" r="1.45" fill="#f2ee1a" fill-opacity="0.95"/><circle cx="148.96" cy="345.61" r="1.45" fill="#f2ee1a" fill-opacity="0.95"/><circle cx="155.69" cy="347.94" r="1.45" fill="#f2ee1a" fill-opacity="0.95"/><circle cx="149.36" cy="343.07" r="1.45" fill="#f2ee1a" fill-opacity="0.95"/><circle cx="151.21" cy="355.39" r="1.45" fill="#f2ee1a" fill-opacity="0.95"/><path d="M152.39 345.31V355.82M149.49 345.31H155.29M149.49 355.82H155.29M147.59 350.56H157.19" stroke="#c8c21a" stroke-width="1.65" fill="none"/><circle cx="166.46" cy="361.07" r="1.45" fill="#35d69a" fill-opacity="0.95"/><circle cx="167.81" cy="351.93" r="1.45" fill="#35d69a" fill-opacity="0.95"/><circle cx="164.52" cy="360.50" r="1.45" fill="#35d69a" fill-opacity="0.95"/><circle cx="163.68" cy="359.86" r="1.45" fill="#35d69a" fill-opacity="0.95"/><circle cx="170.62" cy="359.37" r="1.45" fill="#35d69a" fill-opacity="0.95"/><circle cx="167.27" cy="352.28" r="1.45" fill="#35d69a" fill-opacity="0.95"/><circle cx="166.32" cy="358.50" r="1.45" fill="#35d69a" fill-opacity="0.95"/><circle cx="165.08" cy="357.17" r="1.45" fill="#35d69a" fill-opacity="0.95"/><circle cx="167.72" cy="357.19" r="1.45" fill="#35d69a" fill-opacity="0.95"/><circle cx="169.43" cy="355.33" r="1.45" fill="#35d69a" fill-opacity="0.95"/><path d="M167.02 354.10V359.13M164.12 354.10H169.92M164.12 359.13H169.92M162.22 356.62H171.82" stroke="#12b877" stroke-width="1.65" fill="none"/><circle cx="182.37" cy="360.16" r="1.45" fill="#3f97ff" fill-opacity="0.95"/><circle cx="182.11" cy="345.54" r="1.45" fill="#3f97ff" fill-opacity="0.95"/><circle cx="178.74" cy="354.60" r="1.45" fill="#3f97ff" fill-opacity="0.95"/><circle cx="181.17" cy="350.88" r="1.45" fill="#3f97ff" fill-opacity="0.95"/><circle cx="179.05" cy="345.68" r="1.45" fill="#3f97ff" fill-opacity="0.95"/><circle cx="184.20" cy="349.51" r="1.45" fill="#3f97ff" fill-opacity="0.95"/><circle cx="180.13" cy="348.42" r="1.45" fill="#3f97ff" fill-opacity="0.95"/><circle cx="181.30" cy="351.02" r="1.45" fill="#3f97ff" fill-opacity="0.95"/><circle cx="185.34" cy="350.90" r="1.45" fill="#3f97ff" fill-opacity="0.95"/><circle cx="184.26" cy="353.00" r="1.45" fill="#3f97ff" fill-opacity="0.95"/><path d="M181.65 348.51V354.90M178.75 348.51H184.55M178.75 354.90H184.55M176.85 351.71H186.45" stroke="#1a8fae" stroke-width="1.65" fill="none"/><circle cx="197.06" cy="361.53" r="1.45" fill="#cf86f7" fill-opacity="0.95"/><circle cx="196.48" cy="347.82" r="1.45" fill="#cf86f7" fill-opacity="0.95"/><circle cx="196.27" cy="349.22" r="1.45" fill="#cf86f7" fill-opacity="0.95"/><circle cx="195.08" cy="353.00" r="1.45" fill="#cf86f7" fill-opacity="0.95"/><circle cx="193.24" cy="357.38" r="1.45" fill="#cf86f7" fill-opacity="0.95"/><circle cx="194.60" cy="352.14" r="1.45" fill="#cf86f7" fill-opacity="0.95"/><circle cx="198.37" cy="354.99" r="1.45" fill="#cf86f7" fill-opacity="0.95"/><circle cx="199.00" cy="352.18" r="1.45" fill="#cf86f7" fill-opacity="0.95"/><circle cx="195.25" cy="353.91" r="1.45" fill="#cf86f7" fill-opacity="0.95"/><circle cx="198.40" cy="351.54" r="1.45" fill="#cf86f7" fill-opacity="0.95"/><path d="M196.28 349.15V355.86M193.38 349.15H199.18M193.38 355.86H199.18M191.48 352.51H201.08" stroke="#a22cf0" stroke-width="1.65" fill="none"/><circle cx="211.39" cy="359.70" r="1.45" fill="#ff8fe0" fill-opacity="0.95"/><circle cx="209.78" cy="355.51" r="1.45" fill="#ff8fe0" fill-opacity="0.95"/><circle cx="211.98" cy="356.00" r="1.45" fill="#ff8fe0" fill-opacity="0.95"/><circle cx="212.67" cy="356.97" r="1.45" fill="#ff8fe0" fill-opacity="0.95"/><circle cx="213.34" cy="357.94" r="1.45" fill="#ff8fe0" fill-opacity="0.95"/><circle cx="209.80" cy="353.68" r="1.45" fill="#ff8fe0" fill-opacity="0.95"/><circle cx="211.50" cy="385.52" r="1.45" fill="#ff8fe0" fill-opacity="0.95"/><circle cx="211.67" cy="351.02" r="1.45" fill="#ff8fe0" fill-opacity="0.95"/><circle cx="210.94" cy="352.16" r="1.45" fill="#ff8fe0" fill-opacity="0.95"/><circle cx="210.38" cy="355.59" r="1.45" fill="#ff8fe0" fill-opacity="0.95"/><path d="M210.91 346.91V368.84M208.01 346.91H213.81M208.01 368.84H213.81M206.11 357.88H215.71" stroke="#f260cf" stroke-width="1.65" fill="none"/><circle cx="225.74" cy="361.07" r="1.45" fill="#e23be2" fill-opacity="0.95"/><circle cx="225.76" cy="345.54" r="1.45" fill="#e23be2" fill-opacity="0.95"/><circle cx="227.17" cy="347.79" r="1.45" fill="#e23be2" fill-opacity="0.95"/><circle cx="222.04" cy="360.17" r="1.45" fill="#e23be2" fill-opacity="0.95"/><circle cx="223.02" cy="352.32" r="1.45" fill="#e23be2" fill-opacity="0.95"/><circle cx="225.10" cy="354.69" r="1.45" fill="#e23be2" fill-opacity="0.95"/><circle cx="226.65" cy="360.50" r="1.45" fill="#e23be2" fill-opacity="0.95"/><circle cx="223.46" cy="349.59" r="1.45" fill="#e23be2" fill-opacity="0.95"/><circle cx="226.92" cy="346.36" r="1.45" fill="#e23be2" fill-opacity="0.95"/><circle cx="226.51" cy="359.16" r="1.45" fill="#e23be2" fill-opacity="0.95"/><path d="M225.54 348.28V358.33M222.64 348.28H228.44M222.64 358.33H228.44M220.74 353.31H230.34" stroke="#b812b8" stroke-width="1.65" fill="none"/><path d="M98.20 323.60V415.00H235.20" stroke="#4a4a4a" stroke-width="1.5" fill="none" stroke-linecap="square"/><text x="94.60" y="418.25" font-size="9.20" text-anchor="end" class="P" fill="#2b2b2b" transform="translate(94.60 0) scale(0.950 1) translate(-94.60 0)">0.00</text><text x="94.60" y="372.55" font-size="9.20" text-anchor="end" class="P" fill="#2b2b2b" transform="translate(94.60 0) scale(0.950 1) translate(-94.60 0)">2.00</text><text x="94.60" y="326.85" font-size="9.20" text-anchor="end" class="P" fill="#2b2b2b" transform="translate(94.60 0) scale(0.950 1) translate(-94.60 0)">4.00</text><path d="M95.40 415.00H98.20M95.40 369.30H98.20M95.40 323.60H98.20M108.50 415.00V417.80M123.13 415.00V417.80M137.76 415.00V417.80M152.39 415.00V417.80M167.02 415.00V417.80M181.65 415.00V417.80M196.28 415.00V417.80M210.91 415.00V417.80M225.54 415.00V417.80" stroke="#4a4a4a" stroke-width="1.1" fill="none"/><text font-size="8.30" text-anchor="end" class="P" fill="#2b2b2b" transform="translate(111.80 424.20) rotate(-45) scale(1.080 1)">Control</text><text font-size="8.30" text-anchor="end" class="P" fill="#2b2b2b" transform="translate(126.43 424.20) rotate(-45) scale(1.080 1)">Model</text><text font-size="8.30" text-anchor="end" class="P" fill="#2b2b2b" transform="translate(141.06 424.20) rotate(-45) scale(1.080 1)">JMZ</text><text font-size="8.30" text-anchor="end" class="P" fill="#2b2b2b" transform="translate(155.69 424.20) rotate(-45) scale(1.080 1)">TMA</text><text font-size="8.30" text-anchor="end" class="P" fill="#2b2b2b" transform="translate(170.32 424.20) rotate(-45) scale(1.080 1)">TP</text><text font-size="8.30" text-anchor="end" class="P" fill="#2b2b2b" transform="translate(184.95 424.20) rotate(-45) scale(1.080 1)">TM</text><text font-size="8.30" text-anchor="end" class="P" fill="#2b2b2b" transform="translate(199.58 424.20) rotate(-45) scale(1.080 1)">TC</text><text font-size="8.30" text-anchor="end" class="P" fill="#2b2b2b" transform="translate(214.21 424.20) rotate(-45) scale(1.080 1)">TV</text><text font-size="8.30" text-anchor="end" class="P" fill="#2b2b2b" transform="translate(228.84 424.20) rotate(-45) scale(1.080 1)">TN</text><text font-size="9.30" text-anchor="middle" class="P" fill="#2b2b2b" transform="translate(71.60 368.00) rotate(-90) scale(1.050 1)">Serum HDL-c (mmol/L)</text><text class="L" x="63.00" y="313.00" font-size="23.3" fill="#111">f</text><path d="M123.4 352.7V322.9H225.7V340.7" stroke="#555555" stroke-width="1.5" fill="none"/><path d="M123.4 328.8H187.4V340.2M181.5 340.2H196.4" stroke="#555555" stroke-width="1.5" fill="none"/><path d="M123.4 333.4H152.6V337.6" stroke="#555555" stroke-width="1.5" fill="none"/><polygon points="169.90,322.40 175.10,322.40 172.50,317.40" fill="#fff" stroke="#666" stroke-width="0.75"/><polygon points="152.60,328.20 157.30,328.20 154.95,323.80" fill="#fff" stroke="#666" stroke-width="0.75"/><polygon points="157.90,328.20 162.60,328.20 160.25,323.80" fill="#fff" stroke="#666" stroke-width="0.75"/><polygon points="130.15,333.30 134.85,333.30 132.50,329.20" fill="#fff" stroke="#666" stroke-width="0.75"/><polygon points="134.15,333.30 138.85,333.30 136.50,329.20" fill="#fff" stroke="#666" stroke-width="0.75"/><polygon points="138.15,333.30 142.85,333.30 140.50,329.20" fill="#fff" stroke="#666" stroke-width="0.75"/><polygon points="142.15,333.30 146.85,333.30 144.50,329.20" fill="#fff" stroke="#666" stroke-width="0.75"/><polygon points="145.25,340.60 149.85,340.60 147.55,336.50" fill="#0a0a0a"/><polygon points="150.10,340.60 154.70,340.60 152.40,336.50" fill="#0a0a0a"/><polygon points="154.95,340.60 159.55,340.60 157.25,336.50" fill="#0a0a0a"/><polygon points="164.50,353.70 169.10,353.70 166.80,349.60" fill="#0a0a0a"/><polygon points="174.45,344.10 179.05,344.10 176.75,340.00" fill="#0a0a0a"/><polygon points="179.30,344.10 183.90,344.10 181.60,340.00" fill="#0a0a0a"/><polygon points="184.15,344.10 188.75,344.10 186.45,340.00" fill="#0a0a0a"/><polygon points="189.05,346.10 193.65,346.10 191.35,342.00" fill="#0a0a0a"/><polygon points="193.90,346.10 198.50,346.10 196.20,342.00" fill="#0a0a0a"/><polygon points="198.75,346.10 203.35,346.10 201.05,342.00" fill="#0a0a0a"/><polygon points="218.25,345.00 222.85,345.00 220.55,340.90" fill="#0a0a0a"/><polygon points="223.10,345.00 227.70,345.00 225.40,340.90" fill="#0a0a0a"/><polygon points="227.95,345.00 232.55,345.00 230.25,340.90" fill="#0a0a0a"/></g><g><circle cx="288.58" cy="388.33" r="1.45" fill="#8a8a8a" fill-opacity="0.95"/><circle cx="289.80" cy="383.36" r="1.45" fill="#8a8a8a" fill-opacity="0.95"/><circle cx="287.46" cy="387.54" r="1.45" fill="#8a8a8a" fill-opacity="0.95"/><circle cx="288.38" cy="385.69" r="1.45" fill="#8a8a8a" fill-opacity="0.95"/><circle cx="289.45" cy="384.14" r="1.45" fill="#8a8a8a" fill-opacity="0.95"/><circle cx="285.83" cy="384.27" r="1.45" fill="#8a8a8a" fill-opacity="0.95"/><circle cx="288.50" cy="387.30" r="1.45" fill="#8a8a8a" fill-opacity="0.95"/><circle cx="290.36" cy="383.70" r="1.45" fill="#8a8a8a" fill-opacity="0.95"/><circle cx="286.36" cy="386.46" r="1.45" fill="#8a8a8a" fill-opacity="0.95"/><circle cx="288.40" cy="377.54" r="1.45" fill="#8a8a8a" fill-opacity="0.95"/><path d="M288.10 382.25V386.30M285.20 382.25H291.00M285.20 386.30H291.00M283.30 384.27H292.90" stroke="#111111" stroke-width="1.65" fill="none"/><circle cx="302.40" cy="379.02" r="1.45" fill="#ff9a4d" fill-opacity="0.95"/><circle cx="302.87" cy="365.83" r="1.45" fill="#ff9a4d" fill-opacity="0.95"/><circle cx="300.52" cy="366.20" r="1.45" fill="#ff9a4d" fill-opacity="0.95"/><circle cx="303.88" cy="369.08" r="1.45" fill="#ff9a4d" fill-opacity="0.95"/><circle cx="301.70" cy="374.08" r="1.45" fill="#ff9a4d" fill-opacity="0.95"/><circle cx="305.93" cy="367.14" r="1.45" fill="#ff9a4d" fill-opacity="0.95"/><circle cx="305.76" cy="369.63" r="1.45" fill="#ff9a4d" fill-opacity="0.95"/><circle cx="302.84" cy="375.16" r="1.45" fill="#ff9a4d" fill-opacity="0.95"/><circle cx="303.80" cy="368.89" r="1.45" fill="#ff9a4d" fill-opacity="0.95"/><circle cx="304.19" cy="369.62" r="1.45" fill="#ff9a4d" fill-opacity="0.95"/><path d="M302.73 366.66V375.51M299.83 366.66H305.63M299.83 375.51H305.63M297.93 371.09H307.53" stroke="#ff6a0d" stroke-width="1.65" fill="none"/><circle cx="317.62" cy="395.06" r="1.45" fill="#ff6b6b" fill-opacity="0.95"/><circle cx="316.87" cy="379.85" r="1.45" fill="#ff6b6b" fill-opacity="0.95"/><circle cx="317.24" cy="382.02" r="1.45" fill="#ff6b6b" fill-opacity="0.95"/><circle cx="314.68" cy="382.04" r="1.45" fill="#ff6b6b" fill-opacity="0.95"/><circle cx="315.21" cy="385.08" r="1.45" fill="#ff6b6b" fill-opacity="0.95"/><circle cx="320.06" cy="388.47" r="1.45" fill="#ff6b6b" fill-opacity="0.95"/><circle cx="318.83" cy="387.77" r="1.45" fill="#ff6b6b" fill-opacity="0.95"/><circle cx="313.75" cy="387.21" r="1.45" fill="#ff6b6b" fill-opacity="0.95"/><circle cx="319.42" cy="386.67" r="1.45" fill="#ff6b6b" fill-opacity="0.95"/><circle cx="313.79" cy="382.20" r="1.45" fill="#ff6b6b" fill-opacity="0.95"/><path d="M317.36 381.32V390.17M314.46 381.32H320.26M314.46 390.17H320.26M312.56 385.75H322.16" stroke="#f04545" stroke-width="1.65" fill="none"/><circle cx="332.64" cy="338.17" r="1.45" fill="#f2ee1a" fill-opacity="0.95"/><circle cx="331.68" cy="376.90" r="1.45" fill="#f2ee1a" fill-opacity="0.95"/><circle cx="331.08" cy="375.51" r="1.45" fill="#f2ee1a" fill-opacity="0.95"/><circle cx="331.17" cy="374.13" r="1.45" fill="#f2ee1a" fill-opacity="0.95"/><circle cx="329.23" cy="373.21" r="1.45" fill="#f2ee1a" fill-opacity="0.95"/><circle cx="335.69" cy="371.83" r="1.45" fill="#f2ee1a" fill-opacity="0.95"/><circle cx="328.69" cy="370.44" r="1.45" fill="#f2ee1a" fill-opacity="0.95"/><circle cx="331.42" cy="368.60" r="1.45" fill="#f2ee1a" fill-opacity="0.95"/><circle cx="333.81" cy="365.83" r="1.45" fill="#f2ee1a" fill-opacity="0.95"/><circle cx="331.23" cy="355.69" r="1.45" fill="#f2ee1a" fill-opacity="0.95"/><path d="M331.99 351.91V376.81M329.09 351.91H334.89M329.09 376.81H334.89M327.19 364.36H336.79" stroke="#c8c21a" stroke-width="1.65" fill="none"/><circle cx="346.95" cy="360.30" r="1.45" fill="#35d69a" fill-opacity="0.95"/><circle cx="345.95" cy="357.76" r="1.45" fill="#35d69a" fill-opacity="0.95"/><circle cx="343.56" cy="345.30" r="1.45" fill="#35d69a" fill-opacity="0.95"/><circle cx="348.44" cy="351.88" r="1.45" fill="#35d69a" fill-opacity="0.95"/><circle cx="344.89" cy="353.34" r="1.45" fill="#35d69a" fill-opacity="0.95"/><circle cx="346.53" cy="359.13" r="1.45" fill="#35d69a" fill-opacity="0.95"/><circle cx="348.72" cy="346.33" r="1.45" fill="#35d69a" fill-opacity="0.95"/><circle cx="344.19" cy="348.46" r="1.45" fill="#35d69a" fill-opacity="0.95"/><circle cx="343.08" cy="360.28" r="1.45" fill="#35d69a" fill-opacity="0.95"/><circle cx="346.76" cy="329.23" r="1.45" fill="#35d69a" fill-opacity="0.95"/><path d="M346.62 342.42V359.93M343.72 342.42H349.52M343.72 359.93H349.52M341.82 351.17H351.42" stroke="#12b877" stroke-width="1.65" fill="none"/><circle cx="360.68" cy="390.08" r="1.45" fill="#3f97ff" fill-opacity="0.95"/><circle cx="360.94" cy="365.19" r="1.45" fill="#3f97ff" fill-opacity="0.95"/><circle cx="363.51" cy="382.70" r="1.45" fill="#3f97ff" fill-opacity="0.95"/><circle cx="359.94" cy="375.23" r="1.45" fill="#3f97ff" fill-opacity="0.95"/><circle cx="362.43" cy="374.56" r="1.45" fill="#3f97ff" fill-opacity="0.95"/><circle cx="364.73" cy="379.51" r="1.45" fill="#3f97ff" fill-opacity="0.95"/><circle cx="364.38" cy="372.22" r="1.45" fill="#3f97ff" fill-opacity="0.95"/><circle cx="360.33" cy="372.41" r="1.45" fill="#3f97ff" fill-opacity="0.95"/><circle cx="362.01" cy="385.82" r="1.45" fill="#3f97ff" fill-opacity="0.95"/><circle cx="359.92" cy="380.17" r="1.45" fill="#3f97ff" fill-opacity="0.95"/><path d="M361.25 371.64V386.95M358.35 371.64H364.15M358.35 386.95H364.15M356.45 379.30H366.05" stroke="#1a8fae" stroke-width="1.65" fill="none"/><circle cx="376.32" cy="368.60" r="1.45" fill="#cf86f7" fill-opacity="0.95"/><circle cx="373.01" cy="343.53" r="1.45" fill="#cf86f7" fill-opacity="0.95"/><circle cx="377.50" cy="366.05" r="1.45" fill="#cf86f7" fill-opacity="0.95"/><circle cx="374.86" cy="348.32" r="1.45" fill="#cf86f7" fill-opacity="0.95"/><circle cx="379.12" cy="348.94" r="1.45" fill="#cf86f7" fill-opacity="0.95"/><circle cx="378.50" cy="356.19" r="1.45" fill="#cf86f7" fill-opacity="0.95"/><circle cx="372.64" cy="354.70" r="1.45" fill="#cf86f7" fill-opacity="0.95"/><circle cx="373.61" cy="359.44" r="1.45" fill="#cf86f7" fill-opacity="0.95"/><circle cx="379.19" cy="354.70" r="1.45" fill="#cf86f7" fill-opacity="0.95"/><circle cx="375.76" cy="328.03" r="1.45" fill="#cf86f7" fill-opacity="0.95"/><path d="M375.88 343.71V368.05M372.98 343.71H378.78M372.98 368.05H378.78M371.08 355.88H380.68" stroke="#b060e0" stroke-width="1.65" fill="none"/><circle cx="389.87" cy="351.08" r="1.45" fill="#ff8fe0" fill-opacity="0.95"/><circle cx="390.74" cy="336.33" r="1.45" fill="#ff8fe0" fill-opacity="0.95"/><circle cx="390.23" cy="341.04" r="1.45" fill="#ff8fe0" fill-opacity="0.95"/><circle cx="393.47" cy="348.84" r="1.45" fill="#ff8fe0" fill-opacity="0.95"/><circle cx="391.47" cy="342.66" r="1.45" fill="#ff8fe0" fill-opacity="0.95"/><circle cx="392.00" cy="338.96" r="1.45" fill="#ff8fe0" fill-opacity="0.95"/><circle cx="387.75" cy="340.05" r="1.45" fill="#ff8fe0" fill-opacity="0.95"/><circle cx="392.97" cy="338.48" r="1.45" fill="#ff8fe0" fill-opacity="0.95"/><circle cx="387.43" cy="337.18" r="1.45" fill="#ff8fe0" fill-opacity="0.95"/><circle cx="391.38" cy="345.26" r="1.45" fill="#ff8fe0" fill-opacity="0.95"/><path d="M390.51 337.16V348.78M387.61 337.16H393.41M387.61 348.78H393.41M385.71 342.97H395.31" stroke="#f260cf" stroke-width="1.65" fill="none"/><circle cx="405.48" cy="351.08" r="1.45" fill="#e23be2" fill-opacity="0.95"/><circle cx="401.91" cy="346.35" r="1.45" fill="#e23be2" fill-opacity="0.95"/><circle cx="407.36" cy="338.75" r="1.45" fill="#e23be2" fill-opacity="0.95"/><circle cx="408.68" cy="348.46" r="1.45" fill="#e23be2" fill-opacity="0.95"/><circle cx="403.56" cy="348.03" r="1.45" fill="#e23be2" fill-opacity="0.95"/><circle cx="408.39" cy="338.45" r="1.45" fill="#e23be2" fill-opacity="0.95"/><circle cx="402.06" cy="347.85" r="1.45" fill="#e23be2" fill-opacity="0.95"/><circle cx="407.79" cy="342.94" r="1.45" fill="#e23be2" fill-opacity="0.95"/><circle cx="403.51" cy="350.92" r="1.45" fill="#e23be2" fill-opacity="0.95"/><circle cx="405.03" cy="329.23" r="1.45" fill="#e23be2" fill-opacity="0.95"/><path d="M405.14 337.16V351.17M402.24 337.16H408.04M402.24 351.17H408.04M400.34 344.17H409.94" stroke="#b812b8" stroke-width="1.65" fill="none"/><path d="M278.10 322.50V414.70H415.20" stroke="#4a4a4a" stroke-width="1.5" fill="none" stroke-linecap="square"/><text x="274.50" y="417.95" font-size="9.20" text-anchor="end" class="P" fill="#2b2b2b" transform="translate(274.50 0) scale(0.950 1) translate(-274.50 0)">0.0</text><text x="274.50" y="381.07" font-size="9.20" text-anchor="end" class="P" fill="#2b2b2b" transform="translate(274.50 0) scale(0.950 1) translate(-274.50 0)">40.0</text><text x="274.50" y="344.19" font-size="9.20" text-anchor="end" class="P" fill="#2b2b2b" transform="translate(274.50 0) scale(0.950 1) translate(-274.50 0)">80.0</text><path d="M275.30 414.70H278.10M275.30 377.82H278.10M275.30 340.94H278.10M275.30 322.50H278.10M288.10 414.70V417.50M302.73 414.70V417.50M317.36 414.70V417.50M331.99 414.70V417.50M346.62 414.70V417.50M361.25 414.70V417.50M375.88 414.70V417.50M390.51 414.70V417.50M405.14 414.70V417.50" stroke="#4a4a4a" stroke-width="1.1" fill="none"/><text font-size="8.30" text-anchor="end" class="P" fill="#2b2b2b" transform="translate(291.40 423.90) rotate(-45) scale(1.080 1)">Control</text><text font-size="8.30" text-anchor="end" class="P" fill="#2b2b2b" transform="translate(306.03 423.90) rotate(-45) scale(1.080 1)">Model</text><text font-size="8.30" text-anchor="end" class="P" fill="#2b2b2b" transform="translate(320.66 423.90) rotate(-45) scale(1.080 1)">JMZ</text><text font-size="8.30" text-anchor="end" class="P" fill="#2b2b2b" transform="translate(335.29 423.90) rotate(-45) scale(1.080 1)">TMA</text><text font-size="8.30" text-anchor="end" class="P" fill="#2b2b2b" transform="translate(349.92 423.90) rotate(-45) scale(1.080 1)">TP</text><text font-size="8.30" text-anchor="end" class="P" fill="#2b2b2b" transform="translate(364.55 423.90) rotate(-45) scale(1.080 1)">TM</text><text font-size="8.30" text-anchor="end" class="P" fill="#2b2b2b" transform="translate(379.18 423.90) rotate(-45) scale(1.080 1)">TC</text><text font-size="8.30" text-anchor="end" class="P" fill="#2b2b2b" transform="translate(393.81 423.90) rotate(-45) scale(1.080 1)">TV</text><text font-size="8.30" text-anchor="end" class="P" fill="#2b2b2b" transform="translate(408.44 423.90) rotate(-45) scale(1.080 1)">TN</text><text font-size="9.30" text-anchor="middle" class="P" fill="#2b2b2b" transform="translate(246.20 368.00) rotate(-90) scale(1.050 1)">Serum ALT(U/L)</text><text class="L" x="236.00" y="313.00" font-size="23.3" fill="#111">g</text><path d="M302.4 320.4V316.2H390V320.8M375.8 320.8H405.1" stroke="#555555" stroke-width="1.5" fill="none"/><path d="M302.4 361.3V322.7H347.1V326.4" stroke="#555555" stroke-width="1.5" fill="none"/><polygon points="336.30,315.80 341.50,315.80 338.90,311.00" fill="#fff" stroke="#666" stroke-width="0.75"/><polygon points="341.90,315.80 347.10,315.80 344.50,311.00" fill="#fff" stroke="#666" stroke-width="0.75"/><polygon points="347.50,315.80 352.70,315.80 350.10,311.00" fill="#fff" stroke="#666" stroke-width="0.75"/><polygon points="319.80,322.30 325.00,322.30 322.40,317.50" fill="#fff" stroke="#666" stroke-width="0.75"/><polygon points="325.40,322.30 330.60,322.30 328.00,317.50" fill="#fff" stroke="#666" stroke-width="0.75"/><polygon points="331.00,322.30 336.20,322.30 333.60,317.50" fill="#fff" stroke="#666" stroke-width="0.75"/><polygon points="325.05,335.80 329.65,335.80 327.35,331.70" fill="#0a0a0a"/><polygon points="329.90,335.80 334.50,335.80 332.20,331.70" fill="#0a0a0a"/><polygon points="334.75,335.80 339.35,335.80 337.05,331.70" fill="#0a0a0a"/><polygon points="339.85,328.80 344.45,328.80 342.15,324.70" fill="#0a0a0a"/><polygon points="344.70,328.80 349.30,328.80 347.00,324.70" fill="#0a0a0a"/><polygon points="349.55,328.80 354.15,328.80 351.85,324.70" fill="#0a0a0a"/><polygon points="367.95,325.70 372.55,325.70 370.25,321.60" fill="#0a0a0a"/><polygon points="372.80,325.70 377.40,325.70 375.10,321.60" fill="#0a0a0a"/><polygon points="377.65,325.70 382.25,325.70 379.95,321.60" fill="#0a0a0a"/><polygon points="383.25,328.80 387.85,328.80 385.55,324.70" fill="#0a0a0a"/><polygon points="388.10,328.80 392.70,328.80 390.40,324.70" fill="#0a0a0a"/><polygon points="392.95,328.80 397.55,328.80 395.25,324.70" fill="#0a0a0a"/><polygon points="397.95,327.10 402.55,327.10 400.25,323.00" fill="#0a0a0a"/><polygon points="402.80,327.10 407.40,327.10 405.10,323.00" fill="#0a0a0a"/><polygon points="407.65,327.10 412.25,327.10 409.95,323.00" fill="#0a0a0a"/></g><g><circle cx="467.39" cy="390.65" r="1.45" fill="#8a8a8a" fill-opacity="0.95"/><circle cx="466.85" cy="381.05" r="1.45" fill="#8a8a8a" fill-opacity="0.95"/><circle cx="466.94" cy="387.24" r="1.45" fill="#8a8a8a" fill-opacity="0.95"/><circle cx="469.92" cy="385.41" r="1.45" fill="#8a8a8a" fill-opacity="0.95"/><circle cx="464.72" cy="387.17" r="1.45" fill="#8a8a8a" fill-opacity="0.95"/><circle cx="465.45" cy="387.38" r="1.45" fill="#8a8a8a" fill-opacity="0.95"/><circle cx="468.44" cy="388.85" r="1.45" fill="#8a8a8a" fill-opacity="0.95"/><circle cx="470.81" cy="387.14" r="1.45" fill="#8a8a8a" fill-opacity="0.95"/><circle cx="468.07" cy="383.98" r="1.45" fill="#8a8a8a" fill-opacity="0.95"/><circle cx="466.74" cy="385.62" r="1.45" fill="#8a8a8a" fill-opacity="0.95"/><path d="M467.50 383.98V389.28M464.60 383.98H470.40M464.60 389.28H470.40M462.70 386.63H472.30" stroke="#111111" stroke-width="1.65" fill="none"/><circle cx="482.19" cy="383.34" r="1.45" fill="#ff9a4d" fill-opacity="0.95"/><circle cx="481.86" cy="374.66" r="1.45" fill="#ff9a4d" fill-opacity="0.95"/><circle cx="482.41" cy="378.48" r="1.45" fill="#ff9a4d" fill-opacity="0.95"/><circle cx="478.82" cy="379.13" r="1.45" fill="#ff9a4d" fill-opacity="0.95"/><circle cx="478.80" cy="378.08" r="1.45" fill="#ff9a4d" fill-opacity="0.95"/><circle cx="479.88" cy="380.23" r="1.45" fill="#ff9a4d" fill-opacity="0.95"/><circle cx="483.39" cy="378.47" r="1.45" fill="#ff9a4d" fill-opacity="0.95"/><circle cx="481.52" cy="378.31" r="1.45" fill="#ff9a4d" fill-opacity="0.95"/><circle cx="480.68" cy="380.27" r="1.45" fill="#ff9a4d" fill-opacity="0.95"/><circle cx="482.69" cy="375.86" r="1.45" fill="#ff9a4d" fill-opacity="0.95"/><path d="M482.06 376.99V381.10M479.16 376.99H484.96M479.16 381.10H484.96M477.26 379.04H486.86" stroke="#ff6a0d" stroke-width="1.65" fill="none"/><circle cx="496.01" cy="392.94" r="1.45" fill="#ff6b6b" fill-opacity="0.95"/><circle cx="497.03" cy="379.91" r="1.45" fill="#ff6b6b" fill-opacity="0.95"/><circle cx="494.04" cy="388.08" r="1.45" fill="#ff6b6b" fill-opacity="0.95"/><circle cx="496.54" cy="383.93" r="1.45" fill="#ff6b6b" fill-opacity="0.95"/><circle cx="493.21" cy="383.21" r="1.45" fill="#ff6b6b" fill-opacity="0.95"/><circle cx="497.86" cy="390.77" r="1.45" fill="#ff6b6b" fill-opacity="0.95"/><circle cx="498.58" cy="384.70" r="1.45" fill="#ff6b6b" fill-opacity="0.95"/><circle cx="497.16" cy="392.85" r="1.45" fill="#ff6b6b" fill-opacity="0.95"/><circle cx="499.40" cy="386.16" r="1.45" fill="#ff6b6b" fill-opacity="0.95"/><circle cx="495.24" cy="385.31" r="1.45" fill="#ff6b6b" fill-opacity="0.95"/><path d="M496.62 380.50V389.28M493.72 380.50H499.52M493.72 389.28H499.52M491.82 384.89H501.42" stroke="#f04545" stroke-width="1.65" fill="none"/><circle cx="511.97" cy="384.89" r="1.45" fill="#f2ee1a" fill-opacity="0.95"/><circle cx="513.56" cy="379.56" r="1.45" fill="#f2ee1a" fill-opacity="0.95"/><circle cx="509.59" cy="376.35" r="1.45" fill="#f2ee1a" fill-opacity="0.95"/><circle cx="510.33" cy="383.50" r="1.45" fill="#f2ee1a" fill-opacity="0.95"/><circle cx="512.43" cy="380.89" r="1.45" fill="#f2ee1a" fill-opacity="0.95"/><circle cx="507.65" cy="377.04" r="1.45" fill="#f2ee1a" fill-opacity="0.95"/><circle cx="510.90" cy="361.03" r="1.45" fill="#f2ee1a" fill-opacity="0.95"/><circle cx="508.72" cy="370.26" r="1.45" fill="#f2ee1a" fill-opacity="0.95"/><circle cx="508.35" cy="359.67" r="1.45" fill="#f2ee1a" fill-opacity="0.95"/><circle cx="511.61" cy="349.98" r="1.45" fill="#f2ee1a" fill-opacity="0.95"/><path d="M511.18 362.59V382.15M508.28 362.59H514.08M508.28 382.15H514.08M506.38 372.37H515.98" stroke="#c8c21a" stroke-width="1.65" fill="none"/><circle cx="525.60" cy="378.31" r="1.45" fill="#35d69a" fill-opacity="0.95"/><circle cx="526.35" cy="356.56" r="1.45" fill="#35d69a" fill-opacity="0.95"/><circle cx="529.13" cy="365.86" r="1.45" fill="#35d69a" fill-opacity="0.95"/><circle cx="523.16" cy="366.28" r="1.45" fill="#35d69a" fill-opacity="0.95"/><circle cx="523.34" cy="366.07" r="1.45" fill="#35d69a" fill-opacity="0.95"/><circle cx="523.76" cy="360.94" r="1.45" fill="#35d69a" fill-opacity="0.95"/><circle cx="523.77" cy="363.22" r="1.45" fill="#35d69a" fill-opacity="0.95"/><circle cx="525.63" cy="366.20" r="1.45" fill="#35d69a" fill-opacity="0.95"/><circle cx="526.40" cy="374.33" r="1.45" fill="#35d69a" fill-opacity="0.95"/><circle cx="523.98" cy="364.01" r="1.45" fill="#35d69a" fill-opacity="0.95"/><path d="M525.74 362.13V377.67M522.84 362.13H528.64M522.84 377.67H528.64M520.94 369.90H530.54" stroke="#12b877" stroke-width="1.65" fill="none"/><circle cx="539.59" cy="380.60" r="1.45" fill="#3f97ff" fill-opacity="0.95"/><circle cx="543.26" cy="380.17" r="1.45" fill="#3f97ff" fill-opacity="0.95"/><circle cx="542.37" cy="365.51" r="1.45" fill="#3f97ff" fill-opacity="0.95"/><circle cx="543.07" cy="370.72" r="1.45" fill="#3f97ff" fill-opacity="0.95"/><circle cx="542.50" cy="375.39" r="1.45" fill="#3f97ff" fill-opacity="0.95"/><circle cx="539.50" cy="366.00" r="1.45" fill="#3f97ff" fill-opacity="0.95"/><circle cx="539.55" cy="373.15" r="1.45" fill="#3f97ff" fill-opacity="0.95"/><circle cx="537.37" cy="377.96" r="1.45" fill="#3f97ff" fill-opacity="0.95"/><circle cx="541.29" cy="371.55" r="1.45" fill="#3f97ff" fill-opacity="0.95"/><circle cx="539.61" cy="359.57" r="1.45" fill="#3f97ff" fill-opacity="0.95"/><path d="M540.30 365.15V376.57M537.40 365.15H543.20M537.40 376.57H543.20M535.50 370.86H545.10" stroke="#1a8fae" stroke-width="1.65" fill="none"/><circle cx="555.46" cy="383.34" r="1.45" fill="#cf86f7" fill-opacity="0.95"/><circle cx="555.70" cy="374.15" r="1.45" fill="#cf86f7" fill-opacity="0.95"/><circle cx="552.26" cy="371.08" r="1.45" fill="#cf86f7" fill-opacity="0.95"/><circle cx="553.03" cy="376.52" r="1.45" fill="#cf86f7" fill-opacity="0.95"/><circle cx="553.73" cy="373.24" r="1.45" fill="#cf86f7" fill-opacity="0.95"/><circle cx="553.85" cy="371.10" r="1.45" fill="#cf86f7" fill-opacity="0.95"/><circle cx="552.07" cy="375.24" r="1.45" fill="#cf86f7" fill-opacity="0.95"/><circle cx="557.44" cy="369.72" r="1.45" fill="#cf86f7" fill-opacity="0.95"/><circle cx="558.51" cy="371.15" r="1.45" fill="#cf86f7" fill-opacity="0.95"/><circle cx="554.83" cy="359.57" r="1.45" fill="#cf86f7" fill-opacity="0.95"/><path d="M554.86 367.21V383.29M551.96 367.21H557.76M551.96 383.29H557.76M550.06 375.25H559.66" stroke="#b060e0" stroke-width="1.65" fill="none"/><circle cx="568.66" cy="379.91" r="1.45" fill="#ff8fe0" fill-opacity="0.95"/><circle cx="569.63" cy="362.61" r="1.45" fill="#ff8fe0" fill-opacity="0.95"/><circle cx="572.96" cy="364.14" r="1.45" fill="#ff8fe0" fill-opacity="0.95"/><circle cx="572.11" cy="370.56" r="1.45" fill="#ff8fe0" fill-opacity="0.95"/><circle cx="570.87" cy="360.15" r="1.45" fill="#ff8fe0" fill-opacity="0.95"/><circle cx="567.65" cy="363.73" r="1.45" fill="#ff8fe0" fill-opacity="0.95"/><circle cx="568.43" cy="371.43" r="1.45" fill="#ff8fe0" fill-opacity="0.95"/><circle cx="566.96" cy="363.03" r="1.45" fill="#ff8fe0" fill-opacity="0.95"/><circle cx="571.43" cy="371.74" r="1.45" fill="#ff8fe0" fill-opacity="0.95"/><circle cx="569.87" cy="348.38" r="1.45" fill="#ff8fe0" fill-opacity="0.95"/><path d="M569.42 355.78V377.08M566.52 355.78H572.32M566.52 377.08H572.32M564.62 366.43H574.22" stroke="#f260cf" stroke-width="1.65" fill="none"/><circle cx="584.01" cy="380.60" r="1.45" fill="#e23be2" fill-opacity="0.95"/><circle cx="583.23" cy="368.71" r="1.45" fill="#e23be2" fill-opacity="0.95"/><circle cx="580.49" cy="375.34" r="1.45" fill="#e23be2" fill-opacity="0.95"/><circle cx="582.35" cy="376.24" r="1.45" fill="#e23be2" fill-opacity="0.95"/><circle cx="582.20" cy="372.67" r="1.45" fill="#e23be2" fill-opacity="0.95"/><circle cx="585.40" cy="370.93" r="1.45" fill="#e23be2" fill-opacity="0.95"/><circle cx="587.36" cy="370.94" r="1.45" fill="#e23be2" fill-opacity="0.95"/><circle cx="583.59" cy="380.33" r="1.45" fill="#e23be2" fill-opacity="0.95"/><circle cx="587.21" cy="372.45" r="1.45" fill="#e23be2" fill-opacity="0.95"/><circle cx="587.59" cy="380.50" r="1.45" fill="#e23be2" fill-opacity="0.95"/><path d="M583.98 370.86V379.09M581.08 370.86H586.88M581.08 379.09H586.88M579.18 374.97H588.78" stroke="#b812b8" stroke-width="1.65" fill="none"/><path d="M457.30 322.10V413.50H594.20" stroke="#4a4a4a" stroke-width="1.5" fill="none" stroke-linecap="square"/><text x="453.70" y="416.75" font-size="9.20" text-anchor="end" class="P" fill="#2b2b2b" transform="translate(453.70 0) scale(0.950 1) translate(-453.70 0)">0.0</text><text x="453.70" y="371.05" font-size="9.20" text-anchor="end" class="P" fill="#2b2b2b" transform="translate(453.70 0) scale(0.950 1) translate(-453.70 0)">100.0</text><text x="453.70" y="325.35" font-size="9.20" text-anchor="end" class="P" fill="#2b2b2b" transform="translate(453.70 0) scale(0.950 1) translate(-453.70 0)">200.0</text><path d="M454.50 413.50H457.30M454.50 367.80H457.30M454.50 322.10H457.30M467.50 413.50V416.30M482.06 413.50V416.30M496.62 413.50V416.30M511.18 413.50V416.30M525.74 413.50V416.30M540.30 413.50V416.30M554.86 413.50V416.30M569.42 413.50V416.30M583.98 413.50V416.30" stroke="#4a4a4a" stroke-width="1.1" fill="none"/><text font-size="8.30" text-anchor="end" class="P" fill="#2b2b2b" transform="translate(470.80 422.70) rotate(-45) scale(1.080 1)">Control</text><text font-size="8.30" text-anchor="end" class="P" fill="#2b2b2b" transform="translate(485.36 422.70) rotate(-45) scale(1.080 1)">Model</text><text font-size="8.30" text-anchor="end" class="P" fill="#2b2b2b" transform="translate(499.92 422.70) rotate(-45) scale(1.080 1)">JMZ</text><text font-size="8.30" text-anchor="end" class="P" fill="#2b2b2b" transform="translate(514.48 422.70) rotate(-45) scale(1.080 1)">TMA</text><text font-size="8.30" text-anchor="end" class="P" fill="#2b2b2b" transform="translate(529.04 422.70) rotate(-45) scale(1.080 1)">TP</text><text font-size="8.30" text-anchor="end" class="P" fill="#2b2b2b" transform="translate(543.60 422.70) rotate(-45) scale(1.080 1)">TM</text><text font-size="8.30" text-anchor="end" class="P" fill="#2b2b2b" transform="translate(558.16 422.70) rotate(-45) scale(1.080 1)">TC</text><text font-size="8.30" text-anchor="end" class="P" fill="#2b2b2b" transform="translate(572.72 422.70) rotate(-45) scale(1.080 1)">TV</text><text font-size="8.30" text-anchor="end" class="P" fill="#2b2b2b" transform="translate(587.28 422.70) rotate(-45) scale(1.080 1)">TN</text><text font-size="9.30" text-anchor="middle" class="P" fill="#2b2b2b" transform="translate(424.80 368.00) rotate(-90) scale(1.050 1)">Serum AST(U/L)</text><text class="L" x="419.00" y="313.00" font-size="23.3" fill="#111">h</text><path d="M481.8 338.8V334.4H569.4V339.6" stroke="#555555" stroke-width="1.5" fill="none"/><path d="M481.8 372.6V340.7H523.3V345.1" stroke="#555555" stroke-width="1.5" fill="none"/><polygon points="517.80,334.00 523.00,334.00 520.40,329.40" fill="#fff" stroke="#666" stroke-width="0.75"/><polygon points="523.50,334.00 528.70,334.00 526.10,329.40" fill="#fff" stroke="#666" stroke-width="0.75"/><polygon points="529.20,334.00 534.40,334.00 531.80,329.40" fill="#fff" stroke="#666" stroke-width="0.75"/><polygon points="498.70,340.30 503.90,340.30 501.30,335.70" fill="#fff" stroke="#666" stroke-width="0.75"/><polygon points="504.40,340.30 509.60,340.30 507.00,335.70" fill="#fff" stroke="#666" stroke-width="0.75"/><polygon points="510.10,340.30 515.30,340.30 512.70,335.70" fill="#fff" stroke="#666" stroke-width="0.75"/><polygon points="504.45,347.70 509.05,347.70 506.75,343.60" fill="#0a0a0a"/><polygon points="509.30,347.70 513.90,347.70 511.60,343.60" fill="#0a0a0a"/><polygon points="514.15,347.70 518.75,347.70 516.45,343.60" fill="#0a0a0a"/><polygon points="518.75,354.20 523.35,354.20 521.05,350.10" fill="#0a0a0a"/><polygon points="523.60,354.20 528.20,354.20 525.90,350.10" fill="#0a0a0a"/><polygon points="528.45,354.20 533.05,354.20 530.75,350.10" fill="#0a0a0a"/><polygon points="533.05,357.40 537.65,357.40 535.35,353.30" fill="#0a0a0a"/><polygon points="537.90,357.40 542.50,357.40 540.20,353.30" fill="#0a0a0a"/><polygon points="542.75,357.40 547.35,357.40 545.05,353.30" fill="#0a0a0a"/><polygon points="552.50,357.40 557.10,357.40 554.80,353.30" fill="#0a0a0a"/><polygon points="562.25,345.70 566.85,345.70 564.55,341.60" fill="#0a0a0a"/><polygon points="567.10,345.70 571.70,345.70 569.40,341.60" fill="#0a0a0a"/><polygon points="571.95,345.70 576.55,345.70 574.25,341.60" fill="#0a0a0a"/><polygon points="579.28,364.10 583.88,364.10 581.58,360.00" fill="#0a0a0a"/><polygon points="584.13,364.10 588.73,364.10 586.43,360.00" fill="#0a0a0a"/></g><g><circle cx="108.84" cy="526.92" r="1.45" fill="#8a8a8a" fill-opacity="0.95"/><circle cx="109.23" cy="518.78" r="1.45" fill="#8a8a8a" fill-opacity="0.95"/><circle cx="108.95" cy="522.37" r="1.45" fill="#8a8a8a" fill-opacity="0.95"/><circle cx="109.26" cy="520.83" r="1.45" fill="#8a8a8a" fill-opacity="0.95"/><circle cx="107.02" cy="520.79" r="1.45" fill="#8a8a8a" fill-opacity="0.95"/><circle cx="111.75" cy="521.78" r="1.45" fill="#8a8a8a" fill-opacity="0.95"/><path d="M109.30 520.79V525.55M106.40 520.79H112.20M106.40 525.55H112.20M104.50 523.17H114.10" stroke="#111111" stroke-width="1.65" fill="none"/><circle cx="124.54" cy="494.71" r="1.45" fill="#ff9a4d" fill-opacity="0.95"/><circle cx="123.28" cy="474.31" r="1.45" fill="#ff9a4d" fill-opacity="0.95"/><circle cx="122.11" cy="482.51" r="1.45" fill="#ff9a4d" fill-opacity="0.95"/><circle cx="127.54" cy="480.93" r="1.45" fill="#ff9a4d" fill-opacity="0.95"/><circle cx="120.67" cy="482.48" r="1.45" fill="#ff9a4d" fill-opacity="0.95"/><circle cx="124.79" cy="479.83" r="1.45" fill="#ff9a4d" fill-opacity="0.95"/><path d="M123.90 477.60V492.61M121.00 477.60H126.80M121.00 492.61H126.80M119.10 485.11H128.70" stroke="#ff6a0d" stroke-width="1.65" fill="none"/><circle cx="138.74" cy="519.60" r="1.45" fill="#ff6b6b" fill-opacity="0.95"/><circle cx="138.63" cy="497.19" r="1.45" fill="#ff6b6b" fill-opacity="0.95"/><circle cx="135.85" cy="506.14" r="1.45" fill="#ff6b6b" fill-opacity="0.95"/><circle cx="135.28" cy="516.96" r="1.45" fill="#ff6b6b" fill-opacity="0.95"/><circle cx="141.80" cy="497.44" r="1.45" fill="#ff6b6b" fill-opacity="0.95"/><circle cx="138.42" cy="514.66" r="1.45" fill="#ff6b6b" fill-opacity="0.95"/><path d="M138.50 496.64V517.50M135.60 496.64H141.40M135.60 517.50H141.40M133.70 507.07H143.30" stroke="#f04545" stroke-width="1.65" fill="none"/><circle cx="153.70" cy="522.53" r="1.45" fill="#f2ee1a" fill-opacity="0.95"/><circle cx="150.40" cy="500.54" r="1.45" fill="#f2ee1a" fill-opacity="0.95"/><circle cx="155.06" cy="504.86" r="1.45" fill="#f2ee1a" fill-opacity="0.95"/><circle cx="150.12" cy="519.65" r="1.45" fill="#f2ee1a" fill-opacity="0.95"/><circle cx="154.51" cy="507.01" r="1.45" fill="#f2ee1a" fill-opacity="0.95"/><circle cx="153.82" cy="494.17" r="1.45" fill="#f2ee1a" fill-opacity="0.95"/><path d="M153.10 502.31V522.80M150.20 502.31H156.00M150.20 522.80H156.00M148.30 512.56H157.90" stroke="#c8c21a" stroke-width="1.65" fill="none"/><circle cx="167.72" cy="496.82" r="1.45" fill="#35d69a" fill-opacity="0.95"/><circle cx="168.35" cy="488.95" r="1.45" fill="#35d69a" fill-opacity="0.95"/><circle cx="167.75" cy="494.44" r="1.45" fill="#35d69a" fill-opacity="0.95"/><circle cx="169.19" cy="491.85" r="1.45" fill="#35d69a" fill-opacity="0.95"/><circle cx="165.63" cy="495.36" r="1.45" fill="#35d69a" fill-opacity="0.95"/><circle cx="165.80" cy="492.86" r="1.45" fill="#35d69a" fill-opacity="0.95"/><path d="M167.70 490.87V495.63M164.80 490.87H170.60M164.80 495.63H170.60M162.90 493.25H172.50" stroke="#12b877" stroke-width="1.65" fill="none"/><circle cx="182.83" cy="520.52" r="1.45" fill="#3f97ff" fill-opacity="0.95"/><circle cx="181.78" cy="497.64" r="1.45" fill="#3f97ff" fill-opacity="0.95"/><circle cx="181.53" cy="504.78" r="1.45" fill="#3f97ff" fill-opacity="0.95"/><circle cx="179.83" cy="501.42" r="1.45" fill="#3f97ff" fill-opacity="0.95"/><circle cx="183.51" cy="509.01" r="1.45" fill="#3f97ff" fill-opacity="0.95"/><circle cx="185.81" cy="510.62" r="1.45" fill="#3f97ff" fill-opacity="0.95"/><path d="M182.30 499.66V519.60M179.40 499.66H185.20M179.40 519.60H185.20M177.50 509.63H187.10" stroke="#1a8fae" stroke-width="1.65" fill="none"/><circle cx="196.65" cy="500.57" r="1.45" fill="#cf86f7" fill-opacity="0.95"/><circle cx="194.46" cy="492.15" r="1.45" fill="#cf86f7" fill-opacity="0.95"/><circle cx="196.42" cy="494.26" r="1.45" fill="#cf86f7" fill-opacity="0.95"/><circle cx="194.91" cy="496.47" r="1.45" fill="#cf86f7" fill-opacity="0.95"/><circle cx="196.23" cy="495.66" r="1.45" fill="#cf86f7" fill-opacity="0.95"/><circle cx="196.77" cy="486.85" r="1.45" fill="#cf86f7" fill-opacity="0.95"/><path d="M196.90 491.88V500.66M194.00 491.88H199.80M194.00 500.66H199.80M192.10 496.27H201.70" stroke="#b060e0" stroke-width="1.65" fill="none"/><circle cx="211.53" cy="522.53" r="1.45" fill="#ff8fe0" fill-opacity="0.95"/><circle cx="210.47" cy="515.81" r="1.45" fill="#ff8fe0" fill-opacity="0.95"/><circle cx="213.78" cy="513.05" r="1.45" fill="#ff8fe0" fill-opacity="0.95"/><circle cx="211.54" cy="504.91" r="1.45" fill="#ff8fe0" fill-opacity="0.95"/><circle cx="213.04" cy="506.07" r="1.45" fill="#ff8fe0" fill-opacity="0.95"/><circle cx="210.80" cy="489.50" r="1.45" fill="#ff8fe0" fill-opacity="0.95"/><path d="M211.50 497.00V520.06M208.60 497.00H214.40M208.60 520.06H214.40M206.70 508.53H216.30" stroke="#f260cf" stroke-width="1.65" fill="none"/><circle cx="225.86" cy="523.17" r="1.45" fill="#e23be2" fill-opacity="0.95"/><circle cx="225.30" cy="488.31" r="1.45" fill="#e23be2" fill-opacity="0.95"/><circle cx="228.58" cy="497.21" r="1.45" fill="#e23be2" fill-opacity="0.95"/><circle cx="223.95" cy="503.73" r="1.45" fill="#e23be2" fill-opacity="0.95"/><circle cx="228.88" cy="517.67" r="1.45" fill="#e23be2" fill-opacity="0.95"/><circle cx="222.65" cy="493.09" r="1.45" fill="#e23be2" fill-opacity="0.95"/><path d="M226.10 489.68V519.33M223.20 489.68H229.00M223.20 519.33H229.00M221.30 504.50H230.90" stroke="#b812b8" stroke-width="1.65" fill="none"/><path d="M99.30 461.50V553.00H236.40" stroke="#4a4a4a" stroke-width="1.5" fill="none" stroke-linecap="square"/><text x="95.70" y="556.25" font-size="9.20" text-anchor="end" class="P" fill="#2b2b2b" transform="translate(95.70 0) scale(0.950 1) translate(-95.70 0)">0.0</text><text x="95.70" y="519.65" font-size="9.20" text-anchor="end" class="P" fill="#2b2b2b" transform="translate(95.70 0) scale(0.950 1) translate(-95.70 0)">40.0</text><text x="95.70" y="483.05" font-size="9.20" text-anchor="end" class="P" fill="#2b2b2b" transform="translate(95.70 0) scale(0.950 1) translate(-95.70 0)">80.0</text><path d="M96.50 553.00H99.30M96.50 516.40H99.30M96.50 479.80H99.30M96.50 461.50H99.30M109.30 553.00V555.80M123.90 553.00V555.80M138.50 553.00V555.80M153.10 553.00V555.80M167.70 553.00V555.80M182.30 553.00V555.80M196.90 553.00V555.80M211.50 553.00V555.80M226.10 553.00V555.80" stroke="#4a4a4a" stroke-width="1.1" fill="none"/><text font-size="8.30" text-anchor="end" class="P" fill="#2b2b2b" transform="translate(112.60 562.20) rotate(-45) scale(1.080 1)">Control</text><text font-size="8.30" text-anchor="end" class="P" fill="#2b2b2b" transform="translate(127.20 562.20) rotate(-45) scale(1.080 1)">Model</text><text font-size="8.30" text-anchor="end" class="P" fill="#2b2b2b" transform="translate(141.80 562.20) rotate(-45) scale(1.080 1)">JMZ</text><text font-size="8.30" text-anchor="end" class="P" fill="#2b2b2b" transform="translate(156.40 562.20) rotate(-45) scale(1.080 1)">TMA</text><text font-size="8.30" text-anchor="end" class="P" fill="#2b2b2b" transform="translate(171.00 562.20) rotate(-45) scale(1.080 1)">TP</text><text font-size="8.30" text-anchor="end" class="P" fill="#2b2b2b" transform="translate(185.60 562.20) rotate(-45) scale(1.080 1)">TM</text><text font-size="8.30" text-anchor="end" class="P" fill="#2b2b2b" transform="translate(200.20 562.20) rotate(-45) scale(1.080 1)">TC</text><text font-size="8.30" text-anchor="end" class="P" fill="#2b2b2b" transform="translate(214.80 562.20) rotate(-45) scale(1.080 1)">TV</text><text font-size="8.30" text-anchor="end" class="P" fill="#2b2b2b" transform="translate(229.40 562.20) rotate(-45) scale(1.080 1)">TN</text><text font-size="9.30" text-anchor="middle" class="P" fill="#2b2b2b" transform="translate(67.50 506.00) rotate(-90) scale(1.050 1)">TNF- <tspan font-weight="normal" font-size="7.5">α</tspan> (ng/ml)</text><text class="L" x="63.00" y="466.30" font-size="23.3" fill="#111">i</text></g><g><circle cx="287.73" cy="544.50" r="1.45" fill="#8a8a8a" fill-opacity="0.95"/><circle cx="288.59" cy="531.36" r="1.45" fill="#8a8a8a" fill-opacity="0.95"/><circle cx="285.00" cy="541.16" r="1.45" fill="#8a8a8a" fill-opacity="0.95"/><circle cx="287.50" cy="536.30" r="1.45" fill="#8a8a8a" fill-opacity="0.95"/><circle cx="289.91" cy="531.82" r="1.45" fill="#8a8a8a" fill-opacity="0.95"/><circle cx="288.04" cy="532.29" r="1.45" fill="#8a8a8a" fill-opacity="0.95"/><circle cx="290.07" cy="537.03" r="1.45" fill="#8a8a8a" fill-opacity="0.95"/><path d="M288.40 532.58V541.87M285.50 532.58H291.30M285.50 541.87H291.30M283.60 537.23H293.20" stroke="#111111" stroke-width="1.65" fill="none"/><circle cx="302.81" cy="512.41" r="1.45" fill="#ff9a4d" fill-opacity="0.95"/><circle cx="302.36" cy="494.01" r="1.45" fill="#ff9a4d" fill-opacity="0.95"/><circle cx="301.45" cy="500.05" r="1.45" fill="#ff9a4d" fill-opacity="0.95"/><circle cx="304.29" cy="498.95" r="1.45" fill="#ff9a4d" fill-opacity="0.95"/><circle cx="304.67" cy="497.39" r="1.45" fill="#ff9a4d" fill-opacity="0.95"/><circle cx="302.42" cy="498.17" r="1.45" fill="#ff9a4d" fill-opacity="0.95"/><circle cx="299.95" cy="495.93" r="1.45" fill="#ff9a4d" fill-opacity="0.95"/><path d="M303.00 496.33V508.07M300.10 496.33H305.90M300.10 508.07H305.90M298.20 502.20H307.80" stroke="#ff6a0d" stroke-width="1.65" fill="none"/><circle cx="316.89" cy="526.41" r="1.45" fill="#ff6b6b" fill-opacity="0.95"/><circle cx="317.59" cy="515.34" r="1.45" fill="#ff6b6b" fill-opacity="0.95"/><circle cx="314.07" cy="522.19" r="1.45" fill="#ff6b6b" fill-opacity="0.95"/><circle cx="317.04" cy="520.25" r="1.45" fill="#ff6b6b" fill-opacity="0.95"/><circle cx="320.61" cy="517.55" r="1.45" fill="#ff6b6b" fill-opacity="0.95"/><circle cx="314.73" cy="521.26" r="1.45" fill="#ff6b6b" fill-opacity="0.95"/><circle cx="318.32" cy="517.66" r="1.45" fill="#ff6b6b" fill-opacity="0.95"/><path d="M317.60 516.01V523.96M314.70 516.01H320.50M314.70 523.96H320.50M312.80 519.99H322.40" stroke="#f04545" stroke-width="1.65" fill="none"/><circle cx="331.43" cy="535.76" r="1.45" fill="#f2ee1a" fill-opacity="0.95"/><circle cx="332.19" cy="505.07" r="1.45" fill="#f2ee1a" fill-opacity="0.95"/><circle cx="335.31" cy="509.57" r="1.45" fill="#f2ee1a" fill-opacity="0.95"/><circle cx="331.61" cy="510.12" r="1.45" fill="#f2ee1a" fill-opacity="0.95"/><circle cx="331.45" cy="514.80" r="1.45" fill="#f2ee1a" fill-opacity="0.95"/><circle cx="333.23" cy="526.60" r="1.45" fill="#f2ee1a" fill-opacity="0.95"/><circle cx="329.19" cy="516.25" r="1.45" fill="#f2ee1a" fill-opacity="0.95"/><path d="M332.20 507.58V535.33M329.30 507.58H335.10M329.30 535.33H335.10M327.40 521.46H337.00" stroke="#c8c21a" stroke-width="1.65" fill="none"/><circle cx="346.24" cy="512.96" r="1.45" fill="#35d69a" fill-opacity="0.95"/><circle cx="347.59" cy="497.19" r="1.45" fill="#35d69a" fill-opacity="0.95"/><circle cx="350.48" cy="504.95" r="1.45" fill="#35d69a" fill-opacity="0.95"/><circle cx="344.00" cy="508.19" r="1.45" fill="#35d69a" fill-opacity="0.95"/><circle cx="348.32" cy="506.78" r="1.45" fill="#35d69a" fill-opacity="0.95"/><circle cx="350.14" cy="498.14" r="1.45" fill="#35d69a" fill-opacity="0.95"/><circle cx="344.85" cy="502.62" r="1.45" fill="#35d69a" fill-opacity="0.95"/><path d="M346.80 498.65V511.49M343.90 498.65H349.70M343.90 511.49H349.70M342.00 505.07H351.60" stroke="#12b877" stroke-width="1.65" fill="none"/><circle cx="361.16" cy="531.36" r="1.45" fill="#3f97ff" fill-opacity="0.95"/><circle cx="361.53" cy="502.20" r="1.45" fill="#3f97ff" fill-opacity="0.95"/><circle cx="361.04" cy="516.11" r="1.45" fill="#3f97ff" fill-opacity="0.95"/><circle cx="360.68" cy="515.75" r="1.45" fill="#3f97ff" fill-opacity="0.95"/><circle cx="365.00" cy="523.69" r="1.45" fill="#3f97ff" fill-opacity="0.95"/><circle cx="361.95" cy="502.87" r="1.45" fill="#3f97ff" fill-opacity="0.95"/><circle cx="357.84" cy="528.21" r="1.45" fill="#3f97ff" fill-opacity="0.95"/><path d="M361.40 502.93V524.82M358.50 502.93H364.30M358.50 524.82H364.30M356.60 513.87H366.20" stroke="#1a8fae" stroke-width="1.65" fill="none"/><circle cx="375.72" cy="517.66" r="1.45" fill="#cf86f7" fill-opacity="0.95"/><circle cx="376.21" cy="491.38" r="1.45" fill="#cf86f7" fill-opacity="0.95"/><circle cx="373.06" cy="513.90" r="1.45" fill="#cf86f7" fill-opacity="0.95"/><circle cx="378.10" cy="502.87" r="1.45" fill="#cf86f7" fill-opacity="0.95"/><circle cx="372.49" cy="513.19" r="1.45" fill="#cf86f7" fill-opacity="0.95"/><circle cx="378.08" cy="511.20" r="1.45" fill="#cf86f7" fill-opacity="0.95"/><circle cx="378.28" cy="502.80" r="1.45" fill="#cf86f7" fill-opacity="0.95"/><path d="M376.00 495.17V515.59M373.10 495.17H378.90M373.10 515.59H378.90M371.20 505.38H380.80" stroke="#b060e0" stroke-width="1.65" fill="none"/><circle cx="391.18" cy="530.50" r="1.45" fill="#ff8fe0" fill-opacity="0.95"/><circle cx="390.87" cy="494.86" r="1.45" fill="#ff8fe0" fill-opacity="0.95"/><circle cx="388.17" cy="511.78" r="1.45" fill="#ff8fe0" fill-opacity="0.95"/><circle cx="393.14" cy="511.89" r="1.45" fill="#ff8fe0" fill-opacity="0.95"/><circle cx="388.82" cy="519.92" r="1.45" fill="#ff8fe0" fill-opacity="0.95"/><circle cx="387.27" cy="508.12" r="1.45" fill="#ff8fe0" fill-opacity="0.95"/><circle cx="394.12" cy="500.16" r="1.45" fill="#ff8fe0" fill-opacity="0.95"/><path d="M390.60 498.65V525.55M387.70 498.65H393.50M387.70 525.55H393.50M385.80 512.10H395.40" stroke="#f260cf" stroke-width="1.65" fill="none"/><circle cx="405.02" cy="529.04" r="1.45" fill="#e23be2" fill-opacity="0.95"/><circle cx="405.95" cy="492.54" r="1.45" fill="#e23be2" fill-opacity="0.95"/><circle cx="404.12" cy="514.86" r="1.45" fill="#e23be2" fill-opacity="0.95"/><circle cx="402.54" cy="496.52" r="1.45" fill="#e23be2" fill-opacity="0.95"/><circle cx="405.66" cy="493.38" r="1.45" fill="#e23be2" fill-opacity="0.95"/><circle cx="402.52" cy="513.40" r="1.45" fill="#e23be2" fill-opacity="0.95"/><circle cx="402.14" cy="507.01" r="1.45" fill="#e23be2" fill-opacity="0.95"/><path d="M405.20 496.76V526.83M402.30 496.76H408.10M402.30 526.83H408.10M400.40 511.80H410.00" stroke="#b812b8" stroke-width="1.65" fill="none"/><path d="M278.20 461.30V553.00H415.20" stroke="#4a4a4a" stroke-width="1.5" fill="none" stroke-linecap="square"/><text x="274.60" y="556.25" font-size="9.20" text-anchor="end" class="P" fill="#2b2b2b" transform="translate(274.60 0) scale(0.950 1) translate(-274.60 0)">0.0</text><text x="274.60" y="525.68" font-size="9.20" text-anchor="end" class="P" fill="#2b2b2b" transform="translate(274.60 0) scale(0.950 1) translate(-274.60 0)">50.0</text><text x="274.60" y="495.12" font-size="9.20" text-anchor="end" class="P" fill="#2b2b2b" transform="translate(274.60 0) scale(0.950 1) translate(-274.60 0)">100.0</text><text x="274.60" y="464.55" font-size="9.20" text-anchor="end" class="P" fill="#2b2b2b" transform="translate(274.60 0) scale(0.950 1) translate(-274.60 0)">150.0</text><path d="M275.40 553.00H278.20M275.40 522.43H278.20M275.40 491.87H278.20M275.40 461.30H278.20M288.40 553.00V555.80M303.00 553.00V555.80M317.60 553.00V555.80M332.20 553.00V555.80M346.80 553.00V555.80M361.40 553.00V555.80M376.00 553.00V555.80M390.60 553.00V555.80M405.20 553.00V555.80" stroke="#4a4a4a" stroke-width="1.1" fill="none"/><text font-size="8.30" text-anchor="end" class="P" fill="#2b2b2b" transform="translate(291.70 562.20) rotate(-45) scale(1.080 1)">Control</text><text font-size="8.30" text-anchor="end" class="P" fill="#2b2b2b" transform="translate(306.30 562.20) rotate(-45) scale(1.080 1)">Model</text><text font-size="8.30" text-anchor="end" class="P" fill="#2b2b2b" transform="translate(320.90 562.20) rotate(-45) scale(1.080 1)">JMZ</text><text font-size="8.30" text-anchor="end" class="P" fill="#2b2b2b" transform="translate(335.50 562.20) rotate(-45) scale(1.080 1)">TMA</text><text font-size="8.30" text-anchor="end" class="P" fill="#2b2b2b" transform="translate(350.10 562.20) rotate(-45) scale(1.080 1)">TP</text><text font-size="8.30" text-anchor="end" class="P" fill="#2b2b2b" transform="translate(364.70 562.20) rotate(-45) scale(1.080 1)">TM</text><text font-size="8.30" text-anchor="end" class="P" fill="#2b2b2b" transform="translate(379.30 562.20) rotate(-45) scale(1.080 1)">TC</text><text font-size="8.30" text-anchor="end" class="P" fill="#2b2b2b" transform="translate(393.90 562.20) rotate(-45) scale(1.080 1)">TV</text><text font-size="8.30" text-anchor="end" class="P" fill="#2b2b2b" transform="translate(408.50 562.20) rotate(-45) scale(1.080 1)">TN</text><text font-size="9.30" text-anchor="middle" class="P" fill="#2b2b2b" transform="translate(247.40 506.00) rotate(-90) scale(1.050 1)">IL-6 (pg/ml)</text><text class="L" x="239.90" y="466.60" font-size="23.3" fill="#111">j</text></g><g><circle cx="466.96" cy="538.62" r="1.45" fill="#8a8a8a" fill-opacity="0.95"/><circle cx="467.22" cy="518.88" r="1.45" fill="#8a8a8a" fill-opacity="0.95"/><circle cx="465.65" cy="533.70" r="1.45" fill="#8a8a8a" fill-opacity="0.95"/><circle cx="470.85" cy="530.28" r="1.45" fill="#8a8a8a" fill-opacity="0.95"/><circle cx="471.17" cy="531.25" r="1.45" fill="#8a8a8a" fill-opacity="0.95"/><circle cx="464.13" cy="529.32" r="1.45" fill="#8a8a8a" fill-opacity="0.95"/><circle cx="470.17" cy="522.12" r="1.45" fill="#8a8a8a" fill-opacity="0.95"/><path d="M467.50 519.43V534.79M464.60 519.43H470.40M464.60 534.79H470.40M462.70 527.11H472.30" stroke="#111111" stroke-width="1.65" fill="none"/><circle cx="481.15" cy="538.08" r="1.45" fill="#ff9a4d" fill-opacity="0.95"/><circle cx="482.51" cy="512.21" r="1.45" fill="#ff9a4d" fill-opacity="0.95"/><circle cx="485.21" cy="530.54" r="1.45" fill="#ff9a4d" fill-opacity="0.95"/><circle cx="482.58" cy="528.74" r="1.45" fill="#ff9a4d" fill-opacity="0.95"/><circle cx="478.37" cy="526.09" r="1.45" fill="#ff9a4d" fill-opacity="0.95"/><circle cx="478.07" cy="537.08" r="1.45" fill="#ff9a4d" fill-opacity="0.95"/><circle cx="479.03" cy="519.20" r="1.45" fill="#ff9a4d" fill-opacity="0.95"/><path d="M481.74 512.48V533.69M478.84 512.48H484.64M478.84 533.69H484.64M476.94 523.09H486.54" stroke="#ff6a0d" stroke-width="1.65" fill="none"/><circle cx="495.28" cy="511.57" r="1.45" fill="#ff6b6b" fill-opacity="0.95"/><circle cx="496.53" cy="471.08" r="1.45" fill="#ff6b6b" fill-opacity="0.95"/><circle cx="493.44" cy="476.86" r="1.45" fill="#ff6b6b" fill-opacity="0.95"/><circle cx="493.94" cy="490.79" r="1.45" fill="#ff6b6b" fill-opacity="0.95"/><circle cx="495.34" cy="504.95" r="1.45" fill="#ff6b6b" fill-opacity="0.95"/><circle cx="492.55" cy="493.18" r="1.45" fill="#ff6b6b" fill-opacity="0.95"/><circle cx="495.95" cy="472.20" r="1.45" fill="#ff6b6b" fill-opacity="0.95"/><path d="M495.98 472.82V500.97M493.08 472.82H498.88M493.08 500.97H498.88M491.18 486.89H500.78" stroke="#f04545" stroke-width="1.65" fill="none"/><circle cx="510.38" cy="517.42" r="1.45" fill="#f2ee1a" fill-opacity="0.95"/><circle cx="510.66" cy="487.26" r="1.45" fill="#f2ee1a" fill-opacity="0.95"/><circle cx="507.23" cy="492.29" r="1.45" fill="#f2ee1a" fill-opacity="0.95"/><circle cx="507.75" cy="511.27" r="1.45" fill="#f2ee1a" fill-opacity="0.95"/><circle cx="512.50" cy="517.04" r="1.45" fill="#f2ee1a" fill-opacity="0.95"/><circle cx="513.53" cy="502.24" r="1.45" fill="#f2ee1a" fill-opacity="0.95"/><circle cx="509.73" cy="490.76" r="1.45" fill="#f2ee1a" fill-opacity="0.95"/><path d="M510.22 487.35V509.10M507.32 487.35H513.12M507.32 509.10H513.12M505.42 498.23H515.02" stroke="#c8c21a" stroke-width="1.65" fill="none"/><circle cx="523.85" cy="535.70" r="1.45" fill="#35d69a" fill-opacity="0.95"/><circle cx="523.92" cy="503.34" r="1.45" fill="#35d69a" fill-opacity="0.95"/><circle cx="525.56" cy="509.29" r="1.45" fill="#35d69a" fill-opacity="0.95"/><circle cx="526.84" cy="528.33" r="1.45" fill="#35d69a" fill-opacity="0.95"/><circle cx="526.51" cy="516.73" r="1.45" fill="#35d69a" fill-opacity="0.95"/><circle cx="524.31" cy="523.49" r="1.45" fill="#35d69a" fill-opacity="0.95"/><circle cx="523.33" cy="505.64" r="1.45" fill="#35d69a" fill-opacity="0.95"/><path d="M524.46 508.55V533.60M521.56 508.55H527.36M521.56 533.60H527.36M519.66 521.08H529.26" stroke="#12b877" stroke-width="1.65" fill="none"/><circle cx="538.83" cy="530.40" r="1.45" fill="#3f97ff" fill-opacity="0.95"/><circle cx="539.29" cy="479.03" r="1.45" fill="#3f97ff" fill-opacity="0.95"/><circle cx="539.98" cy="503.94" r="1.45" fill="#3f97ff" fill-opacity="0.95"/><circle cx="536.79" cy="501.77" r="1.45" fill="#3f97ff" fill-opacity="0.95"/><circle cx="538.89" cy="505.87" r="1.45" fill="#3f97ff" fill-opacity="0.95"/><circle cx="541.74" cy="516.79" r="1.45" fill="#3f97ff" fill-opacity="0.95"/><circle cx="538.85" cy="505.27" r="1.45" fill="#3f97ff" fill-opacity="0.95"/><path d="M538.70 484.15V520.71M535.80 484.15H541.60M535.80 520.71H541.60M533.90 502.43H543.50" stroke="#1a8fae" stroke-width="1.65" fill="none"/><circle cx="552.81" cy="523.09" r="1.45" fill="#cf86f7" fill-opacity="0.95"/><circle cx="553.00" cy="495.12" r="1.45" fill="#cf86f7" fill-opacity="0.95"/><circle cx="552.87" cy="507.98" r="1.45" fill="#cf86f7" fill-opacity="0.95"/><circle cx="550.47" cy="513.56" r="1.45" fill="#cf86f7" fill-opacity="0.95"/><circle cx="552.51" cy="512.94" r="1.45" fill="#cf86f7" fill-opacity="0.95"/><circle cx="556.41" cy="520.52" r="1.45" fill="#cf86f7" fill-opacity="0.95"/><circle cx="552.31" cy="510.48" r="1.45" fill="#cf86f7" fill-opacity="0.95"/><path d="M552.94 501.70V520.53M550.04 501.70H555.84M550.04 520.53H555.84M548.14 511.11H557.74" stroke="#b060e0" stroke-width="1.65" fill="none"/><circle cx="567.97" cy="527.75" r="1.45" fill="#ff8fe0" fill-opacity="0.95"/><circle cx="567.11" cy="482.78" r="1.45" fill="#ff8fe0" fill-opacity="0.95"/><circle cx="566.71" cy="503.96" r="1.45" fill="#ff8fe0" fill-opacity="0.95"/><circle cx="567.19" cy="504.90" r="1.45" fill="#ff8fe0" fill-opacity="0.95"/><circle cx="566.79" cy="510.34" r="1.45" fill="#ff8fe0" fill-opacity="0.95"/><circle cx="568.85" cy="506.34" r="1.45" fill="#ff8fe0" fill-opacity="0.95"/><circle cx="570.12" cy="498.58" r="1.45" fill="#ff8fe0" fill-opacity="0.95"/><path d="M567.18 486.89V523.45M564.28 486.89H570.08M564.28 523.45H570.08M562.38 505.17H571.98" stroke="#f260cf" stroke-width="1.65" fill="none"/><circle cx="581.39" cy="529.85" r="1.45" fill="#e23be2" fill-opacity="0.95"/><circle cx="583.70" cy="511.32" r="1.45" fill="#e23be2" fill-opacity="0.95"/><circle cx="584.84" cy="520.22" r="1.45" fill="#e23be2" fill-opacity="0.95"/><circle cx="580.94" cy="509.02" r="1.45" fill="#e23be2" fill-opacity="0.95"/><circle cx="584.08" cy="506.26" r="1.45" fill="#e23be2" fill-opacity="0.95"/><circle cx="583.03" cy="527.55" r="1.45" fill="#e23be2" fill-opacity="0.95"/><circle cx="580.69" cy="483.69" r="1.45" fill="#e23be2" fill-opacity="0.95"/><path d="M581.42 498.77V531.68M578.52 498.77H584.32M578.52 531.68H584.32M576.62 515.23H586.22" stroke="#b812b8" stroke-width="1.65" fill="none"/><path d="M458.20 461.30V552.70H591.00" stroke="#4a4a4a" stroke-width="1.5" fill="none" stroke-linecap="square"/><text x="454.60" y="555.95" font-size="9.20" text-anchor="end" class="P" fill="#2b2b2b" transform="translate(454.60 0) scale(0.950 1) translate(-454.60 0)">0.0</text><text x="454.60" y="519.39" font-size="9.20" text-anchor="end" class="P" fill="#2b2b2b" transform="translate(454.60 0) scale(0.950 1) translate(-454.60 0)">40.0</text><text x="454.60" y="482.83" font-size="9.20" text-anchor="end" class="P" fill="#2b2b2b" transform="translate(454.60 0) scale(0.950 1) translate(-454.60 0)">80.0</text><path d="M455.40 552.70H458.20M455.40 516.14H458.20M455.40 479.58H458.20M455.40 461.30H458.20M467.50 552.70V555.50M481.74 552.70V555.50M495.98 552.70V555.50M510.22 552.70V555.50M524.46 552.70V555.50M538.70 552.70V555.50M552.94 552.70V555.50M567.18 552.70V555.50M581.42 552.70V555.50" stroke="#4a4a4a" stroke-width="1.1" fill="none"/><text font-size="8.30" text-anchor="end" class="P" fill="#2b2b2b" transform="translate(470.80 561.90) rotate(-45) scale(1.080 1)">Control</text><text font-size="8.30" text-anchor="end" class="P" fill="#2b2b2b" transform="translate(485.04 561.90) rotate(-45) scale(1.080 1)">Model</text><text font-size="8.30" text-anchor="end" class="P" fill="#2b2b2b" transform="translate(499.28 561.90) rotate(-45) scale(1.080 1)">JMZ</text><text font-size="8.30" text-anchor="end" class="P" fill="#2b2b2b" transform="translate(513.52 561.90) rotate(-45) scale(1.080 1)">TMA</text><text font-size="8.30" text-anchor="end" class="P" fill="#2b2b2b" transform="translate(527.76 561.90) rotate(-45) scale(1.080 1)">TP</text><text font-size="8.30" text-anchor="end" class="P" fill="#2b2b2b" transform="translate(542.00 561.90) rotate(-45) scale(1.080 1)">TM</text><text font-size="8.30" text-anchor="end" class="P" fill="#2b2b2b" transform="translate(556.24 561.90) rotate(-45) scale(1.080 1)">TC</text><text font-size="8.30" text-anchor="end" class="P" fill="#2b2b2b" transform="translate(570.48 561.90) rotate(-45) scale(1.080 1)">TV</text><text font-size="8.30" text-anchor="end" class="P" fill="#2b2b2b" transform="translate(584.72 561.90) rotate(-45) scale(1.080 1)">TN</text><text font-size="9.30" text-anchor="middle" class="P" fill="#2b2b2b" transform="translate(426.50 506.00) rotate(-90) scale(1.050 1)">IL-10 (pg/ml)</text><text class="L" x="419.00" y="466.30" font-size="23.3" fill="#111">k</text><polygon points="522.20,501.50 526.80,501.50 524.50,497.40" fill="#0a0a0a"/><polygon points="576.88,481.40 581.48,481.40 579.18,477.30" fill="#0a0a0a"/><polygon points="581.73,481.40 586.33,481.40 584.03,477.30" fill="#0a0a0a"/></g><g><circle cx="110.72" cy="667.57" r="1.45" fill="#8a8a8a" fill-opacity="0.95"/><circle cx="111.17" cy="652.94" r="1.45" fill="#8a8a8a" fill-opacity="0.95"/><circle cx="107.70" cy="664.53" r="1.45" fill="#8a8a8a" fill-opacity="0.95"/><circle cx="109.25" cy="657.55" r="1.45" fill="#8a8a8a" fill-opacity="0.95"/><circle cx="107.67" cy="654.86" r="1.45" fill="#8a8a8a" fill-opacity="0.95"/><circle cx="112.99" cy="661.43" r="1.45" fill="#8a8a8a" fill-opacity="0.95"/><circle cx="112.13" cy="664.99" r="1.45" fill="#8a8a8a" fill-opacity="0.95"/><circle cx="107.31" cy="659.48" r="1.45" fill="#8a8a8a" fill-opacity="0.95"/><path d="M110.70 654.35V664.04M107.80 654.35H113.60M107.80 664.04H113.60M105.90 659.19H115.50" stroke="#111111" stroke-width="1.65" fill="none"/><circle cx="124.85" cy="642.89" r="1.45" fill="#ff9a4d" fill-opacity="0.95"/><circle cx="121.78" cy="635.70" r="1.45" fill="#ff9a4d" fill-opacity="0.95"/><circle cx="124.99" cy="639.38" r="1.45" fill="#ff9a4d" fill-opacity="0.95"/><circle cx="124.82" cy="641.99" r="1.45" fill="#ff9a4d" fill-opacity="0.95"/><circle cx="127.79" cy="632.86" r="1.45" fill="#ff9a4d" fill-opacity="0.95"/><circle cx="125.40" cy="632.49" r="1.45" fill="#ff9a4d" fill-opacity="0.95"/><circle cx="126.30" cy="636.12" r="1.45" fill="#ff9a4d" fill-opacity="0.95"/><circle cx="125.52" cy="620.95" r="1.45" fill="#ff9a4d" fill-opacity="0.95"/><path d="M125.26 625.34V641.79M122.36 625.34H128.16M122.36 641.79H128.16M120.46 633.57H130.06" stroke="#ff6a0d" stroke-width="1.65" fill="none"/><circle cx="139.39" cy="655.96" r="1.45" fill="#ff6b6b" fill-opacity="0.95"/><circle cx="139.13" cy="638.50" r="1.45" fill="#ff6b6b" fill-opacity="0.95"/><circle cx="141.79" cy="647.00" r="1.45" fill="#ff6b6b" fill-opacity="0.95"/><circle cx="139.08" cy="651.25" r="1.45" fill="#ff6b6b" fill-opacity="0.95"/><circle cx="142.38" cy="645.37" r="1.45" fill="#ff6b6b" fill-opacity="0.95"/><circle cx="138.98" cy="646.92" r="1.45" fill="#ff6b6b" fill-opacity="0.95"/><circle cx="143.21" cy="641.65" r="1.45" fill="#ff6b6b" fill-opacity="0.95"/><circle cx="142.39" cy="654.47" r="1.45" fill="#ff6b6b" fill-opacity="0.95"/><path d="M139.82 640.05V653.22M136.92 640.05H142.72M136.92 653.22H142.72M135.02 646.64H144.62" stroke="#f04545" stroke-width="1.65" fill="none"/><circle cx="154.59" cy="659.34" r="1.45" fill="#f2ee1a" fill-opacity="0.95"/><circle cx="156.44" cy="647.33" r="1.45" fill="#f2ee1a" fill-opacity="0.95"/><circle cx="152.68" cy="651.60" r="1.45" fill="#f2ee1a" fill-opacity="0.95"/><circle cx="151.32" cy="645.66" r="1.45" fill="#f2ee1a" fill-opacity="0.95"/><circle cx="153.14" cy="655.38" r="1.45" fill="#f2ee1a" fill-opacity="0.95"/><circle cx="157.81" cy="645.37" r="1.45" fill="#f2ee1a" fill-opacity="0.95"/><circle cx="156.29" cy="652.39" r="1.45" fill="#f2ee1a" fill-opacity="0.95"/><circle cx="153.97" cy="639.96" r="1.45" fill="#f2ee1a" fill-opacity="0.95"/><path d="M154.38 644.67V658.56M151.48 644.67H157.28M151.48 658.56H157.28M149.58 651.62H159.18" stroke="#c8c21a" stroke-width="1.65" fill="none"/><circle cx="169.31" cy="649.29" r="1.45" fill="#35d69a" fill-opacity="0.95"/><circle cx="169.17" cy="629.18" r="1.45" fill="#35d69a" fill-opacity="0.95"/><circle cx="166.10" cy="638.50" r="1.45" fill="#35d69a" fill-opacity="0.95"/><circle cx="168.35" cy="639.04" r="1.45" fill="#35d69a" fill-opacity="0.95"/><circle cx="166.82" cy="639.23" r="1.45" fill="#35d69a" fill-opacity="0.95"/><circle cx="167.24" cy="644.88" r="1.45" fill="#35d69a" fill-opacity="0.95"/><circle cx="172.42" cy="647.89" r="1.45" fill="#35d69a" fill-opacity="0.95"/><circle cx="171.19" cy="643.42" r="1.45" fill="#35d69a" fill-opacity="0.95"/><path d="M168.94 632.50V648.59M166.04 632.50H171.84M166.04 648.59H171.84M164.14 640.55H173.74" stroke="#12b877" stroke-width="1.65" fill="none"/><circle cx="183.23" cy="644.35" r="1.45" fill="#3f97ff" fill-opacity="0.95"/><circle cx="182.82" cy="629.77" r="1.45" fill="#3f97ff" fill-opacity="0.95"/><circle cx="180.47" cy="642.43" r="1.45" fill="#3f97ff" fill-opacity="0.95"/><circle cx="184.11" cy="637.49" r="1.45" fill="#3f97ff" fill-opacity="0.95"/><circle cx="181.60" cy="633.66" r="1.45" fill="#3f97ff" fill-opacity="0.95"/><circle cx="184.25" cy="634.17" r="1.45" fill="#3f97ff" fill-opacity="0.95"/><circle cx="182.55" cy="637.84" r="1.45" fill="#3f97ff" fill-opacity="0.95"/><circle cx="183.15" cy="634.81" r="1.45" fill="#3f97ff" fill-opacity="0.95"/><path d="M183.50 632.93V644.62M180.60 632.93H186.40M180.60 644.62H186.40M178.70 638.77H188.30" stroke="#1a8fae" stroke-width="1.65" fill="none"/><circle cx="197.56" cy="668.48" r="1.45" fill="#cf86f7" fill-opacity="0.95"/><circle cx="198.76" cy="631.23" r="1.45" fill="#cf86f7" fill-opacity="0.95"/><circle cx="195.81" cy="637.21" r="1.45" fill="#cf86f7" fill-opacity="0.95"/><circle cx="201.39" cy="653.61" r="1.45" fill="#cf86f7" fill-opacity="0.95"/><circle cx="200.89" cy="660.79" r="1.45" fill="#cf86f7" fill-opacity="0.95"/><circle cx="198.83" cy="647.43" r="1.45" fill="#cf86f7" fill-opacity="0.95"/><circle cx="197.48" cy="644.03" r="1.45" fill="#cf86f7" fill-opacity="0.95"/><circle cx="195.13" cy="632.12" r="1.45" fill="#cf86f7" fill-opacity="0.95"/><path d="M198.06 637.22V663.18M195.16 637.22H200.96M195.16 663.18H200.96M193.26 650.20H202.86" stroke="#b060e0" stroke-width="1.65" fill="none"/><circle cx="212.97" cy="661.81" r="1.45" fill="#ff8fe0" fill-opacity="0.95"/><circle cx="212.19" cy="641.43" r="1.45" fill="#ff8fe0" fill-opacity="0.95"/><circle cx="213.06" cy="660.68" r="1.45" fill="#ff8fe0" fill-opacity="0.95"/><circle cx="215.23" cy="648.41" r="1.45" fill="#ff8fe0" fill-opacity="0.95"/><circle cx="213.47" cy="652.22" r="1.45" fill="#ff8fe0" fill-opacity="0.95"/><circle cx="210.99" cy="653.70" r="1.45" fill="#ff8fe0" fill-opacity="0.95"/><circle cx="215.71" cy="658.26" r="1.45" fill="#ff8fe0" fill-opacity="0.95"/><circle cx="210.43" cy="656.67" r="1.45" fill="#ff8fe0" fill-opacity="0.95"/><path d="M212.62 644.67V661.49M209.72 644.67H215.52M209.72 661.49H215.52M207.82 653.08H217.42" stroke="#f260cf" stroke-width="1.65" fill="none"/><circle cx="226.59" cy="662.72" r="1.45" fill="#e23be2" fill-opacity="0.95"/><circle cx="227.81" cy="637.68" r="1.45" fill="#e23be2" fill-opacity="0.95"/><circle cx="230.74" cy="643.79" r="1.45" fill="#e23be2" fill-opacity="0.95"/><circle cx="228.34" cy="649.53" r="1.45" fill="#e23be2" fill-opacity="0.95"/><circle cx="228.60" cy="652.91" r="1.45" fill="#e23be2" fill-opacity="0.95"/><circle cx="227.80" cy="649.24" r="1.45" fill="#e23be2" fill-opacity="0.95"/><circle cx="224.52" cy="646.71" r="1.45" fill="#e23be2" fill-opacity="0.95"/><circle cx="223.74" cy="643.21" r="1.45" fill="#e23be2" fill-opacity="0.95"/><path d="M227.18 641.15V659.25M224.28 641.15H230.08M224.28 659.25H230.08M222.38 650.20H231.98" stroke="#b812b8" stroke-width="1.65" fill="none"/><path d="M101.10 604.50V695.90H236.90" stroke="#4a4a4a" stroke-width="1.5" fill="none" stroke-linecap="square"/><text x="97.50" y="699.15" font-size="9.20" text-anchor="end" class="P" fill="#2b2b2b" transform="translate(97.50 0) scale(0.950 1) translate(-97.50 0)">0.00</text><text x="97.50" y="662.59" font-size="9.20" text-anchor="end" class="P" fill="#2b2b2b" transform="translate(97.50 0) scale(0.950 1) translate(-97.50 0)">0.40</text><text x="97.50" y="626.03" font-size="9.20" text-anchor="end" class="P" fill="#2b2b2b" transform="translate(97.50 0) scale(0.950 1) translate(-97.50 0)">0.80</text><path d="M98.30 695.90H101.10M98.30 659.34H101.10M98.30 622.78H101.10M98.30 604.50H101.10M110.70 695.90V698.70M125.26 695.90V698.70M139.82 695.90V698.70M154.38 695.90V698.70M168.94 695.90V698.70M183.50 695.90V698.70M198.06 695.90V698.70M212.62 695.90V698.70M227.18 695.90V698.70" stroke="#4a4a4a" stroke-width="1.1" fill="none"/><text font-size="8.30" text-anchor="end" class="P" fill="#2b2b2b" transform="translate(114.00 705.10) rotate(-45) scale(1.080 1)">Control</text><text font-size="8.30" text-anchor="end" class="P" fill="#2b2b2b" transform="translate(128.56 705.10) rotate(-45) scale(1.080 1)">Model</text><text font-size="8.30" text-anchor="end" class="P" fill="#2b2b2b" transform="translate(143.12 705.10) rotate(-45) scale(1.080 1)">JMZ</text><text font-size="8.30" text-anchor="end" class="P" fill="#2b2b2b" transform="translate(157.68 705.10) rotate(-45) scale(1.080 1)">TMA</text><text font-size="8.30" text-anchor="end" class="P" fill="#2b2b2b" transform="translate(172.24 705.10) rotate(-45) scale(1.080 1)">TP</text><text font-size="8.30" text-anchor="end" class="P" fill="#2b2b2b" transform="translate(186.80 705.10) rotate(-45) scale(1.080 1)">TM</text><text font-size="8.30" text-anchor="end" class="P" fill="#2b2b2b" transform="translate(201.36 705.10) rotate(-45) scale(1.080 1)">TC</text><text font-size="8.30" text-anchor="end" class="P" fill="#2b2b2b" transform="translate(215.92 705.10) rotate(-45) scale(1.080 1)">TV</text><text font-size="8.30" text-anchor="end" class="P" fill="#2b2b2b" transform="translate(230.48 705.10) rotate(-45) scale(1.080 1)">TN</text><text font-size="9.30" text-anchor="middle" class="P" fill="#2b2b2b" transform="translate(73.40 649.00) rotate(-90) scale(1.050 1)">Serum LPS (EU/ml)</text><text class="L" x="62.40" y="602.50" font-size="23.3" fill="#111">l</text></g><g><circle cx="291.50" cy="637.15" r="1.70" fill="none" stroke="#6a6a6a" stroke-width="0.8"/><circle cx="291.16" cy="629.24" r="1.70" fill="none" stroke="#6a6a6a" stroke-width="0.8"/><circle cx="291.43" cy="636.35" r="1.70" fill="none" stroke="#6a6a6a" stroke-width="0.8"/><circle cx="292.19" cy="633.04" r="1.70" fill="none" stroke="#6a6a6a" stroke-width="0.8"/><circle cx="288.38" cy="634.05" r="1.70" fill="none" stroke="#6a6a6a" stroke-width="0.8"/><circle cx="290.56" cy="634.45" r="1.70" fill="none" stroke="#6a6a6a" stroke-width="0.8"/><circle cx="288.50" cy="631.60" r="1.70" fill="none" stroke="#6a6a6a" stroke-width="0.8"/><path d="M291.00 631.31V635.69M288.10 631.31H293.90M288.10 635.69H293.90M286.20 633.50H295.80" stroke="#6a6a6a" stroke-width="1.65" fill="none"/><polygon points="303.09,693.93 307.51,693.93 305.30,690.02" fill="#ff9a4d" fill-opacity="0.95"/><polygon points="303.90,688.70 308.32,688.70 306.11,684.79" fill="#ff9a4d" fill-opacity="0.95"/><polygon points="299.79,691.54 304.21,691.54 302.00,687.63" fill="#ff9a4d" fill-opacity="0.95"/><polygon points="300.10,691.24 304.52,691.24 302.31,687.33" fill="#ff9a4d" fill-opacity="0.95"/><polygon points="306.42,691.88 310.84,691.88 308.63,687.97" fill="#ff9a4d" fill-opacity="0.95"/><polygon points="303.42,691.41 307.84,691.41 305.63,687.50" fill="#ff9a4d" fill-opacity="0.95"/><polygon points="300.32,692.09 304.74,692.09 302.53,688.18" fill="#ff9a4d" fill-opacity="0.95"/><path d="M305.56 688.46V691.38M302.66 688.46H308.46M302.66 691.38H308.46M300.76 689.92H310.36" stroke="#ff6a0d" stroke-width="1.65" fill="none"/><circle cx="319.58" cy="669.37" r="1.70" fill="none" stroke="#f04545" stroke-width="0.8"/><circle cx="319.40" cy="660.86" r="1.70" fill="none" stroke="#f04545" stroke-width="0.8"/><circle cx="317.69" cy="666.16" r="1.70" fill="none" stroke="#f04545" stroke-width="0.8"/><circle cx="322.46" cy="663.66" r="1.70" fill="none" stroke="#f04545" stroke-width="0.8"/><circle cx="319.38" cy="663.95" r="1.70" fill="none" stroke="#f04545" stroke-width="0.8"/><circle cx="319.52" cy="664.22" r="1.70" fill="none" stroke="#f04545" stroke-width="0.8"/><circle cx="320.83" cy="664.03" r="1.70" fill="none" stroke="#f04545" stroke-width="0.8"/><path d="M320.12 662.87V668.46M317.22 662.87H323.02M317.22 668.46H323.02M315.32 665.66H324.92" stroke="#f04545" stroke-width="1.65" fill="none"/><circle cx="334.98" cy="687.00" r="1.45" fill="#f2ee1a" fill-opacity="0.95"/><circle cx="334.06" cy="660.25" r="1.45" fill="#f2ee1a" fill-opacity="0.95"/><circle cx="332.72" cy="683.41" r="1.45" fill="#f2ee1a" fill-opacity="0.95"/><circle cx="333.67" cy="672.40" r="1.45" fill="#f2ee1a" fill-opacity="0.95"/><circle cx="334.76" cy="670.79" r="1.45" fill="#f2ee1a" fill-opacity="0.95"/><circle cx="336.97" cy="679.28" r="1.45" fill="#f2ee1a" fill-opacity="0.95"/><circle cx="334.68" cy="678.59" r="1.45" fill="#f2ee1a" fill-opacity="0.95"/><path d="M334.68 662.87V684.75M331.78 662.87H337.58M331.78 684.75H337.58M329.88 673.81H339.48" stroke="#c8c21a" stroke-width="1.65" fill="none"/><circle cx="349.68" cy="685.54" r="1.45" fill="#35d69a" fill-opacity="0.95"/><circle cx="349.32" cy="678.25" r="1.45" fill="#35d69a" fill-opacity="0.95"/><circle cx="346.86" cy="683.30" r="1.45" fill="#35d69a" fill-opacity="0.95"/><circle cx="350.69" cy="681.07" r="1.45" fill="#35d69a" fill-opacity="0.95"/><circle cx="345.81" cy="683.87" r="1.45" fill="#35d69a" fill-opacity="0.95"/><circle cx="347.59" cy="680.70" r="1.45" fill="#35d69a" fill-opacity="0.95"/><circle cx="348.09" cy="681.35" r="1.45" fill="#35d69a" fill-opacity="0.95"/><path d="M349.24 679.53V683.90M346.34 679.53H352.14M346.34 683.90H352.14M344.44 681.71H354.04" stroke="#12b877" stroke-width="1.65" fill="none"/><circle cx="363.76" cy="684.09" r="1.45" fill="#3f97ff" fill-opacity="0.95"/><circle cx="367.19" cy="668.37" r="1.45" fill="#3f97ff" fill-opacity="0.95"/><circle cx="363.66" cy="677.42" r="1.45" fill="#3f97ff" fill-opacity="0.95"/><circle cx="367.17" cy="677.67" r="1.45" fill="#3f97ff" fill-opacity="0.95"/><circle cx="361.34" cy="680.66" r="1.45" fill="#3f97ff" fill-opacity="0.95"/><circle cx="366.94" cy="674.63" r="1.45" fill="#3f97ff" fill-opacity="0.95"/><circle cx="363.30" cy="663.60" r="1.45" fill="#3f97ff" fill-opacity="0.95"/><path d="M363.80 667.85V683.90M360.90 667.85H366.70M360.90 683.90H366.70M359.00 675.88H368.60" stroke="#1a8fae" stroke-width="1.65" fill="none"/><circle cx="377.57" cy="686.09" r="1.45" fill="#cf86f7" fill-opacity="0.95"/><circle cx="378.55" cy="676.67" r="1.45" fill="#cf86f7" fill-opacity="0.95"/><circle cx="381.94" cy="681.22" r="1.45" fill="#cf86f7" fill-opacity="0.95"/><circle cx="382.05" cy="679.09" r="1.45" fill="#cf86f7" fill-opacity="0.95"/><circle cx="378.39" cy="681.08" r="1.45" fill="#cf86f7" fill-opacity="0.95"/><circle cx="374.84" cy="680.86" r="1.45" fill="#cf86f7" fill-opacity="0.95"/><circle cx="377.05" cy="683.55" r="1.45" fill="#cf86f7" fill-opacity="0.95"/><path d="M378.36 678.25V684.09M375.46 678.25H381.26M375.46 684.09H381.26M373.56 681.17H383.16" stroke="#a22cf0" stroke-width="1.65" fill="none"/><circle cx="392.54" cy="686.09" r="1.45" fill="#ff8fe0" fill-opacity="0.95"/><circle cx="393.55" cy="672.41" r="1.45" fill="#ff8fe0" fill-opacity="0.95"/><circle cx="390.42" cy="675.96" r="1.45" fill="#ff8fe0" fill-opacity="0.95"/><circle cx="391.38" cy="681.78" r="1.45" fill="#ff8fe0" fill-opacity="0.95"/><circle cx="395.68" cy="682.38" r="1.45" fill="#ff8fe0" fill-opacity="0.95"/><circle cx="391.28" cy="686.04" r="1.45" fill="#ff8fe0" fill-opacity="0.95"/><circle cx="396.20" cy="680.05" r="1.45" fill="#ff8fe0" fill-opacity="0.95"/><path d="M392.92 671.62V685.97M390.02 671.62H395.82M390.02 685.97H395.82M388.12 678.80H397.72" stroke="#f260cf" stroke-width="1.65" fill="none"/><circle cx="407.79" cy="687.61" r="1.45" fill="#e23be2" fill-opacity="0.95"/><circle cx="408.10" cy="675.45" r="1.45" fill="#e23be2" fill-opacity="0.95"/><circle cx="406.89" cy="683.21" r="1.45" fill="#e23be2" fill-opacity="0.95"/><circle cx="405.57" cy="683.39" r="1.45" fill="#e23be2" fill-opacity="0.95"/><circle cx="407.00" cy="685.25" r="1.45" fill="#e23be2" fill-opacity="0.95"/><circle cx="411.03" cy="683.29" r="1.45" fill="#e23be2" fill-opacity="0.95"/><circle cx="407.92" cy="679.68" r="1.45" fill="#e23be2" fill-opacity="0.95"/><path d="M407.48 678.25V687.00M404.58 678.25H410.38M404.58 687.00H410.38M402.68 682.63H412.28" stroke="#b812b8" stroke-width="1.65" fill="none"/><path d="M281.10 603.10V694.30H417.90" stroke="#4a4a4a" stroke-width="1.5" fill="none" stroke-linecap="square"/><text x="277.50" y="697.55" font-size="9.20" text-anchor="end" class="P" fill="#2b2b2b" transform="translate(277.50 0) scale(0.950 1) translate(-277.50 0)">0.00</text><text x="277.50" y="667.15" font-size="9.20" text-anchor="end" class="P" fill="#2b2b2b" transform="translate(277.50 0) scale(0.950 1) translate(-277.50 0)">5.00</text><text x="277.50" y="636.75" font-size="9.20" text-anchor="end" class="P" fill="#2b2b2b" transform="translate(277.50 0) scale(0.950 1) translate(-277.50 0)">10.00</text><text x="277.50" y="606.35" font-size="9.20" text-anchor="end" class="P" fill="#2b2b2b" transform="translate(277.50 0) scale(0.950 1) translate(-277.50 0)">15.00</text><path d="M278.30 694.30H281.10M278.30 663.90H281.10M278.30 633.50H281.10M278.30 603.10H281.10M291.00 694.30V697.10M305.56 694.30V697.10M320.12 694.30V697.10M334.68 694.30V697.10M349.24 694.30V697.10M363.80 694.30V697.10M378.36 694.30V697.10M392.92 694.30V697.10M407.48 694.30V697.10" stroke="#4a4a4a" stroke-width="1.1" fill="none"/><text font-size="8.30" text-anchor="end" class="P" fill="#2b2b2b" transform="translate(294.30 703.50) rotate(-45) scale(1.080 1)">Control</text><text font-size="8.30" text-anchor="end" class="P" fill="#2b2b2b" transform="translate(308.86 703.50) rotate(-45) scale(1.080 1)">Model</text><text font-size="8.30" text-anchor="end" class="P" fill="#2b2b2b" transform="translate(323.42 703.50) rotate(-45) scale(1.080 1)">JMZ</text><text font-size="8.30" text-anchor="end" class="P" fill="#2b2b2b" transform="translate(337.98 703.50) rotate(-45) scale(1.080 1)">TMA</text><text font-size="8.30" text-anchor="end" class="P" fill="#2b2b2b" transform="translate(352.54 703.50) rotate(-45) scale(1.080 1)">TP</text><text font-size="8.30" text-anchor="end" class="P" fill="#2b2b2b" transform="translate(367.10 703.50) rotate(-45) scale(1.080 1)">TM</text><text font-size="8.30" text-anchor="end" class="P" fill="#2b2b2b" transform="translate(381.66 703.50) rotate(-45) scale(1.080 1)">TC</text><text font-size="8.30" text-anchor="end" class="P" fill="#2b2b2b" transform="translate(396.22 703.50) rotate(-45) scale(1.080 1)">TV</text><text font-size="8.30" text-anchor="end" class="P" fill="#2b2b2b" transform="translate(410.78 703.50) rotate(-45) scale(1.080 1)">TN</text><text font-size="9.30" text-anchor="middle" class="P" fill="#2b2b2b" transform="translate(249.10 647.00) rotate(-90) scale(1.050 1)">Occludin mRNA</text><text class="L" x="233.20" y="602.90" font-size="23.3" fill="#111">m</text><polygon points="342.25,676.60 346.85,676.60 344.55,672.50" fill="#0a0a0a"/><polygon points="347.10,676.60 351.70,676.60 349.40,672.50" fill="#0a0a0a"/><polygon points="351.95,676.60 356.55,676.60 354.25,672.50" fill="#0a0a0a"/><polygon points="361.70,659.90 366.30,659.90 364.00,655.80" fill="#0a0a0a"/><polygon points="371.35,673.10 375.95,673.10 373.65,669.00" fill="#0a0a0a"/><polygon points="376.20,673.10 380.80,673.10 378.50,669.00" fill="#0a0a0a"/><polygon points="381.05,673.10 385.65,673.10 383.35,669.00" fill="#0a0a0a"/><polygon points="388.27,668.40 392.88,668.40 390.57,664.30" fill="#0a0a0a"/><polygon points="393.12,668.40 397.73,668.40 395.43,664.30" fill="#0a0a0a"/><polygon points="400.45,673.10 405.05,673.10 402.75,669.00" fill="#0a0a0a"/><polygon points="405.30,673.10 409.90,673.10 407.60,669.00" fill="#0a0a0a"/><polygon points="410.15,673.10 414.75,673.10 412.45,669.00" fill="#0a0a0a"/></g><g><circle cx="469.46" cy="632.82" r="1.45" fill="#555" fill-opacity="0.95"/><circle cx="469.31" cy="617.79" r="1.45" fill="#555" fill-opacity="0.95"/><circle cx="470.13" cy="626.53" r="1.45" fill="#555" fill-opacity="0.95"/><circle cx="467.78" cy="619.70" r="1.45" fill="#555" fill-opacity="0.95"/><circle cx="468.38" cy="629.51" r="1.45" fill="#555" fill-opacity="0.95"/><circle cx="469.39" cy="624.96" r="1.45" fill="#555" fill-opacity="0.95"/><circle cx="472.40" cy="623.33" r="1.45" fill="#555" fill-opacity="0.95"/><path d="M469.90 621.43V630.91M467.00 621.43H472.80M467.00 630.91H472.80M465.10 626.17H474.70" stroke="#111111" stroke-width="1.65" fill="none"/><polygon points="482.74,687.05 487.16,687.05 484.95,690.96" fill="#ff9a4d" fill-opacity="0.95"/><polygon points="482.94,680.77 487.36,680.77 485.15,684.68" fill="#ff9a4d" fill-opacity="0.95"/><polygon points="484.39,683.18 488.81,683.18 486.60,687.09" fill="#ff9a4d" fill-opacity="0.95"/><polygon points="480.42,683.14 484.84,683.14 482.63,687.05" fill="#ff9a4d" fill-opacity="0.95"/><polygon points="484.81,683.11 489.23,683.11 487.02,687.02" fill="#ff9a4d" fill-opacity="0.95"/><polygon points="482.12,682.00 486.54,682.00 484.33,685.91" fill="#ff9a4d" fill-opacity="0.95"/><polygon points="484.11,680.79 488.53,680.79 486.32,684.70" fill="#ff9a4d" fill-opacity="0.95"/><path d="M484.43 682.74V686.57M481.53 682.74H487.33M481.53 686.57H487.33M479.63 684.65H489.23" stroke="#ff6a0d" stroke-width="1.65" fill="none"/><rect x="496.85" y="670.04" width="3.00" height="3.00" fill="#ff6b6b" fill-opacity="0.95"/><rect x="497.94" y="663.39" width="3.00" height="3.00" fill="#ff6b6b" fill-opacity="0.95"/><rect x="501.05" y="669.76" width="3.00" height="3.00" fill="#ff6b6b" fill-opacity="0.95"/><rect x="498.87" y="669.08" width="3.00" height="3.00" fill="#ff6b6b" fill-opacity="0.95"/><rect x="497.86" y="667.98" width="3.00" height="3.00" fill="#ff6b6b" fill-opacity="0.95"/><rect x="499.30" y="668.54" width="3.00" height="3.00" fill="#ff6b6b" fill-opacity="0.95"/><rect x="494.76" y="665.59" width="3.00" height="3.00" fill="#ff6b6b" fill-opacity="0.95"/><path d="M498.96 666.48V670.85M496.06 666.48H501.86M496.06 670.85H501.86M494.16 668.67H503.76" stroke="#f04545" stroke-width="1.65" fill="none"/><circle cx="513.66" cy="686.70" r="1.45" fill="#f2ee1a" fill-opacity="0.95"/><circle cx="512.90" cy="676.55" r="1.45" fill="#f2ee1a" fill-opacity="0.95"/><circle cx="513.42" cy="683.18" r="1.45" fill="#f2ee1a" fill-opacity="0.95"/><circle cx="511.53" cy="684.64" r="1.45" fill="#f2ee1a" fill-opacity="0.95"/><circle cx="511.53" cy="680.84" r="1.45" fill="#f2ee1a" fill-opacity="0.95"/><circle cx="511.23" cy="679.94" r="1.45" fill="#f2ee1a" fill-opacity="0.95"/><circle cx="512.50" cy="684.00" r="1.45" fill="#f2ee1a" fill-opacity="0.95"/><path d="M513.49 678.41V685.06M510.59 678.41H516.39M510.59 685.06H516.39M508.69 681.74H518.29" stroke="#c8c21a" stroke-width="1.65" fill="none"/><circle cx="528.71" cy="686.70" r="1.45" fill="#35d69a" fill-opacity="0.95"/><circle cx="527.45" cy="677.09" r="1.45" fill="#35d69a" fill-opacity="0.95"/><circle cx="530.29" cy="682.62" r="1.45" fill="#35d69a" fill-opacity="0.95"/><circle cx="530.52" cy="678.92" r="1.45" fill="#35d69a" fill-opacity="0.95"/><circle cx="529.05" cy="680.64" r="1.45" fill="#35d69a" fill-opacity="0.95"/><circle cx="525.50" cy="679.83" r="1.45" fill="#35d69a" fill-opacity="0.95"/><circle cx="527.38" cy="683.08" r="1.45" fill="#35d69a" fill-opacity="0.95"/><path d="M528.02 679.42V685.25M525.12 679.42H530.92M525.12 685.25H530.92M523.22 682.33H532.82" stroke="#12b877" stroke-width="1.65" fill="none"/><circle cx="541.97" cy="687.30" r="1.45" fill="#3f97ff" fill-opacity="0.95"/><circle cx="542.72" cy="678.82" r="1.45" fill="#3f97ff" fill-opacity="0.95"/><circle cx="544.20" cy="679.22" r="1.45" fill="#3f97ff" fill-opacity="0.95"/><circle cx="540.42" cy="686.95" r="1.45" fill="#3f97ff" fill-opacity="0.95"/><circle cx="543.42" cy="682.34" r="1.45" fill="#3f97ff" fill-opacity="0.95"/><circle cx="543.15" cy="684.59" r="1.45" fill="#3f97ff" fill-opacity="0.95"/><circle cx="543.23" cy="681.38" r="1.45" fill="#3f97ff" fill-opacity="0.95"/><path d="M542.55 680.01V685.84M539.65 680.01H545.45M539.65 685.84H545.45M537.75 682.92H547.35" stroke="#1a8fae" stroke-width="1.65" fill="none"/><circle cx="557.37" cy="685.84" r="1.45" fill="#cf86f7" fill-opacity="0.95"/><circle cx="556.64" cy="677.46" r="1.45" fill="#cf86f7" fill-opacity="0.95"/><circle cx="553.89" cy="683.76" r="1.45" fill="#cf86f7" fill-opacity="0.95"/><circle cx="558.14" cy="684.42" r="1.45" fill="#cf86f7" fill-opacity="0.95"/><circle cx="557.50" cy="678.47" r="1.45" fill="#cf86f7" fill-opacity="0.95"/><circle cx="557.40" cy="682.93" r="1.45" fill="#cf86f7" fill-opacity="0.95"/><circle cx="553.67" cy="679.90" r="1.45" fill="#cf86f7" fill-opacity="0.95"/><path d="M557.08 678.82V684.65M554.18 678.82H559.98M554.18 684.65H559.98M552.28 681.74H561.88" stroke="#b060e0" stroke-width="1.65" fill="none"/><circle cx="571.24" cy="686.70" r="1.45" fill="#ff8fe0" fill-opacity="0.95"/><circle cx="570.93" cy="675.18" r="1.45" fill="#ff8fe0" fill-opacity="0.95"/><circle cx="571.39" cy="683.80" r="1.45" fill="#ff8fe0" fill-opacity="0.95"/><circle cx="570.62" cy="680.53" r="1.45" fill="#ff8fe0" fill-opacity="0.95"/><circle cx="574.09" cy="681.29" r="1.45" fill="#ff8fe0" fill-opacity="0.95"/><circle cx="567.95" cy="681.35" r="1.45" fill="#ff8fe0" fill-opacity="0.95"/><circle cx="570.39" cy="680.07" r="1.45" fill="#ff8fe0" fill-opacity="0.95"/><path d="M571.61 678.41V684.52M568.71 678.41H574.51M568.71 684.52H574.51M566.81 681.47H576.41" stroke="#f260cf" stroke-width="1.65" fill="none"/><circle cx="586.14" cy="688.16" r="1.45" fill="#e23be2" fill-opacity="0.95"/><circle cx="586.52" cy="675.18" r="1.45" fill="#e23be2" fill-opacity="0.95"/><circle cx="584.35" cy="681.49" r="1.45" fill="#e23be2" fill-opacity="0.95"/><circle cx="587.50" cy="681.28" r="1.45" fill="#e23be2" fill-opacity="0.95"/><circle cx="588.72" cy="685.16" r="1.45" fill="#e23be2" fill-opacity="0.95"/><circle cx="584.35" cy="681.86" r="1.45" fill="#e23be2" fill-opacity="0.95"/><circle cx="586.79" cy="682.80" r="1.45" fill="#e23be2" fill-opacity="0.95"/><path d="M586.14 677.82V685.11M583.24 677.82H589.04M583.24 685.11H589.04M581.34 681.47H590.94" stroke="#b812b8" stroke-width="1.65" fill="none"/><path d="M460.50 602.30V693.40H597.10" stroke="#4a4a4a" stroke-width="1.5" fill="none" stroke-linecap="square"/><text x="456.90" y="696.65" font-size="9.20" text-anchor="end" class="P" fill="#2b2b2b" transform="translate(456.90 0) scale(0.950 1) translate(-456.90 0)">0.0</text><text x="456.90" y="651.10" font-size="9.20" text-anchor="end" class="P" fill="#2b2b2b" transform="translate(456.90 0) scale(0.950 1) translate(-456.90 0)">10.0</text><text x="456.90" y="605.55" font-size="9.20" text-anchor="end" class="P" fill="#2b2b2b" transform="translate(456.90 0) scale(0.950 1) translate(-456.90 0)">20.0</text><path d="M457.70 693.40H460.50M457.70 647.85H460.50M457.70 602.30H460.50M469.90 693.40V696.20M484.43 693.40V696.20M498.96 693.40V696.20M513.49 693.40V696.20M528.02 693.40V696.20M542.55 693.40V696.20M557.08 693.40V696.20M571.61 693.40V696.20M586.14 693.40V696.20" stroke="#4a4a4a" stroke-width="1.1" fill="none"/><text font-size="8.30" text-anchor="end" class="P" fill="#2b2b2b" transform="translate(473.20 702.60) rotate(-45) scale(1.080 1)">Control</text><text font-size="8.30" text-anchor="end" class="P" fill="#2b2b2b" transform="translate(487.73 702.60) rotate(-45) scale(1.080 1)">Model</text><text font-size="8.30" text-anchor="end" class="P" fill="#2b2b2b" transform="translate(502.26 702.60) rotate(-45) scale(1.080 1)">JMZ</text><text font-size="8.30" text-anchor="end" class="P" fill="#2b2b2b" transform="translate(516.79 702.60) rotate(-45) scale(1.080 1)">TMA</text><text font-size="8.30" text-anchor="end" class="P" fill="#2b2b2b" transform="translate(531.32 702.60) rotate(-45) scale(1.080 1)">TP</text><text font-size="8.30" text-anchor="end" class="P" fill="#2b2b2b" transform="translate(545.85 702.60) rotate(-45) scale(1.080 1)">TM</text><text font-size="8.30" text-anchor="end" class="P" fill="#2b2b2b" transform="translate(560.38 702.60) rotate(-45) scale(1.080 1)">TC</text><text font-size="8.30" text-anchor="end" class="P" fill="#2b2b2b" transform="translate(574.91 702.60) rotate(-45) scale(1.080 1)">TV</text><text font-size="8.30" text-anchor="end" class="P" fill="#2b2b2b" transform="translate(589.44 702.60) rotate(-45) scale(1.080 1)">TN</text><text font-size="9.30" text-anchor="middle" class="P" fill="#2b2b2b" transform="translate(433.00 647.00) rotate(-90) scale(1.050 1)">ZO-1 mRNA</text><text class="L" x="419.00" y="602.00" font-size="23.3" fill="#111">n</text><polygon points="506.25,673.70 510.85,673.70 508.55,669.60" fill="#0a0a0a"/><polygon points="511.10,673.70 515.70,673.70 513.40,669.60" fill="#0a0a0a"/><polygon points="515.95,673.70 520.55,673.70 518.25,669.60" fill="#0a0a0a"/><polygon points="520.85,676.00 525.45,676.00 523.15,671.90" fill="#0a0a0a"/><polygon points="525.70,676.00 530.30,676.00 528.00,671.90" fill="#0a0a0a"/><polygon points="530.55,676.00 535.15,676.00 532.85,671.90" fill="#0a0a0a"/><polygon points="535.25,677.20 539.85,677.20 537.55,673.10" fill="#0a0a0a"/><polygon points="540.10,677.20 544.70,677.20 542.40,673.10" fill="#0a0a0a"/><polygon points="544.95,677.20 549.55,677.20 547.25,673.10" fill="#0a0a0a"/><polygon points="550.15,674.50 554.75,674.50 552.45,670.40" fill="#0a0a0a"/><polygon points="555.00,674.50 559.60,674.50 557.30,670.40" fill="#0a0a0a"/><polygon points="559.85,674.50 564.45,674.50 562.15,670.40" fill="#0a0a0a"/><polygon points="565.35,673.10 569.95,673.10 567.65,669.00" fill="#0a0a0a"/><polygon points="570.20,673.10 574.80,673.10 572.50,669.00" fill="#0a0a0a"/><polygon points="575.05,673.10 579.65,673.10 577.35,669.00" fill="#0a0a0a"/><polygon points="580.35,672.50 584.95,672.50 582.65,668.40" fill="#0a0a0a"/><polygon points="585.20,672.50 589.80,672.50 587.50,668.40" fill="#0a0a0a"/><polygon points="590.05,672.50 594.65,672.50 592.35,668.40" fill="#0a0a0a"/></g>
</svg>
</div>
</body></html>
